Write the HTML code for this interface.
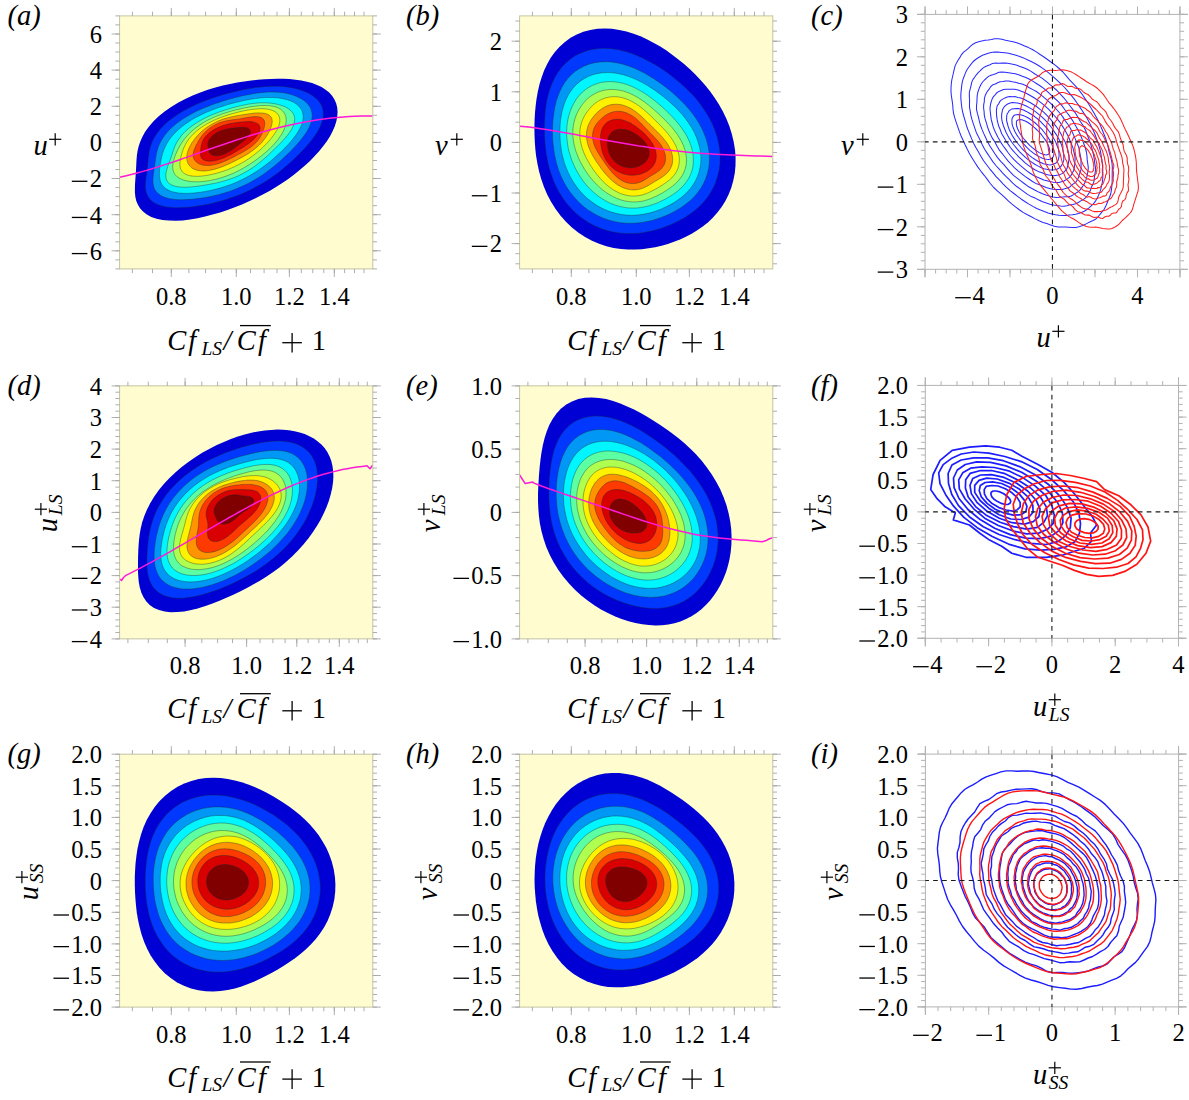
<!DOCTYPE html>
<html><head><meta charset="utf-8"><title>figure</title>
<style>html,body{margin:0;padding:0;background:#fff}svg{display:block}</style>
</head><body>
<svg width="1189" height="1100" viewBox="0 0 1189 1100" font-family='"Liberation Serif", serif' fill="#000">
<rect width="1189" height="1100" fill="#fff"/>
<g id="p_a">
<rect x="119.6" y="15.9" width="253.2" height="253" fill="#fffdd0"/>
<clipPath id="cl_a"><rect x="119.6" y="15.9" width="253.2" height="253"/></clipPath>
<g clip-path="url(#cl_a)" stroke-linejoin="round">
<path d="M136.3,164L136.5,159.9L136.9,155.6L137.5,151.2L138.6,146.5L140.2,141.7L142.4,136.7L145.3,131.6L149,126.4L153.5,121.3L158.7,116.3L164.6,111.4L171.1,106.9L178,102.7L185.2,98.9L192.7,95.4L200.3,92.4L207.8,89.7L215.4,87.5L222.8,85.5L230.1,83.9L237.2,82.5L244.2,81.4L251.1,80.5L257.8,79.8L264.4,79.2L270.8,78.9L277.2,78.8L283.5,78.8L289.6,79.1L295.5,79.7L301.3,80.5L306.9,81.7L312.1,83.1L317,84.9L321.6,87.1L325.6,89.7L329.2,92.6L332.1,95.8L334.5,99.4L336.2,103.4L337.2,107.6L337.6,112L337.2,116.7L336.3,121.5L334.7,126.4L332.5,131.4L329.9,136.4L326.7,141.4L323.1,146.3L319.1,151.3L314.7,156.1L310,160.9L305,165.6L299.7,170.1L294.2,174.6L288.3,178.9L282.3,183.1L276,187.1L269.5,190.9L262.8,194.5L256,198L249.1,201.3L242,204.4L234.8,207.3L227.5,209.9L220.1,212.4L212.6,214.6L205.1,216.6L197.6,218.2L190.1,219.5L182.8,220.4L175.6,220.7L168.8,220.6L162.4,219.9L156.5,218.7L151.3,216.9L146.8,214.5L143,211.6L140,208.3L137.8,204.6L136.2,200.7L135.3,196.6L134.9,192.4L134.9,188.2L135,184L135.3,179.9L135.6,175.9L135.9,171.9L136.1,168Z" fill="#0000d4"/>
<path d="M148,161.9L148.3,158.4L148.7,154.8L149.3,151L150.2,147L151.7,142.8L153.7,138.5L156.5,134L159.9,129.5L164.1,125.1L168.9,120.8L174.3,116.7L180.2,112.8L186.4,109.3L192.8,106L199.3,103.1L205.8,100.5L212.4,98.1L218.8,96L225.2,94.1L231.5,92.5L237.7,91L243.8,89.6L249.8,88.5L255.7,87.6L261.5,86.9L267.2,86.4L272.8,86.2L278.1,86.3L283.3,86.6L288.3,87.2L293,88L297.5,89.1L301.8,90.4L305.8,92L309.5,93.8L312.9,95.9L315.9,98.2L318.5,100.8L320.6,103.8L322.2,107L323.1,110.5L323.4,114.2L323,118.1L321.9,122.2L320.3,126.5L318.1,130.7L315.4,135L312.3,139.3L308.9,143.5L305.2,147.7L301.3,151.8L297.3,155.9L293.1,159.9L288.7,163.9L284.2,167.8L279.4,171.7L274.3,175.5L269,179.2L263.5,182.7L257.6,186.1L251.6,189.3L245.4,192.3L239.1,194.9L232.7,197.3L226.3,199.5L219.9,201.3L213.5,203L207.2,204.4L200.9,205.5L194.7,206.5L188.6,207.2L182.6,207.6L176.8,207.8L171.2,207.5L166,206.9L161.2,205.8L156.9,204.2L153.3,202.2L150.4,199.7L148.2,196.8L146.7,193.7L145.8,190.2L145.4,186.7L145.5,183L145.8,179.4L146.3,175.8L146.9,172.3L147.3,168.8L147.7,165.4Z" fill="#0038ff" stroke="#1a2a38" stroke-opacity="0.55" stroke-width="0.7"/>
<path d="M155.3,160.8L155.8,157.6L156.3,154.3L157.1,150.9L158.2,147.3L159.7,143.5L161.8,139.7L164.4,135.7L167.6,131.7L171.5,127.8L175.9,123.9L180.8,120.3L186.1,116.9L191.6,113.7L197.3,110.8L203.1,108.2L208.9,105.9L214.7,103.8L220.4,101.9L226,100.1L231.5,98.5L237,97.1L242.4,95.8L247.7,94.7L253,93.7L258.2,92.9L263.3,92.4L268.2,92.1L273,92L277.7,92.2L282.1,92.6L286.3,93.3L290.2,94.2L294,95.4L297.4,96.8L300.6,98.4L303.6,100.2L306.1,102.3L308.3,104.7L310.1,107.2L311.3,110.1L312,113.2L312.2,116.5L311.7,120L310.7,123.6L309.1,127.4L307.1,131.2L304.6,135L301.8,138.8L298.6,142.6L295.3,146.3L291.8,150L288.2,153.6L284.5,157.1L280.6,160.7L276.5,164.2L272.3,167.7L267.9,171.1L263.2,174.5L258.2,177.7L253.1,180.8L247.7,183.7L242.2,186.3L236.5,188.7L230.9,190.9L225.2,192.7L219.5,194.4L213.9,195.7L208.4,196.9L203,197.9L197.6,198.6L192.3,199.2L187.2,199.6L182.1,199.8L177.3,199.7L172.7,199.2L168.4,198.5L164.5,197.3L161.1,195.7L158.3,193.8L156.1,191.5L154.5,188.9L153.5,186L153,182.9L152.9,179.8L153.1,176.6L153.5,173.4L153.9,170.2L154.4,167.1L154.9,164Z" fill="#0098f4" stroke="#1a2a38" stroke-opacity="0.55" stroke-width="0.7"/>
<path d="M161.1,159.6L161.8,156.6L162.6,153.5L163.7,150.3L165.1,147L166.8,143.6L169,140.1L171.7,136.5L174.9,133L178.5,129.5L182.6,126.1L187,122.9L191.7,119.8L196.7,117L201.8,114.4L206.9,112.1L212,110L217.1,108.1L222.2,106.4L227.1,104.8L232,103.4L236.8,102.2L241.5,101.1L246.2,100.1L250.8,99.2L255.4,98.5L259.8,98L264.2,97.6L268.5,97.5L272.6,97.5L276.6,97.7L280.4,98.2L284,98.9L287.4,99.8L290.6,100.9L293.5,102.3L296.1,103.8L298.4,105.7L300.2,107.8L301.7,110.1L302.7,112.7L303.1,115.4L303.1,118.4L302.6,121.5L301.6,124.8L300.1,128.1L298.2,131.5L296,134.9L293.4,138.3L290.7,141.7L287.7,145L284.6,148.2L281.3,151.4L277.9,154.6L274.4,157.8L270.8,160.9L266.9,164L262.9,167L258.8,169.9L254.4,172.8L249.8,175.5L245.1,178.1L240.2,180.5L235.3,182.7L230.3,184.7L225.2,186.4L220.2,188L215.3,189.3L210.4,190.5L205.5,191.4L200.7,192.2L196,192.8L191.4,193.2L187,193.4L182.7,193.3L178.6,193L174.8,192.3L171.3,191.4L168.3,190.1L165.6,188.5L163.5,186.5L161.9,184.4L160.7,182L159.9,179.4L159.5,176.7L159.4,173.9L159.5,171.1L159.7,168.2L160.1,165.4L160.6,162.5Z" fill="#00f6ff" stroke="#1a2a38" stroke-opacity="0.55" stroke-width="0.7"/>
<path d="M171.1,157.3L172,154.7L172.8,152.1L173.7,149.5L174.7,146.7L176,143.9L177.6,140.9L179.7,137.9L182.1,134.8L185,131.7L188.4,128.7L192.1,125.8L196.2,123L200.5,120.4L204.9,118.1L209.4,115.9L214,114L218.5,112.3L223,110.7L227.4,109.3L231.8,108L236.1,106.8L240.3,105.8L244.5,104.9L248.5,104.1L252.6,103.5L256.5,103.1L260.3,102.8L264,102.8L267.5,102.9L270.9,103.2L274.1,103.6L277.2,104.3L280.1,105L282.9,106L285.5,107.1L287.8,108.4L289.9,109.9L291.7,111.6L293.2,113.5L294.1,115.7L294.7,118L294.6,120.6L294.1,123.4L293.1,126.3L291.6,129.2L289.7,132.3L287.5,135.3L285,138.2L282.3,141.2L279.6,144L276.8,146.8L273.9,149.6L271,152.4L268.1,155.2L265,157.9L261.8,160.7L258.4,163.5L254.8,166.2L251,168.8L246.9,171.3L242.7,173.6L238.3,175.8L233.9,177.7L229.4,179.3L225,180.7L220.6,181.9L216.3,183L212,183.8L207.8,184.6L203.7,185.3L199.5,185.9L195.4,186.5L191.3,186.9L187.3,187.2L183.3,187.2L179.6,187L176.1,186.5L173,185.6L170.4,184.4L168.4,182.7L166.9,180.8L166.1,178.5L165.8,176L165.9,173.3L166.5,170.6L167.3,167.9L168.2,165.1L169.2,162.5L170.2,159.9Z" fill="#5cffa2" stroke="#1a2a38" stroke-opacity="0.55" stroke-width="0.7"/>
<path d="M175.1,155.8L176.1,153.4L177.2,151L178.4,148.5L179.8,145.9L181.4,143.3L183.2,140.7L185.2,138L187.6,135.3L190.2,132.6L193.1,130L196.4,127.4L199.9,124.9L203.6,122.5L207.4,120.4L211.4,118.4L215.4,116.6L219.5,115L223.5,113.5L227.4,112.3L231.3,111.1L235.1,110.1L238.9,109.2L242.6,108.3L246.3,107.6L250,106.9L253.6,106.4L257.2,105.9L260.7,105.6L264.2,105.5L267.5,105.6L270.6,105.8L273.5,106.4L276.2,107.1L278.6,108.1L280.7,109.3L282.4,110.8L283.8,112.4L284.9,114.2L285.7,116.2L286.1,118.3L286.2,120.5L286,122.9L285.5,125.3L284.8,127.8L283.7,130.3L282.4,132.9L280.8,135.5L279,138.2L277,140.8L274.8,143.4L272.4,146L269.8,148.6L267.1,151.1L264.2,153.6L261.2,156L258.1,158.4L254.9,160.8L251.5,163.1L248,165.3L244.4,167.5L240.7,169.6L236.9,171.5L233,173.4L229,175L225,176.5L221,177.8L217.1,179L213.1,179.9L209.3,180.7L205.6,181.2L201.9,181.6L198.4,181.8L195.1,181.8L191.9,181.6L188.8,181.3L186,180.7L183.3,180L180.9,179.1L178.8,177.9L177,176.6L175.5,175.1L174.3,173.4L173.5,171.5L172.9,169.5L172.7,167.4L172.8,165.2L173.1,162.9L173.6,160.6L174.3,158.2Z" fill="#aeff50" stroke="#1a2a38" stroke-opacity="0.55" stroke-width="0.7"/>
<path d="M181.9,153.2L182.6,151.2L183.3,149.1L184.2,146.9L185.3,144.7L186.6,142.4L188.1,140.1L189.9,137.7L192.1,135.3L194.5,132.9L197.2,130.5L200.2,128.2L203.3,126.1L206.7,124L210.2,122.2L213.7,120.4L217.2,118.9L220.8,117.5L224.3,116.2L227.8,115L231.2,114L234.5,113.1L237.8,112.2L241.1,111.4L244.4,110.7L247.6,110.1L250.8,109.6L254,109.2L257.1,108.9L260.1,108.7L263,108.7L265.8,108.9L268.5,109.3L270.9,109.9L273.1,110.7L275,111.7L276.6,112.9L277.9,114.3L278.9,115.9L279.5,117.6L279.8,119.5L279.8,121.5L279.4,123.7L278.8,125.9L277.9,128.1L276.7,130.4L275.4,132.7L273.8,135L272.1,137.3L270.3,139.5L268.3,141.8L266.2,144L264,146.2L261.7,148.5L259.3,150.6L256.7,152.8L254,154.9L251.2,157L248.3,159L245.2,161L242,162.9L238.7,164.6L235.4,166.3L232,167.8L228.5,169.3L225.1,170.6L221.6,171.7L218.2,172.8L214.7,173.7L211.3,174.5L208,175.2L204.7,175.7L201.5,176.1L198.3,176.3L195.4,176.3L192.5,176.1L189.9,175.7L187.6,175.1L185.5,174.2L183.8,173.1L182.4,171.8L181.3,170.3L180.5,168.7L180.1,166.9L179.9,165.1L179.9,163.2L180.1,161.2L180.4,159.2L180.8,157.3L181.3,155.3Z" fill="#fff200" stroke="#1a2a38" stroke-opacity="0.55" stroke-width="0.7"/>
<path d="M188,150.8L188.7,149L189.5,147.2L190.5,145.3L191.6,143.3L192.9,141.4L194.4,139.4L196,137.3L197.8,135.3L199.7,133.3L201.9,131.2L204.3,129.2L206.9,127.3L209.7,125.5L212.6,123.8L215.6,122.2L218.7,120.8L221.8,119.6L224.9,118.6L227.9,117.7L230.8,117L233.7,116.4L236.5,115.8L239.2,115.4L241.9,114.9L244.5,114.5L247.2,114.1L249.9,113.7L252.6,113.3L255.3,113L258,112.9L260.6,112.9L263.1,113.1L265.3,113.5L267.3,114.1L269,115L270.3,116.1L271.3,117.4L271.9,118.9L272.2,120.6L272.2,122.3L271.9,124.1L271.5,126L270.8,127.9L270,129.8L269.1,131.7L268.1,133.6L267,135.5L265.7,137.4L264.3,139.3L262.8,141.2L261.1,143.2L259.2,145.1L257.2,146.9L255,148.7L252.7,150.5L250.3,152.2L247.8,153.9L245.2,155.4L242.6,157L239.9,158.4L237.2,159.8L234.5,161.2L231.7,162.6L228.9,163.9L226.1,165.1L223.1,166.4L220.1,167.5L217.1,168.5L214.1,169.4L211.1,170.1L208.2,170.6L205.4,170.9L202.7,171L200.3,170.8L198,170.5L196,169.9L194.1,169.2L192.5,168.4L191.1,167.3L190,166.2L189,165L188.2,163.7L187.6,162.3L187.1,160.8L186.8,159.3L186.7,157.7L186.8,156.1L187,154.4L187.4,152.6Z" fill="#ff9400" stroke="#1a2a38" stroke-opacity="0.55" stroke-width="0.7"/>
<path d="M194.8,148.3L195.5,146.7L196.2,145.1L197.1,143.5L198,141.9L198.9,140.2L200,138.5L201.1,136.8L202.5,135L204,133.2L205.7,131.4L207.7,129.7L209.8,128L212.2,126.4L214.8,124.9L217.4,123.7L220.1,122.6L222.8,121.7L225.5,121L228,120.5L230.5,120.1L232.8,119.8L235,119.5L237.2,119.2L239.4,118.9L241.6,118.5L243.8,118.1L246.1,117.7L248.5,117.3L250.9,116.9L253.2,116.7L255.5,116.6L257.7,116.7L259.6,117L261.3,117.6L262.6,118.5L263.7,119.5L264.3,120.7L264.7,122.1L264.8,123.6L264.7,125.1L264.4,126.6L264,128.2L263.5,129.8L262.9,131.3L262.3,132.9L261.6,134.5L260.8,136L259.9,137.6L258.8,139.2L257.6,140.8L256.1,142.5L254.5,144L252.8,145.6L250.9,147.1L248.8,148.5L246.7,149.8L244.6,151.1L242.5,152.3L240.3,153.5L238.2,154.6L236,155.8L233.9,156.9L231.6,158L229.4,159.1L227.1,160.2L224.7,161.3L222.2,162.3L219.7,163.2L217.2,164L214.7,164.6L212.2,165.1L209.8,165.4L207.6,165.5L205.4,165.4L203.5,165.2L201.7,164.8L200,164.2L198.5,163.5L197.2,162.7L196.1,161.8L195.1,160.8L194.3,159.7L193.7,158.5L193.3,157.2L193.1,155.9L193.1,154.4L193.3,153L193.6,151.4L194.1,149.9Z" fill="#ff3a00" stroke="#1a2a38" stroke-opacity="0.55" stroke-width="0.7"/>
<path d="M201.1,146.4L201.3,145.2L201.6,144L201.9,142.8L202.4,141.5L203,140.1L203.8,138.7L204.8,137.3L206,135.9L207.4,134.4L209.1,133L210.8,131.6L212.8,130.3L214.9,129.1L217,128L219.2,127L221.5,126.1L223.7,125.3L225.9,124.7L228,124.1L230.1,123.6L232.1,123.2L234,122.9L235.9,122.6L237.8,122.4L239.6,122.1L241.5,121.9L243.3,121.8L245.1,121.7L246.8,121.6L248.6,121.6L250.3,121.6L251.9,121.8L253.5,122L254.9,122.4L256.2,122.9L257.4,123.5L258.4,124.2L259.1,125.1L259.7,126.1L260,127.1L260.1,128.3L260,129.5L259.7,130.8L259.2,132.1L258.5,133.5L257.6,134.9L256.5,136.2L255.4,137.6L254.1,138.9L252.7,140.2L251.3,141.5L249.8,142.7L248.2,143.9L246.6,145L245,146.1L243.4,147.2L241.8,148.2L240.1,149.3L238.4,150.3L236.7,151.3L235,152.3L233.2,153.3L231.3,154.4L229.4,155.3L227.4,156.3L225.3,157.3L223.1,158.2L220.9,159L218.7,159.7L216.5,160.3L214.3,160.8L212.1,161.1L210.1,161.2L208.2,161.2L206.5,160.9L205,160.5L203.7,160L202.6,159.3L201.8,158.4L201.1,157.5L200.7,156.4L200.4,155.3L200.3,154.2L200.3,153.1L200.4,152L200.5,150.8L200.6,149.7L200.8,148.6L200.9,147.5Z" fill="#d80000" stroke="#1a2a38" stroke-opacity="0.55" stroke-width="0.7"/>
<path d="M207.8,145L207.7,144.2L207.8,143.3L208,142.4L208.3,141.4L208.7,140.4L209.3,139.3L210.1,138.3L211,137.2L212.1,136.1L213.3,135.1L214.7,134.1L216.1,133.1L217.7,132.3L219.3,131.5L220.9,130.8L222.5,130.2L224.1,129.7L225.6,129.3L227.1,128.9L228.5,128.7L229.9,128.4L231.3,128.3L232.5,128.1L233.8,128L235,127.8L236.2,127.7L237.5,127.6L238.7,127.5L240,127.4L241.2,127.3L242.5,127.3L243.7,127.3L244.9,127.4L246.1,127.6L247.1,127.8L248.1,128.2L248.9,128.7L249.5,129.2L250,129.9L250.3,130.7L250.4,131.5L250.3,132.5L250,133.5L249.5,134.5L248.9,135.5L248.1,136.6L247.2,137.6L246.2,138.6L245.2,139.6L244.1,140.5L243,141.4L242,142.3L240.9,143.1L239.8,143.9L238.8,144.7L237.7,145.6L236.7,146.4L235.6,147.2L234.5,148.1L233.3,148.9L232,149.8L230.7,150.7L229.3,151.5L227.9,152.3L226.3,153.1L224.8,153.8L223.2,154.4L221.5,154.9L220,155.3L218.4,155.6L217,155.7L215.6,155.7L214.3,155.6L213.2,155.4L212.3,155L211.4,154.6L210.7,154L210.2,153.4L209.7,152.8L209.4,152.1L209.1,151.4L208.9,150.7L208.7,150L208.5,149.3L208.4,148.6L208.2,147.9L208.1,147.2L207.9,146.5L207.8,145.8Z" fill="#800000" stroke="#1a2a38" stroke-opacity="0.55" stroke-width="0.7"/>
<path d="M119.4,177.2L125.3,175.9L131.2,174.5L137.1,173L143,171.4L148.9,169.7L154.8,167.9L160.7,166L166.5,164.1L172.4,162.2L178.3,160.2L184.2,158.1L190.1,156.1L196,154L201.9,151.9L207.8,149.8L213.7,147.8L219.6,145.7L225.5,143.7L231.4,141.7L237.3,139.8L243.2,137.9L249,136L254.9,134.2L260.8,132.5L266.7,130.8L272.6,129.2L278.5,127.7L284.4,126.3L290.3,124.9L296.2,123.7L302.1,122.5L308,121.4L313.9,120.4L319.8,119.5L325.7,118.7L331.5,118L337.4,117.4L343.3,116.9L349.2,116.6L355.1,116.3L361,116.1L366.9,116L372.8,116" fill="none" stroke="#ff1ad9" stroke-width="1.5" stroke-linejoin="round"/>
</g>
<rect x="119.6" y="15.9" width="253.2" height="253" fill="none" stroke="#c4c4a4" stroke-width="1"/>
<path d="M132.4,11.7V15.9M132.4,268.9V273.1M152.5,11.7V15.9M152.5,268.9V273.1M171.3,11.7V15.9M171.3,268.9V273.1M188.9,11.7V15.9M188.9,268.9V273.1M205.6,11.7V15.9M205.6,268.9V273.1M221.4,11.7V15.9M221.4,268.9V273.1M236.3,11.7V15.9M236.3,268.9V273.1M250.5,11.7V15.9M250.5,268.9V273.1M264.1,11.7V15.9M264.1,268.9V273.1M277,11.7V15.9M277,268.9V273.1M289.4,11.7V15.9M289.4,268.9V273.1M301.3,11.7V15.9M301.3,268.9V273.1M312.8,11.7V15.9M312.8,268.9V273.1M323.8,11.7V15.9M323.8,268.9V273.1M334.3,11.7V15.9M334.3,268.9V273.1M344.6,11.7V15.9M344.6,268.9V273.1M354.5,11.7V15.9M354.5,268.9V273.1M364,11.7V15.9M364,268.9V273.1M171.3,7.9V15.9M171.3,268.9V276.9M236.3,7.9V15.9M236.3,268.9V276.9M289.4,7.9V15.9M289.4,268.9V276.9M334.3,7.9V15.9M334.3,268.9V276.9M115.4,268.9H119.6M372.8,268.9H377M115.4,259.9H119.6M372.8,259.9H377M115.4,250.8H119.6M372.8,250.8H377M115.4,241.8H119.6M372.8,241.8H377M115.4,232.8H119.6M372.8,232.8H377M115.4,223.7H119.6M372.8,223.7H377M115.4,214.7H119.6M372.8,214.7H377M115.4,205.7H119.6M372.8,205.7H377M115.4,196.6H119.6M372.8,196.6H377M115.4,187.6H119.6M372.8,187.6H377M115.4,178.5H119.6M372.8,178.5H377M115.4,169.5H119.6M372.8,169.5H377M115.4,160.5H119.6M372.8,160.5H377M115.4,151.4H119.6M372.8,151.4H377M115.4,142.4H119.6M372.8,142.4H377M115.4,133.4H119.6M372.8,133.4H377M115.4,124.3H119.6M372.8,124.3H377M115.4,115.3H119.6M372.8,115.3H377M115.4,106.3H119.6M372.8,106.3H377M115.4,97.2H119.6M372.8,97.2H377M115.4,88.2H119.6M372.8,88.2H377M115.4,79.2H119.6M372.8,79.2H377M115.4,70.1H119.6M372.8,70.1H377M115.4,61.1H119.6M372.8,61.1H377M115.4,52H119.6M372.8,52H377M115.4,43H119.6M372.8,43H377M115.4,34H119.6M372.8,34H377M115.4,24.9H119.6M372.8,24.9H377M115.4,15.9H119.6M372.8,15.9H377M111.6,250.8H119.6M372.8,250.8H380.8M111.6,214.7H119.6M372.8,214.7H380.8M111.6,178.5H119.6M372.8,178.5H380.8M111.6,142.4H119.6M372.8,142.4H380.8M111.6,106.3H119.6M372.8,106.3H380.8M111.6,70.1H119.6M372.8,70.1H380.8M111.6,34H119.6M372.8,34H380.8" stroke="#a6a6a6" stroke-width="0.9" fill="none"/>
</g>
<g id="p_b">
<rect x="519.6" y="15.9" width="253.2" height="253" fill="#fffdd0"/>
<clipPath id="cl_b"><rect x="519.6" y="15.9" width="253.2" height="253"/></clipPath>
<g clip-path="url(#cl_b)" stroke-linejoin="round">
<path d="M534.5,134.2L534.4,127L534.6,119.8L535,112.6L535.7,105.5L536.6,98.4L537.9,91.3L539.5,84.3L541.6,77.4L544.1,70.6L547.2,64.1L550.7,57.8L554.9,52L559.6,46.7L564.9,41.9L570.6,37.8L576.8,34.4L583.4,31.8L590.3,29.9L597.4,28.8L604.7,28.4L612,28.8L619.3,29.9L626.5,31.5L633.6,33.7L640.5,36.3L647.3,39.4L653.9,42.9L660.3,46.6L666.5,50.6L672.5,54.9L678.4,59.4L684.1,64.1L689.7,69L695.1,74.2L700.3,79.7L705.4,85.5L710.2,91.5L714.8,97.9L719,104.6L722.9,111.5L726.4,118.8L729.4,126.3L731.8,134L733.7,141.8L735,149.7L735.6,157.6L735.5,165.5L734.8,173.1L733.3,180.6L731.3,187.8L728.6,194.6L725.4,201.1L721.6,207.1L717.4,212.6L712.8,217.7L707.9,222.4L702.7,226.6L697.3,230.3L691.7,233.7L685.9,236.7L680,239.4L674,241.8L667.8,243.9L661.6,245.7L655.2,247.2L648.6,248.3L641.9,249.2L635,249.6L628,249.6L620.9,249L613.6,247.9L606.4,246.2L599.1,243.8L592,240.8L585,237L578.2,232.6L571.9,227.5L565.9,221.8L560.4,215.5L555.4,208.8L551,201.8L547.2,194.4L544,186.9L541.3,179.3L539.1,171.6L537.5,164L536.2,156.4L535.3,148.9L534.8,141.5Z" fill="#0000d4"/>
<path d="M544.7,136.2L544.5,130.2L544.5,124.2L544.8,118.2L545.2,112.2L545.9,106.3L546.9,100.3L548.3,94.4L550,88.6L552.2,82.9L554.9,77.4L558,72.2L561.7,67.3L565.8,62.9L570.4,59L575.5,55.6L581,52.9L586.8,50.8L592.8,49.3L599.1,48.5L605.4,48.3L611.8,48.7L618.2,49.7L624.5,51.2L630.6,53.1L636.7,55.4L642.6,58L648.3,60.9L653.9,64L659.3,67.3L664.6,70.8L669.7,74.5L674.7,78.4L679.7,82.5L684.5,86.8L689.1,91.3L693.7,96.1L698,101.1L702,106.5L705.8,112.1L709.3,117.9L712.4,124.1L715,130.4L717.1,136.8L718.7,143.4L719.7,150.1L720.1,156.7L720,163.2L719.2,169.6L717.8,175.8L715.9,181.7L713.5,187.3L710.6,192.6L707.3,197.5L703.6,202.1L699.6,206.3L695.3,210.1L690.8,213.5L686.1,216.7L681.3,219.5L676.4,222.1L671.3,224.4L666.1,226.5L660.8,228.4L655.4,230L649.8,231.3L644.1,232.4L638.2,233.2L632.2,233.6L626.1,233.5L619.8,233.1L613.4,232.1L607,230.5L600.7,228.4L594.5,225.7L588.4,222.4L582.5,218.6L577,214.2L571.9,209.3L567.2,204L562.9,198.3L559.2,192.4L555.9,186.2L553.2,179.9L550.9,173.6L549,167.2L547.6,160.9L546.4,154.6L545.6,148.4L545,142.3Z" fill="#0038ff" stroke="#1a2a38" stroke-opacity="0.55" stroke-width="0.7"/>
<path d="M552.6,137.7L552.5,132.5L552.6,127.3L552.8,122.1L553.3,117L554,111.9L554.9,106.8L556.1,101.7L557.7,96.8L559.6,91.9L561.9,87.2L564.6,82.8L567.7,78.6L571.3,74.7L575.3,71.3L579.7,68.4L584.5,65.9L589.6,64L594.9,62.7L600.4,61.9L606,61.7L611.7,62.1L617.4,62.9L623.1,64.3L628.6,66L634.1,68.1L639.3,70.5L644.5,73.1L649.4,76L654.3,79L659,82.2L663.5,85.5L668,89L672.4,92.6L676.7,96.4L680.9,100.4L684.9,104.6L688.8,109L692.5,113.6L696,118.5L699.2,123.6L702.1,128.9L704.5,134.4L706.5,140.1L708,145.8L709,151.6L709.4,157.3L709.3,163L708.6,168.6L707.3,173.9L705.6,179L703.4,183.8L700.8,188.3L697.8,192.5L694.5,196.4L691,199.9L687.2,203.1L683.3,206.1L679.2,208.8L675,211.2L670.7,213.5L666.2,215.5L661.7,217.3L657,218.9L652.2,220.4L647.3,221.5L642.2,222.4L636.9,223L631.6,223.3L626.1,223.2L620.5,222.7L614.8,221.7L609.1,220.2L603.5,218.3L597.9,215.8L592.5,212.8L587.3,209.4L582.4,205.5L577.8,201.2L573.6,196.6L569.8,191.7L566.3,186.5L563.4,181.2L560.8,175.7L558.6,170.2L556.9,164.7L555.5,159.2L554.4,153.7L553.6,148.3L553,143Z" fill="#0098f4" stroke="#1a2a38" stroke-opacity="0.55" stroke-width="0.7"/>
<path d="M560.1,139L559.9,134.3L559.9,129.7L560.1,125.1L560.5,120.6L561.2,116.1L562,111.6L563.2,107.2L564.6,102.9L566.4,98.7L568.5,94.6L571,90.8L573.8,87.2L577,83.9L580.6,80.9L584.5,78.4L588.7,76.3L593.2,74.6L597.9,73.4L602.8,72.7L607.8,72.6L612.9,72.8L618,73.6L623.1,74.7L628.1,76.3L632.9,78.1L637.7,80.2L642.3,82.6L646.8,85.1L651.2,87.9L655.4,90.7L659.5,93.7L663.5,96.8L667.5,100.1L671.3,103.5L675.1,107L678.7,110.7L682.2,114.6L685.6,118.8L688.7,123.1L691.6,127.6L694.2,132.3L696.4,137.2L698.2,142.2L699.6,147.3L700.5,152.4L700.9,157.4L700.8,162.4L700.1,167.3L699.1,172L697.5,176.4L695.6,180.6L693.2,184.6L690.6,188.2L687.7,191.6L684.5,194.7L681.2,197.5L677.7,200.1L674.1,202.5L670.4,204.6L666.6,206.6L662.6,208.4L658.6,210.1L654.4,211.5L650.2,212.8L645.7,213.8L641.2,214.6L636.5,215.1L631.6,215.3L626.7,215.1L621.7,214.5L616.6,213.5L611.5,212.1L606.5,210.3L601.5,208L596.7,205.3L592.1,202.1L587.7,198.7L583.6,194.9L579.8,190.8L576.4,186.4L573.3,181.9L570.6,177.2L568.2,172.5L566.1,167.6L564.4,162.8L563,158L561.9,153.2L561.1,148.4L560.5,143.7Z" fill="#00f6ff" stroke="#1a2a38" stroke-opacity="0.55" stroke-width="0.7"/>
<path d="M567,139.4L566.7,135.3L566.7,131.2L566.9,127.1L567.3,123.1L568,119.2L568.9,115.4L570.1,111.6L571.5,108L573.2,104.5L575.1,101.1L577.3,97.8L579.8,94.8L582.6,92L585.6,89.5L589,87.2L592.6,85.3L596.4,83.8L600.5,82.6L604.7,81.9L609.1,81.6L613.6,81.7L618.1,82.3L622.6,83.2L627.1,84.6L631.5,86.3L635.8,88.3L639.9,90.5L644,92.9L647.8,95.5L651.6,98.3L655.2,101.1L658.7,104L662.2,107L665.6,110.1L668.9,113.3L672.1,116.6L675.3,120.1L678.3,123.7L681.3,127.5L684,131.5L686.5,135.6L688.7,139.9L690.5,144.3L691.9,148.9L692.9,153.4L693.3,157.9L693.3,162.4L692.9,166.7L691.9,170.8L690.5,174.7L688.7,178.3L686.5,181.7L684.1,184.8L681.5,187.6L678.6,190.2L675.6,192.6L672.6,194.7L669.4,196.7L666.2,198.6L662.8,200.3L659.5,201.9L656,203.4L652.4,204.7L648.6,205.9L644.7,206.8L640.7,207.6L636.5,208L632.2,208.1L627.8,207.9L623.3,207.2L618.8,206.2L614.3,204.8L609.8,203L605.5,200.7L601.3,198.2L597.2,195.3L593.4,192.1L589.8,188.7L586.4,185L583.3,181.2L580.5,177.2L578,173.1L575.7,169L573.7,164.8L571.9,160.6L570.5,156.3L569.2,152.1L568.2,147.8L567.5,143.6Z" fill="#5cffa2" stroke="#1a2a38" stroke-opacity="0.55" stroke-width="0.7"/>
<path d="M573.3,139.9L572.9,136.2L572.8,132.5L573,128.9L573.4,125.4L574.1,121.9L575,118.6L576.1,115.4L577.5,112.3L579.1,109.3L580.9,106.5L582.9,103.8L585.1,101.2L587.5,98.8L590.1,96.6L593,94.7L596.1,93L599.4,91.6L602.9,90.5L606.6,89.8L610.4,89.5L614.3,89.5L618.3,90L622.4,90.8L626.4,92.1L630.3,93.6L634.1,95.5L637.9,97.6L641.4,99.9L644.9,102.3L648.2,104.9L651.4,107.5L654.5,110.2L657.5,112.9L660.5,115.7L663.4,118.5L666.3,121.4L669.2,124.5L672.1,127.7L674.8,131L677.4,134.5L679.7,138.2L681.8,142L683.6,146L685,150L685.9,154.1L686.4,158.1L686.4,162L686,165.8L685,169.4L683.7,172.8L682,175.9L680,178.7L677.8,181.3L675.4,183.7L672.8,185.9L670.2,187.8L667.6,189.7L664.8,191.4L662.1,193.1L659.3,194.6L656.4,196.1L653.4,197.5L650.3,198.8L647.1,199.9L643.7,200.9L640.1,201.5L636.4,201.9L632.6,201.9L628.7,201.6L624.7,200.9L620.6,199.8L616.6,198.3L612.7,196.5L608.9,194.3L605.2,191.9L601.7,189.2L598.4,186.2L595.3,183.1L592.3,179.9L589.6,176.5L587.1,173L584.7,169.5L582.6,165.9L580.6,162.3L578.8,158.6L577.3,154.9L575.9,151.2L574.8,147.4L573.9,143.7Z" fill="#aeff50" stroke="#1a2a38" stroke-opacity="0.55" stroke-width="0.7"/>
<path d="M580.4,140.8L579.9,137.5L579.8,134.3L579.9,131.1L580.2,128L580.9,125L581.7,122.1L582.8,119.3L584.1,116.7L585.5,114.2L587.1,111.8L588.9,109.5L590.8,107.3L592.9,105.3L595.1,103.4L597.5,101.6L600.1,100.1L602.9,98.8L605.9,97.8L609,97.1L612.3,96.7L615.7,96.7L619.2,97L622.7,97.8L626.2,98.9L629.6,100.3L633,102L636.2,104L639.3,106.1L642.3,108.4L645.1,110.8L647.8,113.2L650.4,115.6L653,118.1L655.5,120.6L658,123.1L660.5,125.6L663.1,128.2L665.6,131L668,133.8L670.4,136.9L672.6,140.1L674.6,143.4L676.3,146.9L677.7,150.4L678.7,154L679.3,157.6L679.3,161.1L679,164.5L678.2,167.7L677,170.6L675.5,173.3L673.6,175.8L671.6,178L669.4,180L667.2,181.7L664.8,183.4L662.5,184.9L660.1,186.4L657.8,187.8L655.4,189.2L652.9,190.5L650.4,191.8L647.8,193L645,194.1L642.1,195L639.1,195.6L635.9,196L632.5,196.1L629.1,195.8L625.6,195.1L622,194.1L618.6,192.7L615.1,190.9L611.9,188.9L608.7,186.5L605.7,184L602.9,181.3L600.3,178.5L597.8,175.6L595.5,172.7L593.3,169.7L591.3,166.6L589.4,163.5L587.6,160.4L585.9,157.2L584.4,154L583.1,150.8L582,147.5L581.1,144.2Z" fill="#fff200" stroke="#1a2a38" stroke-opacity="0.55" stroke-width="0.7"/>
<path d="M587.2,141.8L586.7,138.9L586.5,136.1L586.5,133.4L586.8,130.7L587.4,128.1L588.1,125.7L589.1,123.4L590.3,121.2L591.6,119.1L593,117.2L594.5,115.3L596.1,113.5L597.9,111.8L599.8,110.2L601.8,108.7L603.9,107.4L606.2,106.2L608.7,105.3L611.3,104.6L614.1,104.3L617,104.2L620,104.5L623,105.2L626.1,106.2L629,107.5L631.9,109.1L634.7,110.9L637.4,112.9L639.9,115L642.2,117.1L644.5,119.3L646.7,121.4L648.8,123.5L651,125.6L653.1,127.8L655.3,129.9L657.6,132.1L659.8,134.4L662,136.8L664.2,139.4L666.3,142.1L668.2,145L669.8,148L671.2,151.1L672.1,154.2L672.6,157.3L672.7,160.4L672.4,163.3L671.6,166L670.5,168.4L669.1,170.7L667.4,172.7L665.6,174.4L663.6,176L661.6,177.4L659.6,178.7L657.6,179.9L655.6,181.1L653.6,182.3L651.7,183.5L649.7,184.7L647.7,185.9L645.5,187L643.2,188.1L640.8,188.9L638.2,189.5L635.4,189.9L632.6,189.9L629.6,189.6L626.6,188.9L623.5,187.9L620.6,186.5L617.7,184.9L614.9,182.9L612.3,180.8L609.8,178.5L607.5,176.1L605.3,173.7L603.3,171.2L601.3,168.7L599.5,166.1L597.7,163.6L596,161L594.4,158.4L592.8,155.8L591.4,153.1L590.1,150.3L588.9,147.5L587.9,144.7Z" fill="#ff9400" stroke="#1a2a38" stroke-opacity="0.55" stroke-width="0.7"/>
<path d="M593.5,142.7L592.9,140.3L592.6,137.9L592.5,135.5L592.7,133.2L593.1,131L593.8,128.9L594.6,127L595.7,125.2L596.8,123.5L598.1,121.9L599.5,120.4L601,118.9L602.5,117.6L604.2,116.3L605.9,115.1L607.7,114.1L609.7,113.1L611.7,112.3L613.9,111.7L616.3,111.4L618.7,111.3L621.2,111.5L623.7,112L626.3,112.8L628.8,113.9L631.3,115.3L633.6,116.8L635.9,118.5L637.9,120.3L639.9,122.2L641.8,124.1L643.6,126L645.3,127.8L647,129.6L648.7,131.4L650.5,133.2L652.3,135L654.2,136.9L656.1,138.9L657.9,141L659.7,143.2L661.4,145.6L662.8,148.1L664,150.7L664.9,153.3L665.4,155.9L665.6,158.5L665.4,160.9L664.8,163.2L663.9,165.3L662.7,167.1L661.3,168.8L659.7,170.3L658,171.5L656.3,172.7L654.6,173.8L652.9,174.8L651.2,175.8L649.6,176.8L648,177.8L646.3,178.9L644.6,179.9L642.8,180.9L640.9,181.9L638.9,182.6L636.7,183.2L634.4,183.6L631.9,183.6L629.4,183.3L626.8,182.7L624.2,181.8L621.7,180.5L619.3,179L617,177.2L614.8,175.3L612.8,173.3L611,171.2L609.3,169.1L607.7,166.9L606.1,164.8L604.7,162.7L603.2,160.6L601.8,158.6L600.4,156.5L599.1,154.3L597.7,152.1L596.5,149.9L595.3,147.6L594.3,145.2Z" fill="#ff3a00" stroke="#1a2a38" stroke-opacity="0.55" stroke-width="0.7"/>
<path d="M600.8,144.8L600.6,143L600.4,141.3L600.3,139.5L600.4,137.7L600.5,135.9L600.7,134.1L601,132.3L601.4,130.6L602,128.9L602.8,127.3L603.7,125.8L604.8,124.4L606.1,123.1L607.5,122L609.1,121L610.9,120.3L612.7,119.7L614.7,119.4L616.7,119.3L618.7,119.3L620.8,119.6L622.9,120L625,120.7L627,121.4L629,122.3L630.9,123.3L632.7,124.4L634.5,125.5L636.2,126.7L637.8,127.9L639.4,129.2L641,130.5L642.5,131.8L643.9,133.1L645.4,134.5L646.7,136L648.1,137.5L649.4,139.1L650.6,140.7L651.8,142.4L652.8,144.1L653.8,145.9L654.6,147.8L655.3,149.7L655.8,151.6L656.1,153.5L656.3,155.4L656.3,157.3L656,159.1L655.6,160.9L655.1,162.5L654.3,164.1L653.4,165.5L652.4,166.9L651.2,168.1L650,169.3L648.7,170.3L647.2,171.2L645.8,172L644.2,172.7L642.6,173.4L641,173.9L639.3,174.4L637.5,174.7L635.7,175L633.9,175.2L632,175.2L630,175.2L628,175L626,174.6L624,174.1L622,173.5L620,172.6L618,171.7L616.1,170.5L614.2,169.3L612.5,167.9L610.9,166.4L609.3,164.7L608,163L606.7,161.3L605.6,159.5L604.6,157.6L603.8,155.8L603,153.9L602.4,152.1L601.9,150.3L601.4,148.4L601.1,146.6Z" fill="#d80000" stroke="#1a2a38" stroke-opacity="0.55" stroke-width="0.7"/>
<path d="M607.6,146.8L607.5,145.5L607.4,144.3L607.4,143.1L607.5,141.8L607.6,140.6L607.8,139.4L608.1,138.2L608.5,137L609.1,135.8L609.7,134.7L610.5,133.7L611.3,132.7L612.3,131.9L613.5,131.1L614.7,130.5L616,130L617.4,129.6L618.8,129.3L620.3,129.2L621.8,129.2L623.4,129.3L624.9,129.5L626.4,129.9L627.9,130.3L629.4,130.8L630.8,131.4L632.2,132.1L633.5,132.8L634.8,133.5L636,134.3L637.3,135.1L638.4,136L639.6,136.9L640.7,137.8L641.8,138.8L642.8,139.8L643.8,140.8L644.8,141.9L645.6,143.1L646.4,144.3L647.2,145.5L647.8,146.8L648.3,148.1L648.7,149.4L649,150.7L649.2,152L649.2,153.3L649.1,154.6L648.9,155.9L648.5,157.1L648,158.2L647.5,159.3L646.8,160.3L646,161.3L645.1,162.2L644.2,163L643.2,163.8L642.1,164.5L641,165.1L639.9,165.7L638.7,166.2L637.4,166.6L636.1,167L634.8,167.3L633.4,167.5L631.9,167.7L630.5,167.7L629,167.7L627.5,167.6L625.9,167.3L624.4,167L622.9,166.5L621.4,165.9L619.9,165.2L618.5,164.5L617.2,163.6L615.9,162.6L614.7,161.5L613.6,160.4L612.7,159.3L611.8,158.1L611,156.8L610.3,155.6L609.7,154.3L609.2,153L608.7,151.8L608.4,150.5L608.1,149.3L607.8,148Z" fill="#800000" stroke="#1a2a38" stroke-opacity="0.55" stroke-width="0.7"/>
<path d="M519.6,126.2L523,126.6L523,126.4L528.8,127.1L534.6,127.8L540.4,128.7L546.2,129.6L552,130.5L557.9,131.5L563.7,132.5L569.5,133.5L575.3,134.6L581.1,135.7L586.9,136.8L592.7,137.9L598.5,138.9L604.3,140L610.1,141.1L615.9,142.1L621.8,143.1L627.6,144.1L633.4,145L639.2,146L645,146.8L650.8,147.7L656.6,148.5L662.4,149.3L668.2,150L674,150.7L679.9,151.3L685.7,151.9L691.5,152.4L697.3,152.9L703.1,153.4L708.9,153.8L714.7,154.2L720.5,154.5L726.3,154.8L732.1,155.1L737.9,155.3L743.8,155.5L749.6,155.7L755.4,155.9L761.2,156.1L767,156.2L772.8,156.4" fill="none" stroke="#ff1ad9" stroke-width="1.5" stroke-linejoin="round"/>
</g>
<rect x="519.6" y="15.9" width="253.2" height="253" fill="none" stroke="#c4c4a4" stroke-width="1"/>
<path d="M532.4,11.7V15.9M532.4,268.9V273.1M552.5,11.7V15.9M552.5,268.9V273.1M571.3,11.7V15.9M571.3,268.9V273.1M588.9,11.7V15.9M588.9,268.9V273.1M605.6,11.7V15.9M605.6,268.9V273.1M621.4,11.7V15.9M621.4,268.9V273.1M636.3,11.7V15.9M636.3,268.9V273.1M650.5,11.7V15.9M650.5,268.9V273.1M664.1,11.7V15.9M664.1,268.9V273.1M677,11.7V15.9M677,268.9V273.1M689.4,11.7V15.9M689.4,268.9V273.1M701.3,11.7V15.9M701.3,268.9V273.1M712.8,11.7V15.9M712.8,268.9V273.1M723.8,11.7V15.9M723.8,268.9V273.1M734.3,11.7V15.9M734.3,268.9V273.1M744.6,11.7V15.9M744.6,268.9V273.1M754.5,11.7V15.9M754.5,268.9V273.1M764,11.7V15.9M764,268.9V273.1M571.3,7.9V15.9M571.3,268.9V276.9M636.3,7.9V15.9M636.3,268.9V276.9M689.4,7.9V15.9M689.4,268.9V276.9M734.3,7.9V15.9M734.3,268.9V276.9M515.4,263.8H519.6M772.8,263.8H777M515.4,253.7H519.6M772.8,253.7H777M515.4,243.6H519.6M772.8,243.6H777M515.4,233.5H519.6M772.8,233.5H777M515.4,223.4H519.6M772.8,223.4H777M515.4,213.2H519.6M772.8,213.2H777M515.4,203.1H519.6M772.8,203.1H777M515.4,193H519.6M772.8,193H777M515.4,182.9H519.6M772.8,182.9H777M515.4,172.8H519.6M772.8,172.8H777M515.4,162.6H519.6M772.8,162.6H777M515.4,152.5H519.6M772.8,152.5H777M515.4,142.4H519.6M772.8,142.4H777M515.4,132.3H519.6M772.8,132.3H777M515.4,122.2H519.6M772.8,122.2H777M515.4,112H519.6M772.8,112H777M515.4,101.9H519.6M772.8,101.9H777M515.4,91.8H519.6M772.8,91.8H777M515.4,81.7H519.6M772.8,81.7H777M515.4,71.6H519.6M772.8,71.6H777M515.4,61.4H519.6M772.8,61.4H777M515.4,51.3H519.6M772.8,51.3H777M515.4,41.2H519.6M772.8,41.2H777M515.4,31.1H519.6M772.8,31.1H777M515.4,21H519.6M772.8,21H777M511.6,243.6H519.6M772.8,243.6H780.8M511.6,193H519.6M772.8,193H780.8M511.6,142.4H519.6M772.8,142.4H780.8M511.6,91.8H519.6M772.8,91.8H780.8M511.6,41.2H519.6M772.8,41.2H780.8" stroke="#a6a6a6" stroke-width="0.9" fill="none"/>
</g>
<g id="p_c">
<path d="M1093.1,220.5L1090.3,221.7L1087.5,223.1L1084.8,224.6L1082,225.8L1078.9,226.8L1075.7,227.5L1072.3,227.6L1068.7,227.3L1065.2,227L1061.7,227L1058.2,226.9L1054.4,226.2L1050.6,224.9L1046.8,223.6L1043,222.4L1039.1,220.8L1035.2,218.9L1031.3,216.8L1027.4,214.8L1023.5,212.6L1019.6,210L1015.8,207.1L1012,204.1L1008.3,200.9L1004.7,197.4L1001.1,194.1L997.3,190.9L993.7,187.5L990.3,183.5L987.3,179.4L984.2,175.3L981,171.3L977.9,167.1L975.1,162.8L972.4,158.4L969.7,154L967.4,149.6L965.2,145L963.2,140.5L961.1,136L959.3,131.4L957.8,126.9L956.2,122.3L954.7,117.7L953.5,113.2L953,108.9L952.7,104.7L952.1,100.4L951.4,96L951,91.7L951,87.7L951.3,83.8L951.8,80L952.6,76.5L953.4,73L954.2,69.4L955.1,65.9L956.5,62.9L958.2,60.1L959.9,57.4L961.5,54.6L963.6,52.2L966,50.3L968.3,48.3L970.6,46.2L972.9,44.2L975.6,42.7L978.7,41.7L981.8,41L985,40.3L988.2,39.9L991.5,39.4L994.7,38.8L998.2,38.7L1001.9,39.3L1005.6,40.2L1009.3,41L1013,41.7L1016.8,42.7L1020.7,44.3L1024.6,45.9L1028.5,47.6L1032.4,49.5L1036.3,51.9L1040.1,54.5L1044,57L1047.8,59.7L1051.6,62.5L1055.5,65.4L1059.2,68.5L1062.9,72L1066.2,75.9L1069.6,79.8L1073,83.4L1076.5,87.1L1079.8,91.1L1082.8,95.3L1085.7,99.6L1088.5,103.8L1091.2,108.2L1093.7,112.6L1096.2,117.1L1098.6,121.6L1100.7,126.1L1102.6,130.7L1104.4,135.2L1106.1,139.8L1107.4,144.3L1108.4,148.7L1109.4,153.2L1110.8,157.7L1111.9,162.3L1112.3,166.5L1112.3,170.6L1112.2,174.6L1112.2,178.7L1112.1,182.6L1111.8,186.5L1111.4,190.3L1110.7,194L1109.5,197.2L1108.2,200.3L1106.9,203.5L1105.6,206.6L1104,209.5L1102,211.9L1100,214.3L1098.1,216.8L1095.9,219Z" fill="none" stroke="#2a2aff" stroke-width="1.05" stroke-linejoin="round"/>
<path d="M1086.7,209.7L1084.2,211.2L1081.4,212.4L1078.6,213.5L1075.6,214.3L1072.4,214.8L1069.2,215.1L1066,215.5L1062.6,215.6L1059.1,215.3L1055.5,214.8L1051.9,214.1L1048.1,213L1044.3,211.6L1040.5,210.1L1036.7,208.5L1032.9,206.4L1029,204.1L1025.2,201.7L1021.4,199.2L1017.6,196.4L1013.9,193.5L1010.2,190.6L1006.5,187.3L1003,183.8L999.6,180.2L996.1,176.6L992.9,172.7L989.7,168.8L986.6,164.8L983.6,160.7L981,156.4L978.5,152.1L976,147.7L973.7,143.4L971.7,138.9L969.9,134.5L968.1,130.1L966.5,125.7L965.3,121.3L964,117L962.8,112.6L961.9,108.3L961.4,104.2L961,100.1L960.8,96.1L961,92.3L961.4,88.6L961.8,84.9L962.4,81.4L963.4,78.2L964.6,75.1L965.8,72.1L967.3,69.3L969.1,66.8L970.9,64.4L972.8,62L975,60L977.4,58.3L979.9,56.7L982.5,55.3L985.4,54.2L988.3,53.3L991.3,52.5L994.5,52.1L998,52.1L1001.5,52.4L1005,52.7L1008.6,53.3L1012.3,54.3L1016,55.3L1019.7,56.4L1023.5,57.9L1027.3,59.7L1031.2,61.5L1035,63.5L1038.9,65.8L1042.7,68.4L1046.5,71.1L1050.2,74.1L1053.9,77.3L1057.5,80.6L1061.1,84L1064.6,87.5L1067.9,91.3L1071.1,95.2L1074.3,99.1L1077.2,103.2L1080,107.4L1082.8,111.5L1085.6,115.8L1088,120.1L1090.3,124.5L1092.5,128.9L1094.5,133.3L1096.2,137.8L1097.8,142.2L1099.2,146.6L1100.4,150.9L1101.1,155.2L1101.8,159.4L1102.3,163.5L1102.7,167.6L1102.8,171.6L1102.9,175.5L1102.7,179.3L1102.2,182.9L1101.4,186.3L1100.7,189.7L1099.6,192.9L1098.3,195.8L1096.9,198.7L1095.3,201.4L1093.4,203.8L1091.2,205.8L1089,207.8Z" fill="none" stroke="#2a2aff" stroke-width="1.05" stroke-linejoin="round"/>
<path d="M1080.8,200.9L1078.4,202.5L1075.8,203.8L1072.8,204.4L1069.7,204.8L1066.9,205.8L1063.9,206.3L1060.4,206L1057,205.6L1053.5,205.1L1049.9,204.2L1046.3,203L1042.6,201.8L1038.8,200L1035.1,198.1L1031.3,196.6L1027.5,194.4L1023.8,191.6L1020.1,188.9L1016.4,186.3L1012.8,183.1L1009.4,179.6L1005.9,176.3L1002.5,172.8L999.2,169.2L995.9,165.5L992.8,161.6L990.1,157.5L987.3,153.4L984.6,149.3L982.4,145L980.5,140.7L978.3,136.5L976.2,132.2L974.7,127.9L973.3,123.7L971.9,119.4L970.9,115.3L970.2,111.2L969.5,107.2L969.5,103.4L969.6,99.8L969.3,95.9L969.4,92.1L970.2,88.9L971,85.8L971.7,82.4L972.9,79.6L974.6,77.2L976.3,74.8L978.2,72.6L980.3,70.7L982.3,68.6L984.6,66.9L987.3,65.8L990,64.7L992.6,63.4L995.7,63L999.1,63.2L1002.3,63.1L1005.6,63.1L1009.1,63.6L1012.7,64.3L1016.2,65.1L1019.9,66.4L1023.6,67.8L1027.3,69.2L1031.1,71.4L1034.9,74L1038.6,76.1L1042.4,78.4L1046.1,81.4L1049.7,84.4L1053.4,87.3L1057,90.5L1060.3,94.1L1063.6,97.7L1066.8,101.5L1069.7,105.5L1072.7,109.4L1075.7,113.4L1078.1,117.6L1080.5,121.8L1083.3,125.9L1085.5,130.2L1087.1,134.5L1088.8,138.8L1090.4,143L1091.6,147.2L1092.7,151.4L1093.7,155.6L1094.3,159.6L1094.8,163.6L1095.5,167.6L1095.4,171.3L1094.7,174.7L1094.3,178.1L1093.9,181.6L1092.8,184.6L1091.4,187.3L1090.4,190.3L1089,193.1L1087.3,195.5L1085.5,197.8L1083.3,199.6Z" fill="none" stroke="#2a2aff" stroke-width="1.05" stroke-linejoin="round"/>
<path d="M1075.9,193.1L1073.6,194.6L1071.3,196L1068.5,196.7L1065.4,196.8L1062.4,197L1059.4,197.3L1056.3,197.4L1052.9,196.9L1049.4,196L1045.9,195L1042.4,193.8L1038.7,192.1L1035.1,190.2L1031.5,188.3L1027.8,186.2L1024.2,183.5L1020.7,180.9L1017.1,178.2L1013.5,175.3L1010.2,171.9L1007,168.3L1003.9,164.7L1000.7,161.3L997.6,157.6L994.9,153.7L992.3,149.7L989.7,145.7L987.5,141.6L985.6,137.5L983.7,133.4L982,129.4L980.5,125.3L979.4,121.3L978.5,117.4L977.4,113.4L976.5,109.4L976.5,105.8L976.9,102.5L977,99.1L977.2,95.6L977.8,92.5L978.7,89.6L979.8,86.9L981.1,84.3L982.6,82L984.5,80L986.5,78.2L988.5,76.4L991,75.2L993.7,74.4L996.3,73.4L998.9,72.3L1001.8,71.9L1005.1,72.2L1008.5,72.7L1011.8,73.2L1015.2,73.8L1018.7,74.8L1022.3,76.2L1025.8,77.6L1029.5,79.2L1033.1,81.4L1036.8,83.7L1040.4,86L1044,88.6L1047.5,91.7L1050.9,94.9L1054.3,98L1057.8,101.2L1061.1,104.6L1064,108.5L1066.7,112.3L1069.6,116.1L1072.3,120.1L1074.6,124.1L1076.9,128.1L1079.2,132.2L1081,136.3L1082.6,140.4L1084.1,144.5L1085.5,148.5L1086.5,152.5L1087,156.3L1087.2,159.9L1087.8,163.8L1088.3,167.6L1088,171L1087.4,174.1L1086.8,177.2L1085.9,180.1L1084.8,182.8L1083.4,185.3L1081.8,187.6L1080.2,189.9L1078.2,191.7Z" fill="none" stroke="#2a2aff" stroke-width="1.05" stroke-linejoin="round"/>
<path d="M1071.6,185.2L1069.8,187.1L1067.3,187.9L1064.7,188.7L1062.1,189.4L1059,189.4L1056,189.4L1052.8,189.2L1049.5,188.4L1046.1,187.6L1042.6,186.1L1039.1,184.6L1035.7,183.4L1032.1,181.2L1028.5,178.7L1025,176.4L1021.5,173.7L1018,170.9L1014.6,167.8L1011.4,164.5L1008.2,161.1L1005.3,157.5L1002.4,153.8L999.4,150.2L997.1,146.3L995,142.3L992.5,138.4L990.5,134.5L988.8,130.5L987.4,126.6L986.4,122.8L985.1,118.9L984.3,115.1L984.1,111.6L983.6,108L983.7,104.7L984.3,101.7L984.4,98.4L985.2,95.6L986.4,93.1L987.8,90.8L989.4,88.8L990.8,86.5L992.8,84.8L995.3,84L997.6,82.7L1000.1,81.8L1003,81.6L1005.8,81L1008.9,81.1L1012.1,81.7L1015.3,82.2L1018.7,83.2L1022.1,84L1025.7,85.5L1029.3,87.8L1032.8,89.6L1036.4,91.5L1039.9,94.2L1043.4,96.9L1046.8,99.8L1050.1,102.9L1053.5,106L1056.6,109.5L1059.7,113L1062.6,116.6L1065.1,120.6L1067.8,124.3L1070.4,128.2L1072.3,132.2L1074.1,136.1L1075.8,140.1L1077.4,144L1078.9,147.9L1079.6,151.7L1080.3,155.4L1081.1,159.1L1081,162.5L1081.1,165.9L1081.1,169.3L1080.2,172L1079.3,174.7L1078.5,177.5L1077.2,179.9L1075.8,182.2L1073.7,183.6Z" fill="none" stroke="#2a2aff" stroke-width="1.05" stroke-linejoin="round"/>
<path d="M1068,178.4L1066,179.8L1063.9,181L1061.5,181.7L1059,182.4L1056.3,182.6L1053.3,182.3L1050.1,181.6L1046.9,180.8L1043.8,180.1L1040.4,178.6L1037,177.1L1033.6,175.5L1030.2,173.3L1026.8,170.9L1023.5,168.2L1020.2,165.4L1016.9,162.4L1013.8,159.3L1010.7,156L1008,152.5L1005.4,148.9L1002.7,145.3L1000.4,141.6L998.2,137.8L996.3,134.1L994.5,130.3L993.1,126.6L992.2,123L991.2,119.4L990.8,116L990.4,112.7L990,109.3L990.2,106.3L990.7,103.5L991.5,100.9L992.4,98.4L993.7,96.3L995.4,94.6L996.9,92.7L998.9,91.4L1001.2,90.5L1003.6,89.6L1006.3,89.3L1009.1,89.2L1011.9,89.2L1014.8,89.3L1018,90L1021.3,91.3L1024.6,92.5L1028,94.2L1031.5,96.2L1034.9,98.3L1038.3,100.6L1041.6,103.1L1044.9,105.9L1048.2,108.9L1051.3,112.1L1054.2,115.5L1057.2,118.8L1060,122.3L1062.4,126.1L1064.7,129.8L1066.8,133.5L1068.7,137.3L1070.2,141L1071.7,144.7L1073.1,148.4L1073.9,152L1074.8,155.6L1075.1,158.9L1074.9,161.9L1074.7,164.9L1074.3,167.8L1073.6,170.5L1072.5,172.8L1071.3,174.9L1069.9,177Z" fill="none" stroke="#2a2aff" stroke-width="1.05" stroke-linejoin="round"/>
<path d="M1062.4,173.4L1060.4,174.4L1058.2,175.1L1055.7,175.4L1053.2,175.7L1050.3,175.2L1047.5,174.8L1044.3,173.7L1041.3,172.6L1038.1,171.4L1034.9,169.7L1031.6,167.7L1028.4,165.3L1025.1,162.9L1022.1,159.9L1019,157.1L1016.1,154L1013.2,150.8L1010.4,147.5L1008.1,144.1L1005.7,140.6L1003.7,137L1001.6,133.5L1000.4,130L998.9,126.5L997.9,123.1L997.2,119.9L996.7,116.7L996.5,113.7L996.4,110.7L996.7,108.1L997.3,105.5L998.7,103.8L999.7,101.7L1001.2,100.1L1003.1,98.9L1005,97.9L1007.2,97.1L1009.5,96.5L1012.3,96.7L1014.9,96.6L1017.9,97.4L1020.8,97.9L1024,99.2L1027.2,101L1030.5,102.7L1033.7,104.7L1036.9,106.8L1040.1,109.4L1043.4,111.9L1046.4,114.9L1049.4,117.9L1052.1,121.2L1054.7,124.6L1057.3,128L1059.6,131.5L1061.6,135.1L1063.2,138.6L1065.2,142.1L1066.4,145.6L1067.5,149L1068.4,152.4L1068.8,155.5L1069,158.5L1068.7,161.2L1068.3,163.8L1067.5,166.1L1067,168.6L1065.5,170.3L1064.1,172Z" fill="none" stroke="#2a2aff" stroke-width="1.05" stroke-linejoin="round"/>
<path d="M1059.9,167.4L1058.3,168.6L1056.4,169.4L1054.2,169.8L1051.8,169.9L1049.3,169.8L1046.6,169.3L1043.8,168.7L1040.9,167.5L1037.8,165.9L1034.7,164.2L1031.6,162.1L1028.5,159.9L1025.4,157.4L1022.5,154.7L1019.6,151.8L1016.9,148.7L1014.3,145.5L1011.8,142.3L1009.6,138.9L1007.7,135.6L1006,132.2L1004.7,129L1003.4,125.7L1002.4,122.5L1001.8,119.5L1001.6,116.7L1001.7,114.1L1002.1,111.8L1002.6,109.5L1003.6,107.7L1004.8,106.1L1006.4,104.8L1008.2,103.8L1010.2,103.1L1012.3,102.6L1014.8,102.7L1017.5,103L1020.3,103.8L1023.2,104.8L1026.2,106L1029.2,107.6L1032.3,109.4L1035.4,111.6L1038.5,114.1L1041.5,116.6L1044.5,119.4L1047.3,122.4L1050,125.5L1052.4,128.8L1054.6,132.1L1056.8,135.4L1058.7,138.8L1060.4,142.1L1061.7,145.4L1062.6,148.6L1063.2,151.6L1063.7,154.5L1063.8,157.3L1063.8,159.9L1063.2,162.1L1062.3,164.1L1061.3,165.9Z" fill="none" stroke="#2a2aff" stroke-width="1.05" stroke-linejoin="round"/>
<path d="M1056,163L1054.4,163.8L1052.6,164.4L1050.8,165L1048.5,164.7L1046,164.2L1043.5,163.7L1040.7,162.4L1038,161.2L1035.1,159.5L1032.2,157.6L1029.3,155.3L1026.5,152.8L1023.7,150.4L1021.1,147.5L1018.6,144.5L1016.2,141.5L1014.1,138.4L1012.1,135.3L1010.5,132.2L1009.1,129.2L1008.1,126.3L1007.4,123.5L1006.6,120.7L1006.6,118.3L1006.7,116.1L1007.1,114L1008.1,112.5L1009,110.9L1010.4,109.9L1011.9,108.9L1014,108.7L1016.1,108.6L1018.3,108.6L1020.9,109.3L1023.5,110.1L1026.3,111.4L1029.1,113L1032,114.8L1034.9,116.8L1037.8,119L1040.6,121.7L1043.2,124.4L1045.9,127.2L1048.3,130.2L1050.6,133.3L1052.6,136.4L1054.3,139.5L1055.9,142.5L1057,145.5L1058.3,148.5L1058.7,151.2L1059,153.7L1059.1,156.1L1058.7,158.2L1058.2,160.1L1057.2,161.7Z" fill="none" stroke="#2a2aff" stroke-width="1.05" stroke-linejoin="round"/>
<path d="M1051.6,158.4L1050.2,159L1048.7,159.5L1046.8,159.3L1044.7,159L1042.5,158.3L1040.1,157.1L1037.6,155.9L1035.1,154.3L1032.5,152.3L1029.9,150.3L1027.3,147.9L1024.9,145.4L1022.5,142.8L1020.4,140.1L1018.4,137.3L1016.6,134.6L1015,131.8L1013.9,129.2L1012.9,126.7L1012.1,124.2L1012,122.2L1011.9,120.2L1012.1,118.4L1012.8,117.1L1013.6,115.9L1014.8,115L1016.4,114.7L1018.1,114.5L1020.1,114.7L1022.2,115.3L1024.5,116.1L1027,117.3L1029.5,118.8L1032.1,120.6L1034.7,122.5L1037.2,124.8L1039.7,127.2L1042.2,129.7L1044.4,132.5L1046.5,135.2L1048.4,137.9L1050,140.7L1051.4,143.4L1052.5,146L1053.3,148.4L1053.9,150.7L1054,152.8L1053.9,154.6L1053.4,156.2L1052.7,157.5Z" fill="none" stroke="#2a2aff" stroke-width="1.05" stroke-linejoin="round"/>
<path d="M1047.8,154.6L1046.5,154.9L1045,154.8L1043.2,154.3L1041.3,153.6L1039.2,152.6L1037,151.1L1034.7,149.5L1032.3,147.7L1030,145.6L1027.8,143.3L1025.6,140.9L1023.5,138.5L1021.7,136L1020.1,133.6L1018.8,131.2L1017.7,128.9L1016.9,126.8L1016.4,124.9L1016.4,123.4L1016.4,121.9L1016.8,120.7L1017.8,120.1L1018.9,119.7L1020.2,119.5L1021.8,119.7L1023.7,120.4L1025.8,121.3L1027.9,122.5L1030.2,124L1032.5,125.8L1034.8,127.8L1037.1,130L1039.4,132.3L1041.5,134.7L1043.3,137.2L1045.1,139.6L1046.7,142.1L1047.8,144.3L1048.7,146.5L1049.4,148.5L1049.8,150.4L1049.7,151.8L1049.3,153.1L1048.7,154Z" fill="none" stroke="#2a2aff" stroke-width="1.05" stroke-linejoin="round"/>
<path d="M1115.8,226.5L1114,227.6L1112,228.5L1109.9,229L1107.6,229L1105.2,228.7L1102.8,228.4L1100.5,227.9L1098.1,227.4L1095.8,227.1L1093.5,227.2L1091.2,227.3L1088.9,227.1L1086.4,226.4L1084,225.4L1081.5,224.2L1079,222.6L1076.5,220.9L1074.1,219.3L1071.6,218L1069.1,216.6L1066.7,214.9L1064.3,212.9L1061.9,210.8L1059.6,208.4L1057.4,205.7L1055.3,203L1053.1,200.5L1050.9,198L1048.8,195.5L1046.7,192.8L1044.5,190.2L1042.3,187.6L1040.1,184.9L1038.2,181.9L1036.4,178.8L1034.7,175.6L1033.3,172.2L1032.2,168.8L1031.2,165.5L1030,162.2L1028.6,158.9L1027.3,155.7L1025.9,152.4L1024.6,149.1L1023.4,145.7L1022.7,142.4L1022.3,139.1L1021.9,135.9L1021.4,132.6L1020.9,129.4L1020.5,126.1L1020,122.9L1019.7,119.6L1019.5,116.4L1019.8,113.5L1020.3,110.7L1020.9,108L1021.5,105.3L1022.2,102.8L1023.1,100.4L1023.8,97.9L1024.4,95.2L1025.1,92.6L1025.8,90.1L1026.6,87.6L1027.4,85L1028.5,82.8L1030,81.1L1031.8,79.8L1033.7,78.7L1035.5,77.7L1037.4,76.7L1039.2,75.5L1040.9,74.1L1042.5,72.7L1044.3,71.6L1046.4,70.9L1048.5,70.5L1050.7,70.3L1053,70.3L1055.3,70.4L1057.5,70.3L1059.7,70L1062,69.7L1064.3,69.9L1066.7,70.5L1069.2,71.2L1071.6,72.1L1074.1,73.4L1076.6,75L1079.1,76.6L1081.5,78.2L1083.9,79.8L1086.3,81.5L1088.8,83L1091.3,84.4L1093.8,85.8L1096.3,87.5L1098.7,89.6L1101,91.8L1103.3,94.4L1105.3,97.3L1107.3,100.3L1109.3,103.1L1111.5,105.7L1113.6,108.3L1115.7,111.1L1117.6,114L1119.5,117L1121.2,120.2L1122.6,123.4L1124,126.7L1125.5,129.9L1127.1,133L1128.6,136.2L1130.1,139.5L1131.6,142.8L1133,146.1L1134,149.5L1134.8,152.8L1135.5,156.2L1136,159.5L1136.3,162.7L1136.4,165.8L1136.4,168.9L1136.7,172.1L1137.1,175.3L1137.5,178.5L1137.9,181.8L1138.3,185.1L1138.4,188.3L1138,191.1L1137.2,193.7L1136.4,196.2L1135.6,198.7L1134.8,201.2L1134,203.6L1133.3,206.2L1132.6,208.8L1131.6,211.1L1130.2,213L1128.7,214.6L1127.1,216.2L1125.6,217.7L1123.9,219.1L1122.3,220.5L1120.8,222.2L1119.3,223.8L1117.6,225.3Z" fill="none" stroke="#ff1e1e" stroke-width="1.05" stroke-linejoin="round"/>
<path d="M1110.4,215.2L1108.7,216.3L1106.5,216.2L1104.6,217L1102.9,218.4L1100.7,218.2L1098.2,217L1096.1,217.2L1094,217.6L1091.6,216.5L1089.3,215.1L1087.1,215.1L1084.8,214.9L1082.5,213.5L1080.1,212.3L1077.7,211.7L1075.4,209.9L1073.2,207.1L1071,205.2L1068.6,204L1066.4,201.7L1064.3,199.3L1061.8,197.9L1059.4,196.2L1057.6,193.1L1055.9,190L1053.7,187.6L1051.7,185L1050.3,181.8L1048.5,179L1046.2,176.5L1044.6,173.5L1043.5,170.2L1041.8,167.2L1040.1,164.2L1039.4,160.8L1038.7,157.6L1037.2,154.4L1036,151.2L1035.7,148.1L1034.9,144.9L1033.3,141.5L1032.4,138.2L1032.7,135.3L1032.6,132.3L1032.2,129.1L1032.6,126.4L1033.2,123.8L1032.7,120.5L1032.2,117.3L1032.9,114.7L1033.5,112.3L1033.6,109.2L1034.3,106.8L1036,105.4L1037,103.2L1037.3,100.3L1038.3,98.2L1040,97L1041.1,94.9L1041.9,92.4L1043.7,91.3L1045.6,90.6L1047,89L1048.7,87.9L1051,88L1052.9,87.4L1054.4,85.6L1056.2,84.8L1058.5,85.1L1060.4,84.4L1062.4,83.5L1064.8,84.6L1067.3,86.3L1069.5,86.5L1071.7,86.3L1074,87.4L1076.3,88.4L1078.6,88.5L1081,89.5L1083.3,91.8L1085.6,93.5L1088,94.5L1090.2,96.6L1092.3,99.2L1094.7,100.6L1097.1,102L1099.2,104.6L1101.1,107.4L1103.5,109.3L1105.7,111.6L1107.3,114.9L1108.8,118L1110.9,120.5L1112.7,123.3L1114.2,126.4L1116.1,129.2L1118.4,131.9L1119.6,135.1L1120.4,138.5L1121.8,141.6L1123.1,144.8L1123.5,148L1124.2,151.2L1126,154.4L1127.2,157.7L1127.2,160.8L1127.6,163.9L1128.6,167.2L1128.7,170.3L1128.2,173L1128.5,176.1L1129,179.3L1128.5,182L1128,184.6L1128.4,187.9L1128.4,190.9L1127.1,192.9L1126.2,195.1L1125.8,197.9L1124.7,199.9L1122.8,201L1121.9,203.1L1121.5,206.2L1120.4,208.1L1118.7,209.3L1117.5,211.3L1116.1,212.9L1113.8,213.1L1111.8,213.5Z" fill="none" stroke="#ff1e1e" stroke-width="1.05" stroke-linejoin="round"/>
<path d="M1106.1,210L1104.2,210.5L1102.3,211L1100.4,211.5L1098.4,211.6L1096.3,211.6L1094.2,211.6L1092,210.9L1089.7,209.7L1087.5,209.1L1085.4,208.9L1083.1,208.2L1080.9,206.9L1078.6,205.3L1076.4,203.2L1074.3,201.1L1072.1,199.5L1069.8,198.2L1067.6,196.6L1065.3,194.7L1063.2,192.5L1061.4,189.6L1059.7,186.8L1057.7,184.3L1055.8,181.8L1054.2,178.9L1052.6,176L1050.8,173.2L1049.3,170.3L1047.8,167.4L1046.2,164.4L1045.1,161.3L1044.2,158.1L1043.3,155L1042.3,151.9L1041.4,148.8L1040.3,145.6L1039.3,142.4L1039.2,139.4L1039.6,136.6L1039.6,133.8L1039.4,130.8L1039.2,127.9L1038.9,124.8L1038.7,121.8L1039.1,119.2L1039.8,116.8L1040.5,114.4L1041.3,112.1L1042.2,110L1043,107.7L1044.1,105.8L1045.5,104.4L1046.7,102.6L1047.6,100.4L1048.9,98.7L1050.6,97.7L1052.3,96.8L1054.1,96.1L1055.9,95.4L1057.5,94.3L1059.1,93L1061,92.4L1063.1,92.5L1065.3,92.9L1067.7,94L1069.9,94.8L1071.9,94.7L1074,94.6L1076.2,95.3L1078.5,96.3L1080.7,97.2L1083,98.6L1085.2,100.1L1087.4,101.6L1089.6,103.4L1091.8,105.5L1093.9,107.5L1096.1,109.5L1098.2,111.6L1100.3,113.8L1102.4,116L1104.1,118.9L1105.6,121.9L1107.4,124.6L1109.5,127L1111.4,129.7L1113.2,132.5L1114.7,135.5L1115.8,138.7L1116.6,141.9L1117.6,145L1118.7,148.1L1119.8,151.2L1121,154.3L1122,157.4L1122.4,160.5L1122.8,163.6L1123.6,166.7L1124,169.8L1123.8,172.6L1123.7,175.4L1123.6,178.2L1123.4,181L1123.4,183.8L1123.3,186.7L1122.7,189.2L1121.7,191.2L1120.7,193.3L1119.6,195.2L1118.7,197.2L1118.2,199.9L1117.6,202.5L1116.2,204.1L1114.5,205.1L1112.8,206.2L1111.1,207.1L1109.4,207.8L1107.8,209Z" fill="none" stroke="#ff1e1e" stroke-width="1.05" stroke-linejoin="round"/>
<path d="M1104,202L1102.5,203L1100.7,203.5L1098.7,203.3L1097.1,204.1L1095.3,204.8L1093.3,204.5L1091.3,204.2L1089.2,203.4L1087,201.7L1084.9,200.8L1082.8,200.1L1080.8,198.5L1078.7,197.4L1076.6,196.2L1074.6,194.1L1072.5,192.5L1070.3,191.1L1068.4,188.7L1066.5,186.5L1064.6,184.3L1063,181.5L1061.3,179L1059.5,176.5L1058.3,173.5L1056.9,170.7L1055.2,168.1L1054,165.2L1052.5,162.4L1050.8,159.6L1050,156.6L1049.5,153.5L1048.6,150.6L1048.2,147.6L1047.8,144.8L1047.1,141.8L1047.1,139L1047.1,136.3L1046.6,133.3L1046.7,130.7L1046.9,128.1L1046.7,125.2L1047.3,122.8L1048.2,120.8L1048.4,118.2L1049.3,116.2L1050.6,114.7L1051.6,113L1053,111.6L1054.4,110.4L1055.2,108.2L1056.3,106.5L1057.9,105.6L1059.3,104.3L1061,103.7L1063.1,103.9L1064.7,103.1L1066.5,102.7L1068.6,103.4L1070.6,103.5L1072.5,103.6L1074.6,104.5L1076.6,104.7L1078.6,105.1L1080.8,106.5L1082.9,107.3L1085,108.2L1087.1,110L1089.2,111.5L1091.2,113.2L1093,116L1094.9,118.2L1097,120L1098.8,122.2L1100.8,124.3L1102.8,126.5L1104.3,129.3L1105.9,132L1107.7,134.5L1108.9,137.5L1110.3,140.3L1111.7,143.2L1112.4,146.2L1113.3,149.2L1114.6,152.1L1115.3,155.1L1115.9,158L1116.9,161L1117.3,163.9L1117.8,166.8L1118.6,169.9L1118.5,172.7L1118,175.1L1117.9,177.8L1117.2,180L1116.6,182.2L1116.8,185.1L1116.3,187.5L1115.3,189.4L1114.8,191.8L1113.9,193.7L1112.7,195.3L1111.8,197.4L1110.5,198.8L1108.7,199.5L1107.4,200.8L1105.8,201.7Z" fill="none" stroke="#ff1e1e" stroke-width="1.05" stroke-linejoin="round"/>
<path d="M1101.4,197.1L1099.8,197.7L1098.1,198.1L1096.5,198.8L1094.8,198.9L1092.9,198.6L1090.8,197.3L1088.9,196.6L1087.1,197.2L1085.1,196.1L1083.1,194.5L1081.1,193.8L1079.1,192.1L1077.2,190L1075.3,188.6L1073.3,186.9L1071.4,185L1069.7,182.8L1067.9,180.6L1065.9,178.6L1064.7,175.6L1063.5,172.8L1061.6,170.6L1060.1,168L1059,165.2L1057.6,162.5L1056.8,159.6L1056.1,156.7L1055.2,153.9L1054.2,151.1L1053.1,148.1L1053.1,145.4L1053.1,142.8L1052.3,139.8L1052.6,137.3L1053.1,135.1L1052.7,132.2L1052.8,129.7L1053.3,127.4L1053.7,125.1L1054.5,123.1L1055.4,121.4L1056.7,120.1L1057.6,118.3L1057.9,115.6L1059.4,114.6L1061.2,114.3L1062.3,112.9L1063.9,112.3L1065.6,111.9L1067,110.7L1068.7,110.2L1070.5,110.3L1072.4,110.8L1074.3,111.2L1076.2,111.1L1078.2,112.5L1080.2,113.6L1082.1,113.3L1084.1,114.4L1086,116.4L1088,117.7L1089.9,119.6L1091.8,121.6L1093.7,123.2L1095.7,124.9L1097.6,126.9L1099,129.8L1100.4,132.5L1102.4,134.5L1103.8,137.1L1105,139.9L1106.8,142.4L1108,145.2L1108.8,148.1L1109.8,150.9L1110.6,153.7L1111.4,156.6L1112,159.4L1112.7,162.2L1113.9,165.3L1113.6,167.8L1113,170.2L1113.6,173L1113.5,175.6L1113.2,178L1113.3,180.7L1112.7,182.9L1111.8,184.7L1110.8,186.4L1110.1,188.3L1109.6,190.7L1108.3,191.9L1107,193.1L1106.3,195.3L1104.7,196.1L1102.8,196.1Z" fill="none" stroke="#ff1e1e" stroke-width="1.05" stroke-linejoin="round"/>
<path d="M1099.1,192.7L1097.5,193L1095.9,193.3L1094.2,193.4L1092.6,193.5L1090.7,192.7L1088.8,191.5L1087.1,191.1L1085.3,191.1L1083.4,190.4L1081.6,188.7L1079.7,187.3L1077.9,185.6L1076.2,183.6L1074.4,181.7L1072.8,179.5L1071.2,177.5L1069.4,175.6L1067.7,173.4L1066.5,170.7L1065.3,168.1L1063.7,165.7L1062.5,163.1L1061.7,160.3L1061,157.6L1060.5,154.9L1059.7,152.2L1058.6,149.5L1058,146.7L1057.9,144.2L1057.7,141.6L1057.4,139L1057.8,136.7L1058.5,134.8L1058.7,132.5L1059.1,130.3L1059.5,128.2L1060.1,126.2L1061.2,124.9L1062.2,123.3L1062.9,121.4L1063.9,119.9L1065.6,119.6L1067.3,119.5L1068.6,118.7L1070.1,118.2L1071.6,117.6L1073.2,117.2L1074.9,117.4L1076.7,117.6L1078.5,117.9L1080.3,119L1082.2,120.5L1084.1,121.5L1085.9,122.2L1087.7,123.8L1089.5,125.6L1091.3,127.2L1093.1,129L1095,130.5L1096.7,132.6L1098.1,135.3L1099.3,137.9L1100.8,140.3L1102.3,142.7L1103.4,145.3L1104.6,147.9L1106,150.5L1106.9,153.2L1107.8,155.9L1108.3,158.6L1108.5,161.2L1109,163.9L1109.6,166.7L1109.6,169.1L1109.2,171.3L1109.3,173.8L1109.6,176.5L1109.4,178.9L1109,181.1L1108.1,182.8L1107,184.1L1106.2,185.9L1105.3,187.5L1104.1,188.6L1102.9,189.7L1102,191.4L1100.8,192.6Z" fill="none" stroke="#ff1e1e" stroke-width="1.05" stroke-linejoin="round"/>
<path d="M1096.9,188.6L1095.3,188.5L1093.7,188.3L1092.2,188.5L1090.6,188.3L1088.9,188L1087.3,188L1085.6,186.8L1083.8,184.7L1082.1,184.2L1080.4,182.4L1078.8,180.7L1077.1,179.4L1075.5,177.4L1073.9,175.5L1072.3,173.6L1071,171.2L1069.9,168.6L1068.3,166.5L1067.5,163.8L1066.8,161.3L1065.4,158.9L1064.6,156.3L1063.7,153.7L1063,151.1L1062.9,148.7L1063,146.4L1062.3,143.7L1062.7,141.6L1063,139.6L1062.6,136.9L1063.3,135.2L1063.6,133.1L1064.1,131.2L1065,129.7L1066,128.5L1066.8,127L1068.4,126.7L1069.6,125.9L1070.3,124L1071.9,124L1073.2,123.4L1074.8,123.2L1076.5,123.7L1078.1,124L1079.7,124.4L1081.5,125.6L1083.2,126.4L1084.9,126.6L1086.5,128.6L1088.3,129.6L1090.1,130.8L1091.6,133L1093.2,134.9L1094.6,137.1L1096,139.4L1097.5,141.4L1099.2,143.4L1100,146.1L1101.4,148.4L1102.6,150.9L1103.1,153.5L1104.1,156.1L1104.6,158.6L1105,161.1L1105.6,163.6L1106.2,166.2L1105.9,168.4L1106.6,171.1L1106.7,173.6L1105.6,175.1L1105.4,177.2L1104.7,178.9L1104.1,180.6L1103.6,182.5L1102.8,184.1L1101.6,185L1100.9,186.7L1099.7,187.7L1097.9,187.4Z" fill="none" stroke="#ff1e1e" stroke-width="1.05" stroke-linejoin="round"/>
<path d="M1095.3,183.8L1094.1,184.3L1092.7,184.3L1091.4,184.9L1089.7,183.5L1088.1,182.3L1086.7,182.2L1085.1,181.6L1083.6,180.5L1082,179.2L1080.5,177.5L1078.9,176.2L1077.6,174L1076.3,172L1074.8,170.3L1073.8,167.9L1072.6,165.7L1071.2,163.6L1070.2,161.3L1069.4,158.9L1069.2,156.5L1068.7,154.2L1067.6,151.7L1067.6,149.5L1067.2,147.2L1066.9,144.9L1067.1,142.8L1067.3,140.9L1067.7,139.1L1068.3,137.5L1068.6,135.7L1069.9,135L1070.3,133.2L1070.8,131.3L1072,130.8L1073.4,130.6L1074.7,130.4L1076,130.1L1077.2,129.5L1078.8,130.3L1080.1,130.1L1081.6,130.3L1083.2,131.6L1084.7,132.3L1086.3,133.4L1087.8,135.1L1089.3,136.7L1090.7,138.5L1092.4,139.6L1093.9,141.2L1094.9,143.8L1096.2,145.9L1097.4,148.1L1098.3,150.4L1099.3,152.7L1100.1,155.1L1101.1,157.4L1101.8,159.8L1101.9,162.1L1102.8,164.6L1102.8,166.8L1102.3,168.6L1102.3,170.7L1102.4,172.9L1102.5,175.2L1102,176.9L1101,177.9L1100.7,179.9L1099.6,180.8L1098.5,181.5L1097.6,182.6L1096.5,183.3Z" fill="none" stroke="#ff1e1e" stroke-width="1.05" stroke-linejoin="round"/>
<path d="M1094.5,179.8L1093.5,180.1L1092.3,180.3L1091.1,180.2L1089.8,179.8L1088.4,178.8L1087.2,179L1085.8,177.9L1084.4,176.8L1083.2,175L1081.7,174.3L1080.5,172.5L1079.2,170.8L1078.1,168.9L1076.9,167.1L1075.9,165.1L1074.8,163.1L1073.9,161L1073.4,158.8L1072.8,156.7L1072.1,154.5L1071.3,152.3L1071.6,150.5L1071.2,148.4L1071.3,146.5L1071,144.4L1071.7,143.1L1071.8,141.3L1072.5,140.1L1073,138.8L1073.6,137.6L1074.2,136.4L1075.4,136.2L1076.5,135.9L1077.4,135.1L1078.5,134.8L1079.8,135.2L1081.2,135.8L1082.4,135.7L1083.8,136.8L1085.1,137.3L1086.5,138.8L1087.8,139.7L1089.1,141.6L1090.5,142.6L1091.8,144.3L1092.9,146.3L1093.8,148.4L1095.1,150.1L1096.1,152.2L1096.8,154.3L1097.5,156.5L1098.3,158.6L1098.9,160.8L1099.2,162.8L1099.8,165L1099.4,166.8L1099.7,168.8L1099.6,170.6L1099.8,172.7L1098.9,173.7L1098.5,175.1L1098,176.6L1097.5,177.9L1096.4,178.4L1095.5,179.2Z" fill="none" stroke="#ff1e1e" stroke-width="1.05" stroke-linejoin="round"/>
<path d="M1093.1,176.2L1092.2,176.5L1091.2,176.5L1090.2,176.5L1089,175.8L1087.9,175.7L1086.7,174.2L1085.5,173.6L1084.4,172.2L1083.2,171.4L1082.1,169.8L1081,168.1L1080,166.4L1079.1,164.6L1078.1,162.8L1077.4,160.9L1076.5,159L1076.1,157L1075.4,155L1075.4,153.3L1075.1,151.4L1075,149.7L1074.6,147.7L1075,146.4L1075.3,145L1075.6,143.7L1076.3,142.9L1076.7,141.5L1077.6,141.3L1078.1,140.1L1079.2,140.2L1080,139.7L1081.3,140.5L1082.3,140.6L1083.4,140.8L1084.5,141.4L1085.7,142.3L1086.9,143.5L1088.1,144.7L1089.2,146.2L1090.3,147.5L1091.3,149.4L1092.5,150.8L1093.3,152.8L1094.3,154.6L1094.7,156.6L1095.5,158.5L1096.1,160.5L1096.5,162.4L1096.9,164.4L1096.8,166L1097.2,167.9L1096.8,169.2L1096.8,170.9L1096.2,171.9L1096.2,173.6L1095.5,174.5L1094.8,175.3L1093.9,175.5Z" fill="none" stroke="#ff1e1e" stroke-width="1.05" stroke-linejoin="round"/>
<path d="M1091.1,172L1090.4,172L1089.7,172.1L1088.8,171.3L1088,171L1087.1,170.1L1086.2,169.1L1085.3,168.1L1084.5,166.9L1083.6,165.7L1082.9,164.2L1082.2,162.6L1081.4,161.2L1080.9,159.6L1080.4,158L1079.7,156.3L1079.7,154.9L1079.3,153.4L1079.2,152L1079.3,150.8L1079.3,149.5L1079.3,148.2L1080,148L1080.1,146.7L1080.7,146.4L1081.3,146.2L1081.8,145.7L1082.5,145.7L1083.4,146.3L1084.2,146.5L1085.1,147.2L1085.9,147.8L1086.8,148.8L1087.7,149.9L1088.6,151L1089.3,152.5L1090.2,153.8L1090.9,155.3L1091.6,156.9L1092.2,158.4L1092.7,160L1092.9,161.5L1093.6,163.2L1093.7,164.6L1093.7,165.9L1093.9,167.4L1093.7,168.5L1093.3,169.2L1093.4,170.7L1092.8,171L1092.4,171.7L1091.8,172Z" fill="none" stroke="#ff1e1e" stroke-width="1.05" stroke-linejoin="round"/>
<path d="M917,14.4H1187.9M917,269.3H1187.9M925,6.4V277.3M1179.9,6.4V277.3M925,10.2V14.4M925,269.3V273.5M935.6,10.2V14.4M935.6,269.3V273.5M946.2,10.2V14.4M946.2,269.3V273.5M956.8,10.2V14.4M956.8,269.3V273.5M967.5,10.2V14.4M967.5,269.3V273.5M978.1,10.2V14.4M978.1,269.3V273.5M988.7,10.2V14.4M988.7,269.3V273.5M999.3,10.2V14.4M999.3,269.3V273.5M1010,10.2V14.4M1010,269.3V273.5M1020.6,10.2V14.4M1020.6,269.3V273.5M1031.2,10.2V14.4M1031.2,269.3V273.5M1041.8,10.2V14.4M1041.8,269.3V273.5M1052.5,10.2V14.4M1052.5,269.3V273.5M1063.1,10.2V14.4M1063.1,269.3V273.5M1073.7,10.2V14.4M1073.7,269.3V273.5M1084.3,10.2V14.4M1084.3,269.3V273.5M1095,10.2V14.4M1095,269.3V273.5M1105.6,10.2V14.4M1105.6,269.3V273.5M1116.2,10.2V14.4M1116.2,269.3V273.5M1126.8,10.2V14.4M1126.8,269.3V273.5M1137.5,10.2V14.4M1137.5,269.3V273.5M1148.1,10.2V14.4M1148.1,269.3V273.5M1158.7,10.2V14.4M1158.7,269.3V273.5M1169.3,10.2V14.4M1169.3,269.3V273.5M1180,10.2V14.4M1180,269.3V273.5M925,6.4V14.4M925,269.3V277.3M967.5,6.4V14.4M967.5,269.3V277.3M1010,6.4V14.4M1010,269.3V277.3M1052.5,6.4V14.4M1052.5,269.3V277.3M1095,6.4V14.4M1095,269.3V277.3M1137.5,6.4V14.4M1137.5,269.3V277.3M1180,6.4V14.4M1180,269.3V277.3M920.8,269.4H925M1179.9,269.4H1184.1M920.8,260.8H925M1179.9,260.8H1184.1M920.8,252.3H925M1179.9,252.3H1184.1M920.8,243.8H925M1179.9,243.8H1184.1M920.8,235.4H925M1179.9,235.4H1184.1M920.8,226.8H925M1179.9,226.8H1184.1M920.8,218.3H925M1179.9,218.3H1184.1M920.8,209.8H925M1179.9,209.8H1184.1M920.8,201.3H925M1179.9,201.3H1184.1M920.8,192.8H925M1179.9,192.8H1184.1M920.8,184.3H925M1179.9,184.3H1184.1M920.8,175.8H925M1179.9,175.8H1184.1M920.8,167.3H925M1179.9,167.3H1184.1M920.8,158.8H925M1179.9,158.8H1184.1M920.8,150.3H925M1179.9,150.3H1184.1M920.8,141.8H925M1179.9,141.8H1184.1M920.8,133.3H925M1179.9,133.3H1184.1M920.8,124.8H925M1179.9,124.8H1184.1M920.8,116.3H925M1179.9,116.3H1184.1M920.8,107.8H925M1179.9,107.8H1184.1M920.8,99.3H925M1179.9,99.3H1184.1M920.8,90.8H925M1179.9,90.8H1184.1M920.8,82.3H925M1179.9,82.3H1184.1M920.8,73.8H925M1179.9,73.8H1184.1M920.8,65.3H925M1179.9,65.3H1184.1M920.8,56.8H925M1179.9,56.8H1184.1M920.8,48.3H925M1179.9,48.3H1184.1M920.8,39.8H925M1179.9,39.8H1184.1M920.8,31.3H925M1179.9,31.3H1184.1M920.8,22.8H925M1179.9,22.8H1184.1M920.8,14.3H925M1179.9,14.3H1184.1M917,269.4H925M1179.9,269.4H1187.9M917,226.8H925M1179.9,226.8H1187.9M917,184.3H925M1179.9,184.3H1187.9M917,141.8H925M1179.9,141.8H1187.9M917,99.3H925M1179.9,99.3H1187.9M917,56.8H925M1179.9,56.8H1187.9M917,14.3H925M1179.9,14.3H1187.9" stroke="#b2b2b2" stroke-width="1" fill="none"/>
<line x1="925" y1="141.85" x2="1179.9" y2="141.85" stroke="#1a1a1a" stroke-width="1.1" stroke-dasharray="4.7 4.2" stroke-dashoffset="1.1"/>
<line x1="1052.45" y1="14.4" x2="1052.45" y2="269.3" stroke="#1a1a1a" stroke-width="1.1" stroke-dasharray="4.7 4.2" stroke-dashoffset="-0.4"/>
</g>
<g id="p_d">
<rect x="119.6" y="385.85" width="253.2" height="253" fill="#fffdd0"/>
<clipPath id="cl_d"><rect x="119.6" y="385.85" width="253.2" height="253"/></clipPath>
<g clip-path="url(#cl_d)" stroke-linejoin="round">
<path d="M139,539.9L139.7,534.2L140.7,528.4L142.2,522.3L144.3,516.1L146.9,509.7L150.2,503.2L154.1,496.7L158.7,490.3L163.8,484L169.5,477.9L175.6,472.2L182,466.7L188.7,461.7L195.6,457L202.6,452.6L209.7,448.7L216.8,445.1L223.9,441.9L230.9,439.1L237.9,436.6L244.7,434.5L251.5,432.8L258.2,431.4L264.7,430.5L271,429.9L277.2,429.6L283.2,429.8L288.9,430.3L294.5,431.2L299.7,432.5L304.7,434.1L309.4,436.2L313.8,438.6L317.8,441.4L321.4,444.5L324.6,448.1L327.3,452L329.6,456.4L331.3,461L332.5,466L333.2,471.3L333.4,476.8L333,482.5L332.1,488.5L330.7,494.5L328.9,500.7L326.6,507L323.8,513.3L320.6,519.7L316.9,526L312.8,532.3L308.3,538.5L303.4,544.6L298,550.6L292.3,556.3L286.3,561.7L280.1,566.9L273.6,571.7L267,576.2L260.3,580.4L253.6,584.3L246.9,588L240.1,591.4L233.3,594.7L226.4,597.8L219.5,600.7L212.5,603.5L205.5,606L198.4,608.2L191.3,610L184.2,611.4L177.4,612.1L170.8,612.2L164.7,611.5L159,610.1L154,607.9L149.7,604.9L146.2,601.3L143.4,597.1L141.3,592.4L139.8,587.5L138.8,582.3L138.3,577L138,571.7L138,566.5L138,561.2L138.1,556L138.3,550.7L138.6,545.3Z" fill="#0000d4"/>
<path d="M148.7,537.6L149.5,532.7L150.6,527.6L152,522.4L153.8,517L156.1,511.5L158.9,505.9L162.3,500.3L166.2,494.7L170.7,489.2L175.7,484L181,478.9L186.7,474.2L192.6,469.9L198.7,465.9L204.9,462.3L211.1,459.1L217.3,456.2L223.4,453.6L229.5,451.2L235.4,449.2L241.4,447.3L247.2,445.7L253,444.2L258.7,443L264.4,442.1L270,441.4L275.4,441.1L280.7,441.1L285.8,441.5L290.7,442.3L295.2,443.6L299.4,445.3L303.2,447.4L306.6,450L309.6,453L312,456.3L314,460L315.6,464L316.7,468.3L317.3,472.7L317.6,477.4L317.4,482.2L316.9,487.1L316,492.2L314.8,497.3L313.2,502.6L311.2,507.9L308.9,513.3L306.3,518.7L303.2,524.2L299.7,529.6L295.9,535L291.7,540.3L287.1,545.5L282.2,550.5L277,555.2L271.6,559.8L266,564.1L260.3,568.1L254.4,571.9L248.5,575.3L242.5,578.6L236.6,581.6L230.6,584.4L224.6,587L218.6,589.4L212.5,591.6L206.4,593.5L200.4,595.2L194.3,596.6L188.4,597.6L182.6,598.2L177,598.2L171.7,597.7L166.9,596.6L162.5,594.9L158.6,592.6L155.3,589.8L152.6,586.5L150.5,582.8L149,578.7L147.9,574.5L147.3,570L146.9,565.5L146.9,560.9L147,556.3L147.3,551.7L147.6,547.1L148.1,542.4Z" fill="#0038ff" stroke="#1a2a38" stroke-opacity="0.55" stroke-width="0.7"/>
<path d="M156.3,536.6L157.3,532.2L158.5,527.7L159.9,523.1L161.7,518.3L163.8,513.5L166.3,508.5L169.3,503.6L172.8,498.6L176.7,493.7L181,489L185.8,484.5L190.8,480.2L196.1,476.3L201.6,472.8L207.1,469.6L212.7,466.7L218.3,464.2L223.7,462L229.1,460L234.4,458.2L239.6,456.6L244.8,455.2L249.9,453.9L255,452.7L260.1,451.7L265.1,451L270.1,450.5L274.9,450.3L279.6,450.5L284,451.1L288.1,452.1L291.9,453.6L295.3,455.5L298.3,457.8L300.8,460.4L302.9,463.5L304.6,466.8L305.9,470.4L306.8,474.1L307.3,478.1L307.5,482.2L307.4,486.4L306.9,490.8L306.1,495.3L305,499.9L303.6,504.5L301.7,509.2L299.6,514L297.1,518.8L294.2,523.6L290.9,528.4L287.4,533.2L283.5,537.8L279.4,542.3L275,546.7L270.5,550.9L265.7,555L260.8,558.8L255.8,562.5L250.7,566L245.4,569.4L240.2,572.5L234.8,575.4L229.4,578L224,580.5L218.5,582.6L213.1,584.5L207.7,586.1L202.3,587.4L197.1,588.3L191.9,588.9L187,589.1L182.3,588.9L177.8,588.3L173.6,587.2L169.8,585.7L166.4,583.8L163.4,581.5L160.8,578.9L158.7,575.9L157,572.6L155.7,569.1L154.9,565.4L154.4,561.5L154.1,557.6L154.2,553.5L154.4,549.4L154.9,545.2L155.5,540.9Z" fill="#0098f4" stroke="#1a2a38" stroke-opacity="0.55" stroke-width="0.7"/>
<path d="M163,535.9L164,531.9L165.1,527.9L166.5,523.8L168.2,519.6L170.1,515.3L172.4,510.9L175.1,506.5L178.2,502.1L181.8,497.7L185.7,493.4L189.9,489.4L194.5,485.5L199.2,482L204.2,478.8L209.2,475.8L214.2,473.3L219.2,471L224.2,468.9L229,467.1L233.8,465.5L238.5,464.1L243.2,462.8L247.8,461.6L252.3,460.5L256.9,459.6L261.4,458.9L265.8,458.5L270.1,458.3L274.3,458.4L278.2,458.9L281.9,459.8L285.3,461L288.3,462.6L291,464.6L293.3,466.9L295.2,469.5L296.7,472.4L297.9,475.5L298.8,478.8L299.3,482.2L299.5,485.9L299.4,489.6L299,493.5L298.3,497.5L297.3,501.6L295.9,505.7L294.1,510L292,514.3L289.6,518.6L286.9,522.9L283.9,527.1L280.5,531.3L277,535.4L273.2,539.5L269.3,543.4L265.1,547.1L260.9,550.8L256.5,554.3L252,557.6L247.4,560.9L242.7,563.9L237.9,566.8L233.1,569.5L228.2,572L223.3,574.2L218.4,576.2L213.4,578L208.6,579.4L203.8,580.5L199,581.3L194.5,581.8L190.1,581.9L185.9,581.7L182,581.2L178.3,580.2L174.9,579L171.8,577.3L169.1,575.4L166.8,573.1L164.9,570.5L163.3,567.7L162.2,564.7L161.4,561.4L160.9,558L160.7,554.5L160.8,550.9L161.1,547.2L161.6,543.5L162.2,539.7Z" fill="#00f6ff" stroke="#1a2a38" stroke-opacity="0.55" stroke-width="0.7"/>
<path d="M169.5,534.5L170.4,531L171.5,527.4L172.8,523.7L174.3,519.9L176.1,516.1L178.2,512.2L180.6,508.2L183.4,504.2L186.6,500.3L190.1,496.5L193.9,492.8L198,489.3L202.4,486.1L206.8,483.2L211.3,480.5L215.9,478.2L220.4,476.1L224.8,474.3L229.2,472.6L233.5,471.1L237.8,469.8L242,468.6L246.1,467.5L250.3,466.5L254.3,465.6L258.4,465L262.4,464.6L266.2,464.4L269.9,464.5L273.4,465L276.6,465.8L279.6,467L282.2,468.4L284.6,470.2L286.6,472.3L288.3,474.6L289.6,477.1L290.7,479.8L291.6,482.7L292.1,485.7L292.4,488.9L292.4,492.2L292.1,495.6L291.5,499.1L290.6,502.8L289.4,506.5L287.8,510.4L285.9,514.2L283.7,518.1L281.1,522L278.3,525.9L275.2,529.6L271.9,533.3L268.4,536.9L264.8,540.4L261,543.8L257.2,547L253.2,550.2L249.2,553.2L245,556.1L240.8,558.9L236.5,561.6L232.2,564.1L227.8,566.3L223.3,568.4L218.9,570.3L214.4,571.9L210,573.2L205.7,574.2L201.4,575L197.4,575.4L193.4,575.5L189.7,575.3L186.1,574.9L182.8,574.1L179.8,573L177,571.6L174.5,569.9L172.4,567.9L170.7,565.6L169.3,563.1L168.2,560.4L167.5,557.5L167.1,554.5L167,551.3L167.1,548.1L167.5,544.7L168,541.4L168.6,538Z" fill="#5cffa2" stroke="#1a2a38" stroke-opacity="0.55" stroke-width="0.7"/>
<path d="M175.5,533.3L176.4,530.2L177.4,526.9L178.5,523.6L179.9,520.2L181.6,516.8L183.5,513.2L185.7,509.7L188.3,506.1L191.2,502.6L194.4,499.1L197.9,495.9L201.6,492.8L205.5,489.9L209.5,487.3L213.5,484.9L217.6,482.8L221.6,481L225.5,479.3L229.4,477.8L233.3,476.4L237,475.1L240.8,474L244.5,473L248.2,472L251.9,471.2L255.5,470.6L259,470.2L262.5,470L265.8,470.1L268.9,470.5L271.8,471.1L274.4,472.1L276.8,473.4L278.9,475L280.7,476.7L282.3,478.8L283.5,481L284.5,483.4L285.3,485.9L285.8,488.7L286,491.5L286,494.5L285.7,497.6L285.1,500.8L284.1,504.1L282.9,507.5L281.4,511L279.6,514.4L277.4,517.9L275,521.4L272.4,524.8L269.6,528.2L266.7,531.5L263.5,534.7L260.3,537.8L257,540.8L253.6,543.8L250.1,546.7L246.5,549.5L242.8,552.2L239.1,554.7L235.2,557.2L231.3,559.5L227.4,561.6L223.4,563.5L219.4,565.2L215.4,566.6L211.4,567.8L207.6,568.6L203.8,569.2L200.2,569.6L196.8,569.6L193.5,569.4L190.4,569L187.5,568.2L184.9,567.2L182.5,566L180.3,564.5L178.5,562.8L176.9,560.8L175.6,558.6L174.7,556.2L174,553.7L173.6,551L173.5,548.2L173.6,545.4L173.8,542.4L174.3,539.4L174.8,536.4Z" fill="#aeff50" stroke="#1a2a38" stroke-opacity="0.55" stroke-width="0.7"/>
<path d="M183.6,528.6L184.3,526.1L185,523.5L185.6,520.8L186.4,518.1L187.3,515.2L188.4,512.2L189.8,509.1L191.6,506L193.8,502.8L196.3,499.7L199.1,496.6L202.3,493.7L205.7,491.1L209.3,488.7L213,486.5L216.7,484.6L220.5,483L224.1,481.6L227.7,480.4L231.2,479.4L234.6,478.5L238,477.7L241.2,477L244.5,476.4L247.6,476L250.7,475.7L253.7,475.6L256.7,475.6L259.4,475.9L262.1,476.3L264.6,476.9L267,477.7L269.2,478.7L271.3,479.9L273.3,481.2L275,482.7L276.7,484.3L278.1,486.1L279.3,488.1L280.3,490.3L280.9,492.7L281.2,495.3L281.1,498.1L280.5,501L279.5,504.1L278.1,507.3L276.2,510.5L274.1,513.6L271.6,516.7L269,519.7L266.3,522.6L263.5,525.4L260.6,528.1L257.9,530.7L255.1,533.3L252.4,535.8L249.6,538.4L246.8,541.1L243.9,543.8L240.9,546.5L237.7,549.1L234.3,551.7L230.8,554.2L227.1,556.5L223.3,558.5L219.5,560.3L215.6,561.7L211.9,562.8L208.2,563.6L204.6,564.1L201.2,564.3L198,564.1L195,563.8L192.2,563.1L189.6,562.2L187.2,561.1L185.1,559.8L183.3,558.2L181.9,556.4L180.7,554.3L180,552L179.5,549.6L179.4,547.1L179.6,544.4L180.1,541.7L180.7,539L181.4,536.4L182.1,533.7L182.9,531.2Z" fill="#fff200" stroke="#1a2a38" stroke-opacity="0.55" stroke-width="0.7"/>
<path d="M190.9,526L191.3,523.7L191.8,521.3L192.3,518.8L192.9,516.3L193.6,513.6L194.6,510.8L195.9,508L197.6,505.1L199.5,502.2L201.8,499.4L204.4,496.8L207.2,494.3L210.3,492.1L213.4,490.1L216.5,488.4L219.7,486.9L222.8,485.6L225.9,484.6L228.8,483.7L231.7,482.9L234.5,482.2L237.2,481.6L239.9,481.1L242.5,480.7L245.1,480.4L247.6,480.1L250.1,480.1L252.5,480.1L254.9,480.3L257.1,480.6L259.3,481.1L261.4,481.8L263.3,482.6L265.2,483.5L267,484.6L268.6,485.8L270.1,487.2L271.5,488.8L272.6,490.6L273.5,492.6L274,494.8L274.3,497.1L274.2,499.7L273.6,502.4L272.7,505.2L271.4,508.1L269.8,510.9L267.9,513.8L265.7,516.5L263.4,519.2L261,521.7L258.6,524.1L256.2,526.4L253.8,528.7L251.4,530.8L249.1,533L246.8,535.2L244.5,537.3L242.1,539.6L239.6,541.8L237,544L234.3,546.2L231.4,548.3L228.4,550.3L225.4,552.2L222.2,553.9L219,555.4L215.8,556.7L212.6,557.7L209.4,558.5L206.3,559L203.3,559.2L200.5,559.2L197.8,558.8L195.3,558.2L193.2,557.2L191.2,555.9L189.7,554.4L188.4,552.5L187.6,550.5L187.1,548.2L186.9,545.7L187,543.2L187.3,540.6L187.8,538.1L188.5,535.5L189.1,533.1L189.7,530.7L190.3,528.3Z" fill="#ff9400" stroke="#1a2a38" stroke-opacity="0.55" stroke-width="0.7"/>
<path d="M198.6,523.3L198.7,521.4L198.7,519.3L198.9,517.2L199.2,514.9L199.6,512.5L200.4,509.9L201.5,507.3L202.8,504.6L204.5,502L206.5,499.5L208.8,497.1L211.3,494.9L213.9,492.9L216.6,491.2L219.4,489.8L222.1,488.6L224.7,487.6L227.2,486.9L229.7,486.3L232,485.8L234.3,485.4L236.5,485.1L238.6,484.9L240.6,484.7L242.6,484.5L244.6,484.4L246.6,484.4L248.5,484.4L250.4,484.4L252.3,484.6L254.2,484.9L256,485.2L257.8,485.7L259.6,486.3L261.2,487.1L262.8,488L264.3,489.1L265.5,490.4L266.6,492L267.4,493.7L267.9,495.7L268,497.9L267.8,500.3L267.2,502.8L266.3,505.3L265.1,507.9L263.6,510.5L261.9,513.1L260,515.5L257.9,517.9L255.9,520.1L253.8,522.2L251.7,524.3L249.7,526.2L247.7,528.1L245.7,529.9L243.7,531.8L241.8,533.6L239.8,535.5L237.7,537.4L235.6,539.3L233.4,541.1L231,542.9L228.6,544.6L226.1,546.2L223.6,547.7L221,549.1L218.3,550.2L215.7,551.2L213.1,551.9L210.6,552.3L208.1,552.5L205.8,552.5L203.7,552.1L201.8,551.4L200.1,550.4L198.7,549.2L197.7,547.6L196.9,545.9L196.4,543.9L196.2,541.8L196.3,539.7L196.5,537.4L196.8,535.3L197.2,533.1L197.6,531.1L198,529.1L198.3,527.1L198.5,525.2Z" fill="#ff3a00" stroke="#1a2a38" stroke-opacity="0.55" stroke-width="0.7"/>
<path d="M206.7,518.3L206.4,516.8L206.2,515.2L206.2,513.5L206.3,511.7L206.7,509.8L207.4,507.8L208.3,505.7L209.5,503.7L210.9,501.7L212.5,499.8L214.3,498.1L216.3,496.5L218.3,495L220.4,493.8L222.5,492.7L224.6,491.8L226.6,491.1L228.6,490.6L230.5,490.2L232.3,489.9L234,489.7L235.6,489.6L237.2,489.6L238.7,489.6L240.2,489.6L241.6,489.6L243.1,489.6L244.6,489.6L246,489.7L247.6,489.7L249.1,489.8L250.7,489.9L252.2,490.1L253.8,490.4L255.3,490.9L256.7,491.5L257.9,492.3L259,493.4L259.9,494.6L260.5,496L260.8,497.6L260.8,499.4L260.6,501.3L260,503.3L259.1,505.3L258.1,507.3L256.8,509.3L255.3,511.2L253.7,513L252.1,514.7L250.4,516.3L248.8,517.8L247.2,519.2L245.6,520.5L244.1,521.8L242.6,523.1L241.2,524.3L239.7,525.5L238.4,526.8L236.9,528.2L235.5,529.6L233.9,531.1L232.3,532.6L230.5,534.1L228.7,535.6L226.7,537.1L224.6,538.4L222.5,539.5L220.3,540.5L218.2,541.2L216.2,541.6L214.3,541.6L212.6,541.3L211.1,540.7L209.8,539.8L208.8,538.7L208.1,537.3L207.7,535.7L207.5,534L207.4,532.4L207.5,530.7L207.7,529L207.8,527.5L207.9,526.1L207.9,524.7L207.8,523.4L207.6,522.2L207.4,520.9L207,519.6Z" fill="#d80000" stroke="#1a2a38" stroke-opacity="0.55" stroke-width="0.7"/>
<path d="M214,511.6L214,510.7L214.1,509.7L214.3,508.7L214.6,507.7L215,506.7L215.6,505.6L216.3,504.5L217.1,503.4L218,502.3L219.1,501.3L220.2,500.3L221.4,499.3L222.7,498.5L224.1,497.7L225.5,496.9L227,496.3L228.4,495.8L229.8,495.4L231.2,495.1L232.6,494.9L233.9,494.8L235.1,494.7L236.3,494.8L237.4,494.9L238.4,495.1L239.4,495.2L240.3,495.4L241.3,495.6L242.2,495.7L243.2,495.9L244.2,496L245.2,496.1L246.3,496.2L247.4,496.3L248.5,496.5L249.6,496.8L250.7,497.1L251.7,497.6L252.5,498.2L253.1,498.9L253.6,499.7L253.8,500.6L253.7,501.7L253.4,502.8L252.9,503.9L252.1,505.1L251.2,506.2L250.1,507.3L248.9,508.3L247.6,509.2L246.4,510.1L245.2,510.9L244,511.6L242.9,512.3L241.9,513L241,513.7L240.1,514.4L239.2,515.1L238.4,515.9L237.5,516.8L236.5,517.7L235.5,518.6L234.4,519.6L233.1,520.5L231.8,521.4L230.4,522.2L228.9,522.9L227.4,523.4L225.9,523.8L224.5,524L223.2,524L221.9,523.9L220.8,523.6L219.9,523.1L219,522.6L218.3,521.9L217.8,521.2L217.3,520.5L216.9,519.8L216.6,519L216.2,518.3L216,517.6L215.7,516.9L215.4,516.2L215.1,515.5L214.8,514.8L214.5,514L214.3,513.3L214.1,512.5Z" fill="#800000" stroke="#1a2a38" stroke-opacity="0.55" stroke-width="0.7"/>
<path d="M119.6,579L121.5,580.5L123.5,577.5L126,575.3L130.9,572.9L135.8,570.4L140.8,567.8L145.7,565.2L150.6,562.6L155.5,559.9L160.4,557.1L165.3,554.4L170.3,551.6L175.2,548.7L180.1,545.9L185,543.1L189.9,540.2L194.9,537.4L199.8,534.5L204.7,531.7L209.6,528.8L214.5,526L219.4,523.1L224.4,520.3L229.3,517.5L234.2,514.8L239.1,512L244,509.3L249,506.6L253.9,504L258.8,501.4L263.7,498.9L268.6,496.4L273.6,494L278.5,491.7L283.4,489.4L288.3,487.2L293.2,485.1L298.1,483.1L303.1,481.2L308,479.4L312.9,477.7L317.8,476L322.7,474.5L327.7,473.2L332.6,471.9L337.5,470.7L342.4,469.6L347.3,468.7L352.2,467.8L357.2,467L362.1,466.4L367,465.8L370,468.8L372.8,465" fill="none" stroke="#ff1ad9" stroke-width="1.5" stroke-linejoin="round"/>
</g>
<rect x="119.6" y="385.85" width="253.2" height="253" fill="none" stroke="#c4c4a4" stroke-width="1"/>
<path d="M127.9,381.7V385.9M127.9,638.9V643.1M148.3,381.7V385.9M148.3,638.9V643.1M167.3,381.7V385.9M167.3,638.9V643.1M185.1,381.7V385.9M185.1,638.9V643.1M201.8,381.7V385.9M201.8,638.9V643.1M217.6,381.7V385.9M217.6,638.9V643.1M232.5,381.7V385.9M232.5,638.9V643.1M246.6,381.7V385.9M246.6,638.9V643.1M260,381.7V385.9M260,638.9V643.1M272.9,381.7V385.9M272.9,638.9V643.1M285.1,381.7V385.9M285.1,638.9V643.1M296.8,381.7V385.9M296.8,638.9V643.1M308.1,381.7V385.9M308.1,638.9V643.1M318.9,381.7V385.9M318.9,638.9V643.1M329.3,381.7V385.9M329.3,638.9V643.1M339.3,381.7V385.9M339.3,638.9V643.1M349,381.7V385.9M349,638.9V643.1M358.3,381.7V385.9M358.3,638.9V643.1M367.3,381.7V385.9M367.3,638.9V643.1M185.1,377.9V385.9M185.1,638.9V646.9M246.6,377.9V385.9M246.6,638.9V646.9M296.8,377.9V385.9M296.8,638.9V646.9M339.3,377.9V385.9M339.3,638.9V646.9M115.4,638.9H119.6M372.8,638.9H377M115.4,632.5H119.6M372.8,632.5H377M115.4,626.2H119.6M372.8,626.2H377M115.4,619.9H119.6M372.8,619.9H377M115.4,613.6H119.6M372.8,613.6H377M115.4,607.2H119.6M372.8,607.2H377M115.4,600.9H119.6M372.8,600.9H377M115.4,594.6H119.6M372.8,594.6H377M115.4,588.2H119.6M372.8,588.2H377M115.4,581.9H119.6M372.8,581.9H377M115.4,575.6H119.6M372.8,575.6H377M115.4,569.3H119.6M372.8,569.3H377M115.4,563H119.6M372.8,563H377M115.4,556.6H119.6M372.8,556.6H377M115.4,550.3H119.6M372.8,550.3H377M115.4,544H119.6M372.8,544H377M115.4,537.6H119.6M372.8,537.6H377M115.4,531.3H119.6M372.8,531.3H377M115.4,525H119.6M372.8,525H377M115.4,518.7H119.6M372.8,518.7H377M115.4,512.4H119.6M372.8,512.4H377M115.4,506H119.6M372.8,506H377M115.4,499.7H119.6M372.8,499.7H377M115.4,493.4H119.6M372.8,493.4H377M115.4,487.1H119.6M372.8,487.1H377M115.4,480.7H119.6M372.8,480.7H377M115.4,474.4H119.6M372.8,474.4H377M115.4,468.1H119.6M372.8,468.1H377M115.4,461.8H119.6M372.8,461.8H377M115.4,455.4H119.6M372.8,455.4H377M115.4,449.1H119.6M372.8,449.1H377M115.4,442.8H119.6M372.8,442.8H377M115.4,436.5H119.6M372.8,436.5H377M115.4,430.1H119.6M372.8,430.1H377M115.4,423.8H119.6M372.8,423.8H377M115.4,417.5H119.6M372.8,417.5H377M115.4,411.2H119.6M372.8,411.2H377M115.4,404.8H119.6M372.8,404.8H377M115.4,398.5H119.6M372.8,398.5H377M115.4,392.2H119.6M372.8,392.2H377M115.4,385.9H119.6M372.8,385.9H377M111.6,638.9H119.6M372.8,638.9H380.8M111.6,607.2H119.6M372.8,607.2H380.8M111.6,575.6H119.6M372.8,575.6H380.8M111.6,544H119.6M372.8,544H380.8M111.6,512.4H119.6M372.8,512.4H380.8M111.6,480.7H119.6M372.8,480.7H380.8M111.6,449.1H119.6M372.8,449.1H380.8M111.6,417.5H119.6M372.8,417.5H380.8M111.6,385.9H119.6M372.8,385.9H380.8" stroke="#a6a6a6" stroke-width="0.9" fill="none"/>
</g>
<g id="p_e">
<rect x="519.6" y="385.85" width="253.2" height="253" fill="#fffdd0"/>
<clipPath id="cl_e"><rect x="519.6" y="385.85" width="253.2" height="253"/></clipPath>
<g clip-path="url(#cl_e)" stroke-linejoin="round">
<path d="M538,500.7L538,493.5L538.3,486.5L538.7,479.5L539.2,472.6L539.8,465.7L540.6,458.8L541.6,451.8L542.9,444.9L544.6,438.1L546.7,431.4L549.3,425L552.6,418.9L556.5,413.4L561.1,408.6L566.3,404.6L572,401.4L578.3,399.1L584.9,397.8L591.8,397.4L598.9,397.9L606.1,399.1L613.2,401L620.3,403.5L627.2,406.4L634,409.6L640.7,413.1L647.2,416.8L653.6,420.7L659.9,424.8L666.1,429L672.3,433.5L678.5,438.2L684.5,443.3L690.4,448.7L696.2,454.6L701.7,460.8L706.9,467.4L711.8,474.4L716.2,481.7L720.2,489.3L723.6,497.2L726.4,505.1L728.6,513.2L730.2,521.2L731.2,529.2L731.6,537L731.4,544.6L730.7,552L729.5,559.2L727.9,566L725.9,572.6L723.4,578.8L720.6,584.7L717.4,590.3L713.9,595.6L710.1,600.5L705.9,605.1L701.4,609.2L696.6,612.9L691.5,616.2L686.1,619L680.4,621.4L674.5,623.2L668.4,624.5L662,625.2L655.5,625.4L648.9,625.1L642.2,624.3L635.4,623L628.5,621.2L621.6,619L614.7,616.3L607.8,613.1L601,609.4L594.3,605.2L587.6,600.6L581.2,595.4L574.9,589.8L569,583.6L563.5,577L558.4,570L553.8,562.6L549.8,555L546.4,547.2L543.7,539.2L541.5,531.3L539.9,523.4L538.9,515.7L538.3,508.1Z" fill="#0000d4"/>
<path d="M549.1,501.7L548.9,495.6L548.9,489.6L549.1,483.6L549.4,477.8L550,471.9L550.7,466.1L551.6,460.4L552.8,454.7L554.4,449.1L556.4,443.7L558.8,438.6L561.7,433.8L565.1,429.4L569.1,425.6L573.5,422.3L578.3,419.7L583.6,417.7L589.2,416.5L595.1,416L601.1,416.2L607.2,417L613.4,418.4L619.6,420.3L625.6,422.7L631.6,425.5L637.5,428.6L643.2,431.9L648.8,435.5L654.3,439.3L659.7,443.2L665,447.3L670.2,451.6L675.4,456.1L680.4,460.9L685.3,465.9L690.1,471.1L694.7,476.7L699,482.6L703.1,488.7L706.7,495.1L709.9,501.7L712.6,508.4L714.8,515.2L716.5,522L717.5,528.8L718.1,535.4L718.1,541.9L717.5,548.1L716.6,554.2L715.1,559.9L713.3,565.4L711.2,570.6L708.7,575.5L706,580.1L702.9,584.5L699.6,588.5L696,592.3L692.1,595.7L688,598.7L683.6,601.4L678.9,603.7L674,605.5L668.9,606.9L663.6,607.9L658.1,608.4L652.5,608.4L646.7,608.1L640.9,607.3L635,606.1L629,604.6L623,602.6L617,600.3L611,597.6L605,594.5L599.1,590.9L593.2,586.9L587.5,582.4L582.1,577.6L576.9,572.2L572,566.5L567.6,560.5L563.6,554.1L560.1,547.6L557.2,540.9L554.7,534.2L552.8,527.5L551.3,520.9L550.2,514.3L549.5,507.9Z" fill="#0038ff" stroke="#1a2a38" stroke-opacity="0.55" stroke-width="0.7"/>
<path d="M556.6,503.1L556.3,497.7L556.2,492.3L556.4,487.1L556.7,481.9L557.3,476.9L558.1,471.9L559.2,467L560.5,462.2L562.1,457.5L564.1,453.1L566.4,448.8L569,444.8L572.1,441.2L575.6,438L579.5,435.2L583.7,433L588.3,431.2L593.1,430.1L598.2,429.5L603.5,429.6L608.9,430.1L614.3,431.2L619.8,432.8L625.2,434.8L630.6,437.2L635.8,439.9L641,442.8L646,446L650.9,449.4L655.7,452.9L660.5,456.6L665.1,460.5L669.6,464.5L674.1,468.8L678.5,473.2L682.7,477.9L686.7,482.8L690.6,487.9L694.1,493.3L697.4,498.9L700.3,504.6L702.8,510.5L704.8,516.4L706.3,522.3L707.4,528.2L708,534L708.1,539.7L707.7,545.2L706.9,550.5L705.7,555.5L704.1,560.3L702.2,564.8L700,569L697.5,573L694.8,576.7L691.8,580.2L688.6,583.3L685.1,586.2L681.5,588.8L677.6,591.1L673.4,593L669.1,594.6L664.6,595.9L659.9,596.8L655.1,597.2L650.1,597.4L645,597.1L639.7,596.4L634.5,595.4L629.1,594L623.8,592.2L618.4,590L613.1,587.4L607.7,584.5L602.5,581.2L597.4,577.6L592.4,573.5L587.6,569.2L583.1,564.5L578.8,559.5L574.9,554.2L571.3,548.8L568.1,543.1L565.3,537.4L563,531.6L561,525.8L559.4,520L558.1,514.3L557.2,508.6Z" fill="#0098f4" stroke="#1a2a38" stroke-opacity="0.55" stroke-width="0.7"/>
<path d="M563.9,504.6L563.6,499.8L563.4,495L563.6,490.4L563.9,485.8L564.5,481.3L565.4,476.9L566.4,472.7L567.7,468.6L569.3,464.6L571.2,460.8L573.4,457.2L575.9,453.9L578.8,451L582,448.3L585.5,446.1L589.3,444.2L593.3,442.8L597.6,441.8L602.1,441.3L606.7,441.3L611.4,441.6L616.2,442.4L621,443.6L625.8,445.1L630.6,447L635.4,449.1L640.1,451.6L644.7,454.2L649.2,457.2L653.6,460.3L657.8,463.7L662,467.2L666.1,471L670,474.9L673.8,479L677.4,483.3L680.8,487.8L684.1,492.4L687.1,497.1L689.9,502L692.4,507L694.6,512.1L696.5,517.3L698,522.5L699.2,527.7L699.9,532.8L700.2,537.8L700.1,542.7L699.6,547.5L698.6,552L697.3,556.2L695.7,560.3L693.7,564L691.5,567.5L688.9,570.8L686.2,573.7L683.2,576.4L680.1,578.9L676.7,581L673.2,583L669.5,584.6L665.6,586L661.6,587.1L657.4,587.9L653.1,588.3L648.6,588.4L644,588.1L639.4,587.5L634.6,586.5L629.8,585.2L625,583.5L620.3,581.4L615.5,579.1L610.8,576.4L606.2,573.3L601.7,570L597.3,566.4L593.1,562.6L589,558.5L585.2,554.1L581.7,549.6L578.4,544.8L575.4,539.9L572.7,535L570.4,529.9L568.5,524.8L566.8,519.7L565.6,514.6L564.6,509.6Z" fill="#00f6ff" stroke="#1a2a38" stroke-opacity="0.55" stroke-width="0.7"/>
<path d="M571,506.1L570.6,501.8L570.4,497.6L570.5,493.4L570.9,489.4L571.4,485.4L572.2,481.6L573.2,477.9L574.5,474.3L576,470.9L577.7,467.7L579.8,464.6L582.1,461.8L584.7,459.3L587.6,457.1L590.7,455.2L594.1,453.6L597.6,452.4L601.4,451.6L605.3,451.1L609.4,451L613.5,451.3L617.7,451.9L622,452.8L626.2,454L630.5,455.6L634.7,457.4L638.9,459.5L643,461.9L647,464.5L650.9,467.3L654.7,470.3L658.4,473.5L662,476.8L665.4,480.3L668.7,484L671.9,487.8L674.9,491.7L677.7,495.7L680.4,499.9L682.9,504.2L685.1,508.6L687.1,513.1L688.8,517.6L690.2,522.1L691.2,526.7L691.9,531.2L692.2,535.6L692.2,539.9L691.7,544.1L690.9,548L689.7,551.8L688.3,555.3L686.5,558.6L684.5,561.7L682.3,564.5L679.9,567.1L677.2,569.5L674.5,571.6L671.5,573.6L668.4,575.3L665.1,576.8L661.7,578L658.1,579L654.4,579.7L650.6,580L646.6,580.1L642.5,579.8L638.3,579.2L634.1,578.3L629.9,577L625.6,575.5L621.4,573.6L617.2,571.4L613.1,569L609,566.3L605,563.4L601.2,560.2L597.5,556.8L593.9,553.2L590.5,549.4L587.4,545.5L584.4,541.3L581.7,537.1L579.3,532.7L577.2,528.3L575.3,523.8L573.8,519.4L572.6,514.9L571.6,510.5Z" fill="#5cffa2" stroke="#1a2a38" stroke-opacity="0.55" stroke-width="0.7"/>
<path d="M577.2,507.5L576.8,503.7L576.7,500L576.7,496.3L577,492.8L577.5,489.3L578.3,486L579.2,482.8L580.3,479.6L581.7,476.7L583.3,473.9L585.1,471.2L587.2,468.8L589.5,466.6L592,464.7L594.8,463L597.8,461.7L601,460.7L604.3,459.9L607.8,459.6L611.4,459.5L615,459.7L618.8,460.3L622.6,461.1L626.4,462.3L630.1,463.7L633.9,465.3L637.6,467.2L641.2,469.2L644.8,471.5L648.2,474L651.6,476.6L654.9,479.4L658.1,482.3L661.2,485.4L664.1,488.6L666.9,491.9L669.6,495.4L672.2,498.9L674.5,502.6L676.7,506.4L678.7,510.2L680.5,514.1L682,518.1L683.3,522.1L684.2,526.1L684.8,530L685.1,533.9L685.1,537.7L684.7,541.3L684,544.8L682.9,548L681.6,551.1L680.1,554L678.3,556.6L676.3,559.1L674.2,561.4L671.8,563.4L669.4,565.3L666.8,567L664,568.5L661.1,569.8L658.1,570.9L655,571.8L651.7,572.4L648.3,572.7L644.7,572.8L641.1,572.6L637.4,572L633.6,571.2L629.8,570L626.1,568.6L622.3,566.9L618.6,564.9L614.9,562.7L611.3,560.3L607.8,557.7L604.4,554.8L601.2,551.8L598,548.7L595.1,545.4L592.2,541.9L589.6,538.3L587.2,534.6L585,530.8L583.1,527L581.4,523.1L579.9,519.2L578.8,515.2L577.9,511.3Z" fill="#aeff50" stroke="#1a2a38" stroke-opacity="0.55" stroke-width="0.7"/>
<path d="M583.5,508.6L583.1,505.3L583,502L583.1,498.9L583.3,495.8L583.8,492.8L584.5,489.9L585.3,487.2L586.3,484.5L587.4,481.9L588.8,479.5L590.3,477.2L592.1,475L594.1,473.1L596.3,471.4L598.6,470L601.2,468.8L604,467.9L606.9,467.3L610,467L613.2,467.1L616.4,467.4L619.7,467.9L623,468.8L626.3,469.8L629.6,471.1L632.9,472.5L636.1,474.2L639.3,476L642.4,478L645.5,480.1L648.5,482.4L651.4,484.8L654.2,487.4L656.9,490L659.5,492.8L662,495.8L664.4,498.8L666.6,501.9L668.7,505.1L670.7,508.4L672.4,511.8L673.9,515.2L675.2,518.7L676.3,522.1L677.2,525.6L677.7,529L678,532.4L678,535.6L677.7,538.8L677.1,541.8L676.3,544.7L675.2,547.3L673.9,549.8L672.3,552.2L670.7,554.3L668.8,556.3L666.8,558.1L664.7,559.7L662.4,561.2L660,562.5L657.5,563.6L654.9,564.5L652.1,565.3L649.2,565.8L646.3,566.1L643.2,566.1L640,565.9L636.7,565.3L633.4,564.5L630.1,563.5L626.8,562.1L623.5,560.6L620.2,558.8L617,556.8L613.9,554.6L610.9,552.2L608,549.8L605.1,547.1L602.4,544.4L599.7,541.5L597.2,538.5L594.9,535.4L592.7,532.3L590.7,529L588.9,525.6L587.3,522.2L586,518.8L584.9,515.4L584.1,511.9Z" fill="#fff200" stroke="#1a2a38" stroke-opacity="0.55" stroke-width="0.7"/>
<path d="M589.2,509.5L588.8,506.6L588.7,503.8L588.8,501.1L589,498.5L589.5,495.9L590.1,493.4L590.8,491.1L591.7,488.8L592.8,486.6L594,484.5L595.3,482.5L596.9,480.7L598.6,479L600.5,477.6L602.6,476.4L604.9,475.4L607.3,474.7L609.9,474.3L612.6,474.2L615.4,474.4L618.2,474.7L621,475.4L623.9,476.2L626.7,477.1L629.5,478.2L632.3,479.4L635,480.7L637.8,482.1L640.5,483.7L643.2,485.3L645.8,487.1L648.5,489L651,491.1L653.5,493.4L655.8,495.8L658,498.3L660,501L661.8,503.8L663.4,506.6L664.8,509.5L666.1,512.4L667.1,515.3L668,518.2L668.7,521.1L669.2,523.9L669.6,526.7L669.8,529.5L669.9,532.2L669.8,534.9L669.5,537.5L669.1,540.1L668.4,542.5L667.5,544.8L666.5,547L665.2,549L663.7,550.8L662,552.4L660.2,553.9L658.2,555.2L656.1,556.3L653.8,557.2L651.5,557.9L649,558.4L646.5,558.8L643.8,558.9L641.1,558.8L638.3,558.6L635.5,558.1L632.7,557.3L629.8,556.4L626.9,555.2L624.1,553.8L621.3,552.2L618.6,550.5L616,548.5L613.4,546.5L610.9,544.4L608.5,542.1L606.2,539.8L604,537.4L601.9,534.9L599.8,532.3L597.9,529.6L596.1,526.9L594.4,524.1L592.9,521.2L591.7,518.3L590.6,515.4L589.8,512.4Z" fill="#ff9400" stroke="#1a2a38" stroke-opacity="0.55" stroke-width="0.7"/>
<path d="M595.4,510.2L594.9,507.8L594.7,505.4L594.7,503.2L595,501L595.4,498.9L596,496.9L596.8,495L597.7,493.2L598.6,491.5L599.7,489.9L600.8,488.3L602.1,486.8L603.5,485.4L605,484.1L606.6,483L608.5,482.1L610.5,481.4L612.6,481L614.9,480.8L617.3,480.9L619.7,481.4L622.2,482L624.6,482.8L627,483.9L629.4,485L631.7,486.2L634,487.4L636.3,488.7L638.5,490L640.8,491.3L643,492.8L645.3,494.3L647.5,495.9L649.7,497.6L651.8,499.5L653.8,501.6L655.6,503.8L657.2,506.1L658.5,508.5L659.7,511L660.6,513.4L661.3,515.8L661.8,518.2L662.1,520.5L662.4,522.8L662.6,525L662.7,527.2L662.7,529.4L662.8,531.6L662.7,533.7L662.5,535.9L662.2,538L661.8,540L661.1,542L660.2,543.8L659.1,545.4L657.7,546.8L656.2,548.1L654.4,549.1L652.6,549.9L650.6,550.5L648.5,550.9L646.3,551.1L644.1,551.3L641.9,551.3L639.6,551.2L637.3,550.9L635,550.5L632.6,550L630.2,549.3L627.7,548.4L625.3,547.4L622.9,546.1L620.6,544.6L618.3,543L616.2,541.2L614.1,539.3L612.2,537.4L610.3,535.3L608.5,533.2L606.8,531.1L605.2,529L603.6,526.8L602.1,524.5L600.6,522.3L599.3,519.9L598,517.5L597,515.1L596.1,512.7Z" fill="#ff3a00" stroke="#1a2a38" stroke-opacity="0.55" stroke-width="0.7"/>
<path d="M602.6,512L602.2,510.2L601.9,508.4L601.7,506.6L601.7,504.9L601.7,503.1L601.9,501.4L602.3,499.7L602.8,498.1L603.4,496.6L604.3,495.2L605.3,493.9L606.4,492.8L607.7,491.8L609.2,491L610.8,490.3L612.5,489.9L614.3,489.6L616.2,489.5L618.1,489.6L620.1,489.8L622.1,490.1L624,490.6L625.9,491.2L627.9,491.9L629.8,492.6L631.6,493.4L633.4,494.3L635.2,495.3L637,496.2L638.8,497.3L640.5,498.4L642.3,499.6L644,500.9L645.6,502.2L647.2,503.7L648.7,505.2L650.1,506.8L651.4,508.5L652.6,510.2L653.6,512L654.5,513.8L655.3,515.7L655.9,517.5L656.3,519.3L656.6,521.1L656.8,522.8L656.8,524.6L656.7,526.2L656.5,527.9L656.2,529.4L655.8,531L655.3,532.4L654.7,533.9L654,535.2L653.2,536.5L652.3,537.7L651.3,538.9L650.1,539.9L648.8,540.8L647.5,541.6L646,542.3L644.4,542.8L642.7,543.2L640.9,543.4L639,543.5L637.1,543.3L635.2,543.1L633.2,542.6L631.3,542.1L629.3,541.4L627.4,540.6L625.5,539.7L623.6,538.6L621.8,537.5L620,536.3L618.3,535L616.6,533.7L615.1,532.3L613.5,530.8L612.1,529.3L610.7,527.7L609.5,526L608.3,524.4L607.2,522.7L606.2,520.9L605.3,519.2L604.5,517.4L603.8,515.6L603.1,513.8Z" fill="#d80000" stroke="#1a2a38" stroke-opacity="0.55" stroke-width="0.7"/>
<path d="M609.7,513.3L609.6,512.2L609.6,511.1L609.6,510.1L609.7,509.1L609.9,508.1L610.1,507.1L610.3,506.2L610.7,505.3L611,504.4L611.5,503.6L612.1,502.8L612.7,502L613.4,501.4L614.2,500.8L615.1,500.2L616,499.8L617.1,499.5L618.2,499.2L619.4,499.1L620.6,499.1L621.9,499.2L623.2,499.5L624.6,499.8L625.9,500.2L627.3,500.7L628.6,501.3L629.9,502L631.1,502.7L632.4,503.5L633.6,504.4L634.7,505.2L635.8,506.2L636.9,507.1L637.9,508.1L638.9,509.1L639.9,510.1L640.8,511.1L641.7,512.2L642.6,513.3L643.4,514.4L644.1,515.6L644.7,516.8L645.3,518L645.8,519.2L646.2,520.4L646.5,521.6L646.7,522.7L646.8,523.9L646.7,525L646.6,526L646.3,527L645.9,527.9L645.3,528.8L644.7,529.6L644,530.2L643.2,530.8L642.4,531.4L641.5,531.8L640.5,532.2L639.5,532.5L638.4,532.7L637.4,532.9L636.3,533L635.1,533L634,533.1L632.8,533L631.6,532.9L630.4,532.8L629.1,532.5L627.9,532.3L626.6,531.9L625.3,531.5L624,530.9L622.6,530.3L621.3,529.6L620,528.9L618.8,528L617.6,527.1L616.4,526.1L615.4,525L614.4,523.9L613.5,522.7L612.7,521.5L612,520.3L611.3,519.1L610.8,517.9L610.4,516.7L610.1,515.6L609.9,514.4Z" fill="#800000" stroke="#1a2a38" stroke-opacity="0.55" stroke-width="0.7"/>
<path d="M519.6,475L522.5,479.5L525.2,483.6L529,482.8L532.8,482L532.8,482.6L538.1,484.7L543.5,486.7L548.8,488.7L554.1,490.5L559.5,492.4L564.8,494.2L570.1,496L575.4,497.8L580.8,499.6L586.1,501.4L591.4,503.2L596.8,505L602.1,506.8L607.4,508.6L612.8,510.5L618.1,512.3L623.4,514.1L628.7,515.9L634.1,517.7L639.4,519.5L644.7,521.2L650.1,522.9L655.4,524.5L660.7,526.1L666.1,527.6L671.4,529L676.7,530.3L682,531.6L687.4,532.8L692.7,533.9L698,534.9L703.4,535.8L708.7,536.6L714,537.3L719.4,537.9L724.7,538.5L730,539L735.3,539.5L740.7,539.9L746,540.3L751.3,540.7L756.7,541.2L762,541.7L765.5,540.8L769,539L772.8,537.6" fill="none" stroke="#ff1ad9" stroke-width="1.5" stroke-linejoin="round"/>
</g>
<rect x="519.6" y="385.85" width="253.2" height="253" fill="none" stroke="#c4c4a4" stroke-width="1"/>
<path d="M527.9,381.7V385.9M527.9,638.9V643.1M548.3,381.7V385.9M548.3,638.9V643.1M567.3,381.7V385.9M567.3,638.9V643.1M585.1,381.7V385.9M585.1,638.9V643.1M601.8,381.7V385.9M601.8,638.9V643.1M617.6,381.7V385.9M617.6,638.9V643.1M632.5,381.7V385.9M632.5,638.9V643.1M646.6,381.7V385.9M646.6,638.9V643.1M660,381.7V385.9M660,638.9V643.1M672.9,381.7V385.9M672.9,638.9V643.1M685.1,381.7V385.9M685.1,638.9V643.1M696.8,381.7V385.9M696.8,638.9V643.1M708.1,381.7V385.9M708.1,638.9V643.1M718.9,381.7V385.9M718.9,638.9V643.1M729.3,381.7V385.9M729.3,638.9V643.1M739.3,381.7V385.9M739.3,638.9V643.1M749,381.7V385.9M749,638.9V643.1M758.3,381.7V385.9M758.3,638.9V643.1M767.3,381.7V385.9M767.3,638.9V643.1M585.1,377.9V385.9M585.1,638.9V646.9M646.6,377.9V385.9M646.6,638.9V646.9M696.8,377.9V385.9M696.8,638.9V646.9M739.3,377.9V385.9M739.3,638.9V646.9M515.4,638.9H519.6M772.8,638.9H777M515.4,626.2H519.6M772.8,626.2H777M515.4,613.6H519.6M772.8,613.6H777M515.4,600.9H519.6M772.8,600.9H777M515.4,588.2H519.6M772.8,588.2H777M515.4,575.6H519.6M772.8,575.6H777M515.4,563H519.6M772.8,563H777M515.4,550.3H519.6M772.8,550.3H777M515.4,537.6H519.6M772.8,537.6H777M515.4,525H519.6M772.8,525H777M515.4,512.4H519.6M772.8,512.4H777M515.4,499.7H519.6M772.8,499.7H777M515.4,487.1H519.6M772.8,487.1H777M515.4,474.4H519.6M772.8,474.4H777M515.4,461.8H519.6M772.8,461.8H777M515.4,449.1H519.6M772.8,449.1H777M515.4,436.5H519.6M772.8,436.5H777M515.4,423.8H519.6M772.8,423.8H777M515.4,411.2H519.6M772.8,411.2H777M515.4,398.5H519.6M772.8,398.5H777M515.4,385.9H519.6M772.8,385.9H777M511.6,638.9H519.6M772.8,638.9H780.8M511.6,575.6H519.6M772.8,575.6H780.8M511.6,512.4H519.6M772.8,512.4H780.8M511.6,449.1H519.6M772.8,449.1H780.8M511.6,385.9H519.6M772.8,385.9H780.8" stroke="#a6a6a6" stroke-width="0.9" fill="none"/>
</g>
<g id="p_f">
<path d="M930.7,489.6L933.1,474.5L940.1,460.4L952.2,450.3L969.4,447.2L985.6,445.8L999.7,447.2L1011.8,450.3L1021.9,456.3L1038,464.4L1052.2,472.5L1064.3,482.6L1074.4,493.7L1084.5,506.8L1092.5,516.9L1096.6,525L1090.5,533L1091.5,541.1L1084.5,548.2L1074.4,551.2L1062.3,555.2L1046.1,557.3L1025.9,557.3L1011.8,553.2L1001.7,546.2L989.6,540.1L979.5,533L969.4,525L953.3,519.9L955.3,512.9L945.2,506.8L937.1,498.7Z" fill="none" stroke="#1c1cff" stroke-width="1.7" stroke-linejoin="round"/>
<path d="M1075.2,541.4L1066.2,546.8L1053.9,549.3L1040.3,550.2L1025,548.9L1008.5,544.1L992.3,536.6L977.2,527.7L963.9,517.4L953.6,506.2L945.8,494.9L940,483.6L938.7,472.9L943.2,464.6L951.3,458.6L961.2,454L973.9,452L988.9,453.2L1004.8,456.5L1021.2,461.6L1037.3,469.5L1051.4,479.5L1063.4,490.4L1073.2,501.7L1078.9,513.1L1080.5,523.6L1079.5,533.2Z" fill="none" stroke="#1c1cff" stroke-width="1.7" stroke-linejoin="round"/>
<path d="M1065.7,535.6L1057.8,541.6L1045.9,544.5L1030.9,543.3L1015.2,539.7L999.1,534.5L983.3,526.8L969.3,516.7L958.5,505.6L951.7,494.2L948.5,483.5L948.1,473.5L951.9,465.1L961.2,460L973.6,457.9L987.7,457.9L1003.3,460.7L1019.6,466.6L1035.1,474.8L1048.9,484.8L1059.7,495.8L1067.2,507.1L1071.1,518.1L1070.3,527.7Z" fill="none" stroke="#1c1cff" stroke-width="1.7" stroke-linejoin="round"/>
<path d="M1059,530.6L1051.1,536.1L1039.6,538.6L1025.7,538.1L1010.3,534.6L994.7,528.3L980.2,519.6L968,509.5L959,498.5L954.1,487.7L953.5,478L957.3,470L965.3,464.5L976.6,461.8L990.6,462.3L1006,465.9L1021.6,472.3L1036.1,480.9L1048.2,491.1L1057.3,502L1062.4,512.8L1062.9,522.6Z" fill="none" stroke="#1c1cff" stroke-width="1.7" stroke-linejoin="round"/>
<path d="M1047.5,529.3L1038.6,533.1L1026.6,533.9L1012.5,530.8L998.3,525.5L984.7,518.2L973.7,508.8L965.2,499L959.3,488.9L958.7,479.9L962.7,472.8L970.6,468.2L981.9,466.9L994.5,467.5L1008.6,470.8L1022.7,477.6L1035.3,486.1L1045.9,495.7L1051.9,505.8L1054.3,515.1L1053.3,523.4Z" fill="none" stroke="#1c1cff" stroke-width="1.7" stroke-linejoin="round"/>
<path d="M1043.8,522.3L1037.4,527.4L1026.8,529.2L1013.5,526.6L1000.1,522.3L986.7,515.6L975.6,506.6L968.2,496.9L965.4,487.9L965.7,479.7L970.1,473.4L979.7,470.7L991.5,470.5L1005,473.7L1018.3,480.2L1030.6,488L1040.5,497.2L1046.3,506.9L1047.5,515.7Z" fill="none" stroke="#1c1cff" stroke-width="1.7" stroke-linejoin="round"/>
<path d="M1033.3,521.6L1024.4,524.1L1012.2,522.7L999.3,518.2L987.1,511.3L977.2,502.7L971.3,493.6L970,485.3L972.7,478.6L980.5,475L991.4,474.7L1004,477.4L1016.7,483.3L1028,491.2L1036.1,500.2L1040.1,509.1L1038.9,516.5Z" fill="none" stroke="#1c1cff" stroke-width="1.7" stroke-linejoin="round"/>
<path d="M1028.8,517.1L1021.2,519.5L1010.8,519L999.1,514.8L988.7,508.2L980.1,500.5L974.7,492.4L974.7,485.4L979,480.4L986.7,478.1L997.2,479L1008.7,483.1L1019.6,489.3L1028.2,497.1L1032.8,505.2L1033.1,512.2Z" fill="none" stroke="#1c1cff" stroke-width="1.7" stroke-linejoin="round"/>
<path d="M1025.8,511.5L1021.1,514.7L1013.5,515.2L1004.5,513.2L995.2,509.3L987.1,503.4L981.3,496.9L979.2,490.6L980.3,485.5L985.1,482.5L992.6,481.8L1001.6,483.5L1010.8,487.8L1019,493.6L1024.3,500.1L1027,506.4Z" fill="none" stroke="#1c1cff" stroke-width="1.7" stroke-linejoin="round"/>
<path d="M1017.4,509.7L1012.8,511.2L1006,510L998.9,507.6L992.1,503.6L986.9,498.7L984.4,493.9L984.2,489.6L986.3,486.3L991.7,485.5L998.1,486L1005.3,488.8L1012,492.8L1017.2,497.6L1020.2,502.6L1020.2,506.8Z" fill="none" stroke="#1c1cff" stroke-width="1.7" stroke-linejoin="round"/>
<path d="M1010.1,503.2L1008.2,504.3L1005.2,504.5L1001.4,503.4L997.6,501.6L994,499.3L991.7,496.6L990.9,494.2L991.2,492.2L993.1,491L996.2,491L1000,491.9L1003.8,493.7L1007.1,496.2L1009.7,498.8L1010.8,501.3Z" fill="none" stroke="#1c1cff" stroke-width="1.7" stroke-linejoin="round"/>
<path d="M1004.1,508.8L1006.7,494.7L1013.8,482.6L1025.9,476.5L1042.1,474.5L1056.2,473.5L1070.3,475.5L1084.5,478.5L1096.6,481.6L1104.6,489.6L1118.8,495.7L1130.9,504.8L1141,514.9L1148,527L1150.7,541.1L1146,553.2L1136.9,564.3L1124.8,571.4L1112.7,575.4L1098.6,576.4L1086.5,574.4L1074.4,570.4L1062.3,565.3L1050.1,561.3L1038,557.3L1027.9,549.2L1019.9,539.1L1011.8,529L1005.7,518.9Z" fill="none" stroke="#ff1414" stroke-width="1.7" stroke-linejoin="round"/>
<path d="M1140.4,548.7L1136,556.9L1128.1,563.5L1116.5,567.2L1103.1,568.5L1088.7,568.1L1073.6,564.9L1058.9,559.5L1044.9,552.8L1032.1,544.5L1022.9,534.5L1017.7,524.2L1014.4,514.1L1013.2,504.2L1016.7,495.4L1024.4,488.8L1034.3,483.7L1046.3,480.5L1060.4,480.3L1075.3,482.3L1090.4,486L1105,492L1117.6,500.4L1128,509.7L1137,519.5L1142.5,529.9L1143,539.8Z" fill="none" stroke="#ff1414" stroke-width="1.7" stroke-linejoin="round"/>
<path d="M1135.2,545.4L1130,553.3L1121.5,559.4L1109.8,563.2L1095.5,563.6L1080.6,561.4L1065.6,557.4L1051.5,550.9L1039.7,542.4L1030.1,533L1023.2,522.9L1021.2,512.9L1023.4,503.8L1028.6,495.9L1037.5,490.1L1049.5,486.9L1063.3,486L1078.1,487.7L1093,492.1L1107.2,498.4L1120.2,506.4L1129.5,516.1L1134.2,526.4L1136.2,536.2Z" fill="none" stroke="#ff1414" stroke-width="1.7" stroke-linejoin="round"/>
<path d="M1127.2,548.2L1119.4,554.5L1108,558.1L1094.5,559L1080,557.6L1065.4,553.2L1052.2,546.4L1041,538L1033.1,528.6L1029,518.8L1028.9,509.4L1033.4,501.4L1041.7,495.5L1052.5,491.5L1065.9,490.2L1080.6,492.3L1095.2,496.7L1108.6,503.2L1119.6,511.7L1127.5,521.1L1131.8,530.9L1131.4,540.2Z" fill="none" stroke="#ff1414" stroke-width="1.7" stroke-linejoin="round"/>
<path d="M1122.9,545L1115.5,550.7L1105.1,554.2L1092.5,555L1078.9,553.2L1065.7,548.7L1054,542.2L1043.9,534.5L1037.2,525.7L1035.5,516.8L1037.7,508.8L1043.3,502.2L1052.2,497.5L1063.6,495L1076.8,495.5L1090.4,498.8L1103.3,504.1L1114.2,511.4L1121.6,520L1126,528.8L1126.7,537.5Z" fill="none" stroke="#ff1414" stroke-width="1.7" stroke-linejoin="round"/>
<path d="M1121.4,538.2L1116.6,545L1107.3,549.3L1095.9,551.3L1082.9,550L1070,546.5L1057.8,540.9L1048.9,533.1L1043.4,524.6L1042.1,516.2L1045.5,508.9L1052,502.9L1062.5,499.9L1074.9,499.5L1088.1,501.2L1100.7,506.3L1111.1,513.3L1118.5,521.5L1121.5,530Z" fill="none" stroke="#ff1414" stroke-width="1.7" stroke-linejoin="round"/>
<path d="M1116.3,536.4L1111,542.6L1102.1,546.6L1090.4,547.6L1077.6,545.6L1065.8,540.7L1056.4,533.9L1049.9,526L1048.4,517.9L1051.7,510.9L1059.1,505.8L1069.7,503.3L1082.1,503.9L1094.5,507.4L1105.7,513L1113.7,520.6L1117.1,528.8Z" fill="none" stroke="#ff1414" stroke-width="1.7" stroke-linejoin="round"/>
<path d="M1109.2,538.7L1101.9,543L1091.6,544.4L1080,543L1069.2,538.8L1060.6,532.7L1055.4,525.5L1054.6,518.3L1057.8,512L1065.6,508L1076.1,506.9L1087.5,508.4L1098.6,512L1107.5,518.1L1112.2,525.5L1112.8,532.6Z" fill="none" stroke="#ff1414" stroke-width="1.7" stroke-linejoin="round"/>
<path d="M1106.2,536.2L1099.9,539.6L1091.6,541L1082.1,540.4L1073.2,536.8L1065.4,532.2L1061.1,526.2L1060.2,520.3L1063.3,515.3L1069.1,511.6L1077.4,509.9L1087,511.2L1096.2,514.2L1103.1,519.3L1108.2,525L1109.3,531.1Z" fill="none" stroke="#ff1414" stroke-width="1.7" stroke-linejoin="round"/>
<path d="M1103.3,533.3L1098.7,536.4L1092.3,537.8L1084.8,537.5L1077.5,535.3L1071.1,531.9L1067.1,527.3L1066,522.5L1067.8,518.4L1071.9,515.2L1078.4,513.6L1085.9,514L1093.3,516.1L1099.3,519.8L1103.5,524.3L1104.8,529Z" fill="none" stroke="#ff1414" stroke-width="1.7" stroke-linejoin="round"/>
<path d="M1098.1,528.9L1096.3,531.2L1093.2,532.9L1088.9,533.3L1084.3,532.6L1080,531L1076.6,528.7L1074.9,525.8L1075,523.1L1076.7,520.8L1079.8,519.2L1084.1,518.6L1088.7,519.3L1092.9,521L1096.3,523.4L1098.2,526.2Z" fill="none" stroke="#ff1414" stroke-width="1.7" stroke-linejoin="round"/>
<path d="M917.3,385.4H1186.5M917.3,638.3H1186.5M925.3,377.4V646.3M1178.5,377.4V646.3M925.3,381.2V385.4M925.3,638.3V642.5M941.1,381.2V385.4M941.1,638.3V642.5M957,381.2V385.4M957,638.3V642.5M972.8,381.2V385.4M972.8,638.3V642.5M988.6,381.2V385.4M988.6,638.3V642.5M1004.4,381.2V385.4M1004.4,638.3V642.5M1020.3,381.2V385.4M1020.3,638.3V642.5M1036.1,381.2V385.4M1036.1,638.3V642.5M1051.9,381.2V385.4M1051.9,638.3V642.5M1067.7,381.2V385.4M1067.7,638.3V642.5M1083.6,381.2V385.4M1083.6,638.3V642.5M1099.4,381.2V385.4M1099.4,638.3V642.5M1115.2,381.2V385.4M1115.2,638.3V642.5M1131,381.2V385.4M1131,638.3V642.5M1146.9,381.2V385.4M1146.9,638.3V642.5M1162.7,381.2V385.4M1162.7,638.3V642.5M1178.5,381.2V385.4M1178.5,638.3V642.5M925.3,377.4V385.4M925.3,638.3V646.3M988.6,377.4V385.4M988.6,638.3V646.3M1051.9,377.4V385.4M1051.9,638.3V646.3M1115.2,377.4V385.4M1115.2,638.3V646.3M1178.5,377.4V385.4M1178.5,638.3V646.3M921.1,638.2H925.3M1178.5,638.2H1182.7M921.1,631.9H925.3M1178.5,631.9H1182.7M921.1,625.6H925.3M1178.5,625.6H1182.7M921.1,619.3H925.3M1178.5,619.3H1182.7M921.1,613H925.3M1178.5,613H1182.7M921.1,606.7H925.3M1178.5,606.7H1182.7M921.1,600.3H925.3M1178.5,600.3H1182.7M921.1,594H925.3M1178.5,594H1182.7M921.1,587.7H925.3M1178.5,587.7H1182.7M921.1,581.4H925.3M1178.5,581.4H1182.7M921.1,575.1H925.3M1178.5,575.1H1182.7M921.1,568.7H925.3M1178.5,568.7H1182.7M921.1,562.4H925.3M1178.5,562.4H1182.7M921.1,556.1H925.3M1178.5,556.1H1182.7M921.1,549.8H925.3M1178.5,549.8H1182.7M921.1,543.5H925.3M1178.5,543.5H1182.7M921.1,537.1H925.3M1178.5,537.1H1182.7M921.1,530.8H925.3M1178.5,530.8H1182.7M921.1,524.5H925.3M1178.5,524.5H1182.7M921.1,518.2H925.3M1178.5,518.2H1182.7M921.1,511.9H925.3M1178.5,511.9H1182.7M921.1,505.5H925.3M1178.5,505.5H1182.7M921.1,499.2H925.3M1178.5,499.2H1182.7M921.1,492.9H925.3M1178.5,492.9H1182.7M921.1,486.6H925.3M1178.5,486.6H1182.7M921.1,480.2H925.3M1178.5,480.2H1182.7M921.1,473.9H925.3M1178.5,473.9H1182.7M921.1,467.6H925.3M1178.5,467.6H1182.7M921.1,461.3H925.3M1178.5,461.3H1182.7M921.1,455H925.3M1178.5,455H1182.7M921.1,448.7H925.3M1178.5,448.7H1182.7M921.1,442.3H925.3M1178.5,442.3H1182.7M921.1,436H925.3M1178.5,436H1182.7M921.1,429.7H925.3M1178.5,429.7H1182.7M921.1,423.4H925.3M1178.5,423.4H1182.7M921.1,417.1H925.3M1178.5,417.1H1182.7M921.1,410.7H925.3M1178.5,410.7H1182.7M921.1,404.4H925.3M1178.5,404.4H1182.7M921.1,398.1H925.3M1178.5,398.1H1182.7M921.1,391.8H925.3M1178.5,391.8H1182.7M921.1,385.5H925.3M1178.5,385.5H1182.7M917.3,638.2H925.3M1178.5,638.2H1186.5M917.3,606.7H925.3M1178.5,606.7H1186.5M917.3,575.1H925.3M1178.5,575.1H1186.5M917.3,543.5H925.3M1178.5,543.5H1186.5M917.3,511.9H925.3M1178.5,511.9H1186.5M917.3,480.2H925.3M1178.5,480.2H1186.5M917.3,448.7H925.3M1178.5,448.7H1186.5M917.3,417.1H925.3M1178.5,417.1H1186.5M917.3,385.5H925.3M1178.5,385.5H1186.5" stroke="#b2b2b2" stroke-width="1" fill="none"/>
<line x1="925.3" y1="511.85" x2="1178.5" y2="511.85" stroke="#1a1a1a" stroke-width="1.1" stroke-dasharray="4.7 4.2" stroke-dashoffset="1.1"/>
<line x1="1051.9" y1="385.4" x2="1051.9" y2="638.3" stroke="#1a1a1a" stroke-width="1.1" stroke-dasharray="4.7 4.2" stroke-dashoffset="-0.4"/>
</g>
<g id="p_g">
<rect x="119.6" y="754.2" width="253.2" height="252.9" fill="#fffdd0"/>
<clipPath id="cl_g"><rect x="119.6" y="754.2" width="253.2" height="252.9"/></clipPath>
<g clip-path="url(#cl_g)" stroke-linejoin="round">
<path d="M134.8,884.4L134.8,877.3L135.1,870.2L135.6,863.1L136.4,855.9L137.5,848.7L139.1,841.4L141.1,834.2L143.6,827.1L146.7,820.1L150.4,813.4L154.7,807L159.6,801.1L165.1,795.7L171,790.9L177.5,786.8L184.3,783.5L191.4,780.9L198.6,779.1L206,778L213.4,777.7L220.7,778L227.8,779L234.8,780.4L241.6,782.3L248.2,784.5L254.6,787L260.7,789.8L266.7,792.8L272.6,796L278.3,799.4L283.9,802.9L289.4,806.7L294.7,810.7L300,815L305.1,819.7L309.9,824.6L314.6,829.9L318.9,835.6L322.8,841.7L326.4,848.1L329.4,854.9L331.9,861.9L333.7,869.2L334.9,876.7L335.4,884.3L335.2,891.9L334.3,899.4L332.7,906.8L330.4,914L327.5,920.9L324,927.4L320,933.6L315.6,939.3L310.8,944.6L305.7,949.5L300.4,954L295,958.2L289.5,962.1L283.8,965.7L278.2,969.2L272.4,972.4L266.6,975.6L260.6,978.6L254.4,981.4L248.1,984L241.5,986.4L234.8,988.5L227.7,990.1L220.5,991.1L213.2,991.6L205.7,991.3L198.3,990.3L191,988.5L183.9,985.8L177.1,982.4L170.7,978.1L164.8,973.2L159.5,967.7L154.7,961.6L150.5,955.2L147,948.4L144,941.4L141.5,934.2L139.6,927L138,919.8L136.8,912.7L136,905.5L135.4,898.5L135,891.4Z" fill="#0000d4"/>
<path d="M145.3,882.5L145.3,876.6L145.6,870.7L146.1,864.8L146.8,858.8L147.8,852.9L149.2,846.9L150.9,841L153.1,835.2L155.7,829.6L158.9,824.1L162.6,818.9L166.7,814.1L171.4,809.8L176.5,805.9L181.9,802.6L187.8,799.9L193.8,797.7L200,796.2L206.4,795.3L212.7,795L219.1,795.2L225.3,795.8L231.5,796.9L237.5,798.4L243.3,800.2L249,802.3L254.5,804.6L259.9,807.2L265.1,810L270.2,812.9L275.2,816.1L280,819.4L284.7,823L289.2,826.8L293.6,830.9L297.9,835.2L301.8,839.8L305.6,844.7L309,849.9L312,855.3L314.7,861L316.9,866.9L318.6,873L319.7,879.2L320.3,885.5L320.3,891.8L319.6,898L318.4,904.1L316.6,910.1L314.3,915.8L311.5,921.3L308.2,926.4L304.6,931.2L300.6,935.7L296.3,939.9L291.9,943.7L287.3,947.2L282.5,950.5L277.6,953.5L272.6,956.3L267.6,959L262.4,961.4L257.1,963.7L251.7,965.8L246.1,967.6L240.4,969.3L234.4,970.6L228.4,971.5L222.1,972.1L215.8,972.1L209.4,971.7L203,970.6L196.7,969L190.5,966.7L184.6,963.8L179,960.4L173.7,956.4L168.8,951.9L164.5,946.9L160.6,941.6L157.2,936.1L154.3,930.3L151.9,924.3L150,918.3L148.4,912.3L147.3,906.3L146.4,900.3L145.8,894.3L145.4,888.4Z" fill="#0038ff" stroke="#1a2a38" stroke-opacity="0.55" stroke-width="0.7"/>
<path d="M153.2,882.6L153.2,877.4L153.4,872.3L153.9,867.1L154.7,862L155.7,856.9L157.1,851.8L158.8,846.8L161,841.9L163.5,837.2L166.4,832.6L169.8,828.3L173.5,824.3L177.6,820.7L182.1,817.4L186.8,814.5L191.8,812L197.1,810.1L202.5,808.5L208,807.5L213.6,806.9L219.3,806.9L224.9,807.2L230.4,808L235.9,809.2L241.2,810.8L246.3,812.7L251.3,814.9L256,817.4L260.7,820L265.1,822.8L269.4,825.8L273.6,828.9L277.7,832.1L281.6,835.5L285.5,839.1L289.2,842.9L292.8,846.8L296.2,851L299.3,855.4L302.2,860.1L304.6,864.9L306.7,870L308.3,875.3L309.4,880.6L310,886.1L310,891.5L309.5,896.9L308.4,902.2L306.8,907.4L304.7,912.3L302.2,917L299.4,921.5L296.2,925.6L292.8,929.6L289.1,933.2L285.2,936.6L281.2,939.8L277.1,942.7L272.8,945.5L268.3,948L263.8,950.3L259.1,952.5L254.4,954.4L249.4,956.1L244.4,957.5L239.2,958.7L233.9,959.7L228.4,960.2L222.9,960.5L217.3,960.3L211.7,959.7L206,958.7L200.5,957.1L195,955.1L189.8,952.6L184.8,949.6L180,946.2L175.7,942.4L171.7,938.2L168.2,933.7L165.1,928.9L162.4,924L160.1,918.9L158.2,913.7L156.7,908.5L155.4,903.3L154.5,898.1L153.9,892.9L153.4,887.7Z" fill="#0098f4" stroke="#1a2a38" stroke-opacity="0.55" stroke-width="0.7"/>
<path d="M160.2,882.4L160.2,877.9L160.5,873.3L161,868.7L161.7,864.2L162.7,859.7L164.1,855.3L165.7,851L167.8,846.7L170.1,842.7L172.8,838.8L175.8,835.1L179.2,831.7L182.8,828.5L186.7,825.6L190.9,823L195.3,820.8L199.9,818.9L204.6,817.4L209.5,816.3L214.5,815.6L219.5,815.4L224.6,815.6L229.6,816.2L234.5,817.2L239.3,818.6L244,820.3L248.4,822.4L252.7,824.7L256.8,827.2L260.7,829.9L264.5,832.7L268.1,835.6L271.6,838.6L275.1,841.7L278.4,844.9L281.7,848.2L284.8,851.7L287.9,855.3L290.7,859.1L293.4,863.2L295.7,867.4L297.7,871.8L299.3,876.4L300.5,881.2L301.1,886L301.2,890.8L300.8,895.6L300,900.3L298.6,904.8L296.8,909.2L294.6,913.4L292.1,917.4L289.2,921.1L286.1,924.6L282.9,927.8L279.4,930.8L275.8,933.7L272,936.2L268.1,938.6L264.1,940.8L260,942.8L255.8,944.7L251.4,946.3L247,947.7L242.5,948.9L237.8,949.8L233,950.5L228.2,951L223.2,951.1L218.2,950.9L213.2,950.4L208.2,949.5L203.2,948.1L198.3,946.4L193.6,944.2L189.1,941.6L184.8,938.6L180.9,935.3L177.3,931.6L174,927.6L171.2,923.4L168.7,919.1L166.6,914.6L164.9,910L163.5,905.4L162.3,900.8L161.5,896.2L160.8,891.6L160.4,887Z" fill="#00f6ff" stroke="#1a2a38" stroke-opacity="0.55" stroke-width="0.7"/>
<path d="M166.7,882.2L166.8,878.1L167.1,874.1L167.6,870.1L168.3,866.2L169.4,862.2L170.7,858.4L172.3,854.6L174.1,851L176.3,847.5L178.7,844.1L181.4,840.9L184.4,837.9L187.6,835.1L191,832.6L194.7,830.2L198.6,828.2L202.6,826.5L206.8,825.1L211.2,824L215.7,823.3L220.2,823L224.8,823.1L229.3,823.6L233.8,824.5L238.1,825.8L242.4,827.3L246.4,829.2L250.3,831.3L254,833.6L257.5,836L260.9,838.6L264.1,841.3L267.2,844L270.2,846.8L273.1,849.7L276,852.7L278.8,855.7L281.5,858.9L284,862.3L286.4,865.8L288.6,869.5L290.5,873.4L292,877.4L293.2,881.6L293.9,885.8L294.1,890.1L293.9,894.3L293.2,898.5L292.1,902.6L290.5,906.5L288.6,910.2L286.3,913.7L283.7,917L280.9,920L277.9,922.9L274.7,925.5L271.4,927.9L268,930.1L264.4,932.2L260.8,934.1L257.1,935.9L253.3,937.4L249.4,938.9L245.5,940.1L241.4,941.2L237.2,942.1L232.9,942.7L228.5,943.1L224,943.2L219.5,942.9L215,942.4L210.5,941.5L206,940.2L201.6,938.6L197.4,936.6L193.4,934.3L189.6,931.6L186.1,928.6L182.8,925.4L179.9,921.9L177.3,918.3L175,914.5L173,910.6L171.3,906.6L170,902.5L168.8,898.5L168,894.4L167.3,890.3L166.9,886.3Z" fill="#5cffa2" stroke="#1a2a38" stroke-opacity="0.55" stroke-width="0.7"/>
<path d="M173.5,882.5L173.6,878.9L173.9,875.3L174.4,871.8L175.2,868.4L176.2,865L177.4,861.6L178.9,858.4L180.6,855.2L182.5,852.2L184.7,849.3L187.1,846.5L189.7,843.9L192.5,841.4L195.5,839.1L198.7,837.1L202.1,835.3L205.7,833.7L209.4,832.4L213.3,831.4L217.2,830.8L221.3,830.5L225.3,830.6L229.4,831L233.4,831.8L237.3,832.9L241,834.3L244.6,836L248.1,837.8L251.4,839.9L254.5,842.1L257.5,844.4L260.3,846.7L263.1,849.2L265.7,851.7L268.3,854.2L270.8,856.8L273.3,859.5L275.7,862.4L278,865.3L280.1,868.4L282,871.6L283.8,875L285.2,878.6L286.3,882.2L287,885.9L287.3,889.7L287.1,893.4L286.6,897.1L285.6,900.7L284.2,904.1L282.5,907.4L280.4,910.5L278.1,913.4L275.6,916L272.8,918.5L270,920.8L267,922.9L263.9,924.8L260.8,926.6L257.6,928.2L254.3,929.8L250.9,931.2L247.5,932.4L244,933.6L240.3,934.5L236.6,935.3L232.8,935.9L228.9,936.2L224.9,936.3L220.9,936L216.9,935.5L212.9,934.6L208.9,933.4L205.1,931.9L201.4,930.1L197.9,928L194.5,925.6L191.4,923L188.6,920.2L185.9,917.1L183.6,914L181.5,910.7L179.7,907.3L178.1,903.9L176.7,900.4L175.6,896.8L174.8,893.2L174.1,889.6L173.7,886.1Z" fill="#aeff50" stroke="#1a2a38" stroke-opacity="0.55" stroke-width="0.7"/>
<path d="M180.1,883.6L180.2,880.3L180.6,877.1L181.3,873.9L182.3,870.8L183.5,867.8L184.9,864.9L186.5,862L188.3,859.3L190.2,856.7L192.3,854.2L194.5,851.7L196.9,849.4L199.4,847.2L202,845.1L204.8,843.2L207.8,841.4L210.9,839.8L214.1,838.5L217.4,837.4L220.9,836.7L224.4,836.2L227.9,836L231.5,836.2L234.9,836.6L238.4,837.3L241.7,838.3L244.9,839.5L248,840.9L251,842.4L253.9,844.1L256.7,845.9L259.3,847.8L261.9,849.9L264.3,852L266.7,854.3L268.8,856.7L270.9,859.2L272.8,861.9L274.5,864.7L275.9,867.6L277.2,870.6L278.2,873.7L278.9,876.9L279.4,880.1L279.6,883.4L279.6,886.7L279.3,889.9L278.7,893.2L277.8,896.3L276.7,899.5L275.4,902.5L273.8,905.4L271.9,908.2L269.9,910.8L267.6,913.3L265.1,915.6L262.5,917.7L259.8,919.7L256.9,921.4L253.9,923L250.8,924.4L247.7,925.6L244.5,926.6L241.2,927.5L237.9,928.3L234.6,928.8L231.2,929.2L227.8,929.4L224.4,929.4L220.9,929.2L217.5,928.7L214.1,928L210.8,927L207.5,925.7L204.4,924.2L201.5,922.5L198.7,920.5L196.1,918.4L193.6,916L191.4,913.5L189.4,910.9L187.5,908.2L185.9,905.3L184.4,902.4L183.1,899.4L182,896.3L181.2,893.2L180.6,890L180.2,886.8Z" fill="#fff200" stroke="#1a2a38" stroke-opacity="0.55" stroke-width="0.7"/>
<path d="M186,883.2L186.1,880.4L186.5,877.6L187,874.9L187.8,872.2L188.7,869.5L189.8,866.9L191.1,864.4L192.6,862L194.2,859.6L195.9,857.4L197.9,855.2L199.9,853.1L202.2,851.2L204.5,849.4L207.1,847.8L209.7,846.3L212.5,845.1L215.4,844L218.3,843.3L221.3,842.7L224.4,842.4L227.5,842.3L230.5,842.5L233.5,842.9L236.5,843.5L239.4,844.3L242.2,845.3L244.9,846.4L247.5,847.7L250,849L252.5,850.5L254.8,852.2L257.1,853.9L259.3,855.7L261.3,857.7L263.2,859.8L265,862L266.6,864.3L268.1,866.7L269.4,869.2L270.5,871.8L271.3,874.5L272,877.3L272.4,880.1L272.6,882.9L272.5,885.8L272.2,888.6L271.7,891.4L270.9,894.2L269.9,896.8L268.7,899.4L267.2,901.9L265.6,904.3L263.8,906.6L261.8,908.7L259.7,910.7L257.4,912.5L255,914.2L252.5,915.8L250,917.2L247.3,918.4L244.6,919.5L241.9,920.5L239,921.4L236.2,922.1L233.2,922.6L230.3,923L227.3,923.1L224.2,923.1L221.2,922.9L218.2,922.5L215.2,921.8L212.3,920.9L209.5,919.8L206.8,918.5L204.2,916.9L201.8,915.2L199.5,913.4L197.4,911.3L195.5,909.2L193.7,906.9L192.1,904.5L190.7,902L189.4,899.5L188.4,896.9L187.5,894.2L186.8,891.5L186.3,888.7L186.1,885.9Z" fill="#ff9400" stroke="#1a2a38" stroke-opacity="0.55" stroke-width="0.7"/>
<path d="M191.9,882.6L192,880.2L192.2,877.9L192.7,875.6L193.2,873.3L194,871.1L194.9,868.9L196,866.7L197.2,864.6L198.5,862.6L200,860.7L201.6,858.8L203.4,857.1L205.3,855.5L207.3,854L209.5,852.6L211.8,851.5L214.2,850.5L216.7,849.8L219.3,849.2L221.8,848.9L224.4,848.8L227,848.9L229.6,849.1L232.1,849.5L234.5,850.1L237,850.7L239.3,851.5L241.6,852.4L243.9,853.3L246.1,854.4L248.3,855.5L250.4,856.7L252.4,858.1L254.4,859.6L256.2,861.2L258,862.9L259.6,864.8L261,866.7L262.3,868.8L263.3,871L264.2,873.3L264.9,875.6L265.3,878L265.6,880.3L265.6,882.7L265.5,885.1L265.1,887.5L264.6,889.8L263.9,892.1L263.1,894.3L262,896.5L260.8,898.6L259.4,900.5L257.9,902.4L256.3,904.2L254.5,905.8L252.6,907.4L250.6,908.8L248.6,910.1L246.4,911.3L244.2,912.4L242,913.4L239.6,914.3L237.2,915L234.8,915.6L232.3,916.1L229.8,916.5L227.2,916.6L224.6,916.6L222,916.4L219.4,916L216.9,915.4L214.4,914.6L212.1,913.6L209.8,912.4L207.6,911L205.6,909.5L203.7,907.9L201.9,906.1L200.3,904.3L198.8,902.4L197.5,900.4L196.3,898.3L195.2,896.2L194.2,894L193.4,891.8L192.8,889.5L192.3,887.2L192.1,884.9Z" fill="#ff3a00" stroke="#1a2a38" stroke-opacity="0.55" stroke-width="0.7"/>
<path d="M197.8,881.9L197.8,880L197.9,878.2L198.2,876.4L198.6,874.6L199.1,872.8L199.8,871L200.5,869.3L201.4,867.6L202.5,866L203.7,864.4L205,862.9L206.5,861.6L208.1,860.3L209.8,859.2L211.6,858.2L213.6,857.3L215.6,856.6L217.6,856.1L219.7,855.7L221.9,855.5L224,855.4L226.2,855.5L228.3,855.7L230.4,856.1L232.4,856.5L234.4,857.1L236.4,857.7L238.3,858.5L240.1,859.3L242,860.2L243.7,861.1L245.4,862.2L247.1,863.3L248.7,864.5L250.3,865.8L251.7,867.1L253.1,868.6L254.3,870.2L255.4,871.8L256.4,873.5L257.2,875.3L257.9,877.1L258.3,879L258.6,880.9L258.7,882.8L258.6,884.7L258.4,886.6L257.9,888.5L257.3,890.3L256.5,892L255.6,893.7L254.6,895.3L253.5,896.8L252.2,898.3L250.9,899.6L249.4,900.9L247.9,902.1L246.3,903.3L244.7,904.3L242.9,905.3L241.2,906.1L239.3,906.9L237.4,907.6L235.4,908.2L233.4,908.6L231.3,908.9L229.2,909.2L227.1,909.2L225,909.2L222.8,909L220.7,908.6L218.6,908.1L216.6,907.5L214.6,906.7L212.6,905.8L210.8,904.7L209,903.5L207.4,902.3L205.9,900.9L204.5,899.4L203.2,897.8L202.1,896.2L201.1,894.5L200.2,892.8L199.5,891L198.9,889.2L198.4,887.4L198.1,885.6L197.9,883.7Z" fill="#d80000" stroke="#1a2a38" stroke-opacity="0.55" stroke-width="0.7"/>
<path d="M206.6,882.1L206.5,880.9L206.6,879.6L206.8,878.4L207,877.2L207.4,876L207.8,874.8L208.4,873.7L209,872.5L209.8,871.5L210.6,870.4L211.6,869.4L212.6,868.5L213.7,867.7L215,867L216.3,866.3L217.6,865.8L219,865.3L220.4,865L221.9,864.7L223.4,864.6L224.9,864.5L226.3,864.6L227.8,864.7L229.2,864.9L230.6,865.2L232,865.5L233.4,865.9L234.7,866.4L236,866.9L237.2,867.5L238.5,868.1L239.6,868.8L240.8,869.5L241.8,870.3L242.9,871.2L243.9,872.1L244.8,873.1L245.6,874.1L246.3,875.2L247,876.3L247.6,877.5L248,878.7L248.3,879.9L248.5,881.1L248.6,882.4L248.5,883.6L248.4,884.9L248.1,886.1L247.6,887.3L247.1,888.5L246.5,889.6L245.8,890.7L245,891.7L244.1,892.6L243.1,893.6L242.1,894.4L241.1,895.2L240,895.9L238.8,896.6L237.6,897.3L236.3,897.8L235.1,898.3L233.7,898.8L232.4,899.2L231,899.5L229.6,899.7L228.1,899.9L226.7,900L225.2,899.9L223.7,899.8L222.2,899.6L220.8,899.3L219.4,898.9L218,898.4L216.7,897.8L215.4,897.1L214.2,896.3L213.1,895.5L212.1,894.5L211.1,893.6L210.3,892.5L209.5,891.5L208.9,890.4L208.3,889.2L207.8,888.1L207.4,886.9L207,885.7L206.8,884.5L206.6,883.3Z" fill="#800000" stroke="#1a2a38" stroke-opacity="0.55" stroke-width="0.7"/>
</g>
<rect x="119.6" y="754.2" width="253.2" height="252.9" fill="none" stroke="#c4c4a4" stroke-width="1"/>
<path d="M132.4,750V754.2M132.4,1007.1V1011.3M152.5,750V754.2M152.5,1007.1V1011.3M171.3,750V754.2M171.3,1007.1V1011.3M188.9,750V754.2M188.9,1007.1V1011.3M205.6,750V754.2M205.6,1007.1V1011.3M221.4,750V754.2M221.4,1007.1V1011.3M236.3,750V754.2M236.3,1007.1V1011.3M250.5,750V754.2M250.5,1007.1V1011.3M264.1,750V754.2M264.1,1007.1V1011.3M277,750V754.2M277,1007.1V1011.3M289.4,750V754.2M289.4,1007.1V1011.3M301.3,750V754.2M301.3,1007.1V1011.3M312.8,750V754.2M312.8,1007.1V1011.3M323.8,750V754.2M323.8,1007.1V1011.3M334.3,750V754.2M334.3,1007.1V1011.3M344.6,750V754.2M344.6,1007.1V1011.3M354.5,750V754.2M354.5,1007.1V1011.3M364,750V754.2M364,1007.1V1011.3M171.3,746.2V754.2M171.3,1007.1V1015.1M236.3,746.2V754.2M236.3,1007.1V1015.1M289.4,746.2V754.2M289.4,1007.1V1015.1M334.3,746.2V754.2M334.3,1007.1V1015.1M115.4,1007.1H119.6M372.8,1007.1H377M115.4,1000.8H119.6M372.8,1000.8H377M115.4,994.5H119.6M372.8,994.5H377M115.4,988.1H119.6M372.8,988.1H377M115.4,981.8H119.6M372.8,981.8H377M115.4,975.5H119.6M372.8,975.5H377M115.4,969.2H119.6M372.8,969.2H377M115.4,962.8H119.6M372.8,962.8H377M115.4,956.5H119.6M372.8,956.5H377M115.4,950.2H119.6M372.8,950.2H377M115.4,943.9H119.6M372.8,943.9H377M115.4,937.6H119.6M372.8,937.6H377M115.4,931.2H119.6M372.8,931.2H377M115.4,924.9H119.6M372.8,924.9H377M115.4,918.6H119.6M372.8,918.6H377M115.4,912.3H119.6M372.8,912.3H377M115.4,905.9H119.6M372.8,905.9H377M115.4,899.6H119.6M372.8,899.6H377M115.4,893.3H119.6M372.8,893.3H377M115.4,887H119.6M372.8,887H377M115.4,880.6H119.6M372.8,880.6H377M115.4,874.3H119.6M372.8,874.3H377M115.4,868H119.6M372.8,868H377M115.4,861.7H119.6M372.8,861.7H377M115.4,855.4H119.6M372.8,855.4H377M115.4,849H119.6M372.8,849H377M115.4,842.7H119.6M372.8,842.7H377M115.4,836.4H119.6M372.8,836.4H377M115.4,830.1H119.6M372.8,830.1H377M115.4,823.7H119.6M372.8,823.7H377M115.4,817.4H119.6M372.8,817.4H377M115.4,811.1H119.6M372.8,811.1H377M115.4,804.8H119.6M372.8,804.8H377M115.4,798.5H119.6M372.8,798.5H377M115.4,792.1H119.6M372.8,792.1H377M115.4,785.8H119.6M372.8,785.8H377M115.4,779.5H119.6M372.8,779.5H377M115.4,773.2H119.6M372.8,773.2H377M115.4,766.8H119.6M372.8,766.8H377M115.4,760.5H119.6M372.8,760.5H377M115.4,754.2H119.6M372.8,754.2H377M111.6,1007.1H119.6M372.8,1007.1H380.8M111.6,975.5H119.6M372.8,975.5H380.8M111.6,943.9H119.6M372.8,943.9H380.8M111.6,912.3H119.6M372.8,912.3H380.8M111.6,880.6H119.6M372.8,880.6H380.8M111.6,849H119.6M372.8,849H380.8M111.6,817.4H119.6M372.8,817.4H380.8M111.6,785.8H119.6M372.8,785.8H380.8M111.6,754.2H119.6M372.8,754.2H380.8" stroke="#a6a6a6" stroke-width="0.9" fill="none"/>
</g>
<g id="p_h">
<rect x="519.6" y="754.2" width="253.2" height="252.9" fill="#fffdd0"/>
<clipPath id="cl_h"><rect x="519.6" y="754.2" width="253.2" height="252.9"/></clipPath>
<g clip-path="url(#cl_h)" stroke-linejoin="round">
<path d="M534.5,879.8L534.7,872.6L535.1,865.5L535.8,858.3L536.9,851.2L538.3,844.1L540.2,837.1L542.4,830.2L545.1,823.3L548.3,816.7L551.9,810.2L556,804.1L560.7,798.3L565.8,792.9L571.4,788.1L577.4,783.8L583.8,780.2L590.6,777.2L597.6,775.1L604.7,773.6L612,773L619.3,773.1L626.4,773.9L633.5,775.3L640.4,777.2L647,779.6L653.5,782.5L659.7,785.6L665.6,788.9L671.4,792.5L677.1,796.2L682.6,800.1L688,804.1L693.3,808.3L698.5,812.8L703.6,817.5L708.5,822.6L713.2,828L717.5,833.7L721.5,839.9L725.1,846.4L728.2,853.2L730.7,860.3L732.6,867.7L733.8,875.2L734.4,882.8L734.3,890.4L733.6,897.9L732.2,905.3L730.2,912.5L727.6,919.5L724.5,926.1L720.9,932.4L716.8,938.4L712.4,943.9L707.6,949.1L702.5,953.8L697.2,958.2L691.7,962.1L686.1,965.8L680.3,969.1L674.4,972.2L668.4,975L662.3,977.6L656.1,979.9L649.7,982L643.2,983.9L636.4,985.4L629.5,986.5L622.5,987.2L615.3,987.3L608,986.9L600.8,985.7L593.6,983.8L586.6,981.2L579.8,977.8L573.3,973.7L567.3,968.9L561.8,963.5L556.9,957.5L552.4,951.1L548.6,944.4L545.3,937.5L542.5,930.3L540.3,923.1L538.4,915.9L537,908.6L535.9,901.4L535.2,894.1L534.7,886.9Z" fill="#0000d4"/>
<path d="M545,880.2L545.1,874.3L545.4,868.5L546.1,862.7L547,856.9L548.2,851.1L549.7,845.4L551.6,839.8L553.9,834.2L556.5,828.8L559.6,823.6L563.1,818.6L567,813.9L571.3,809.5L576.1,805.6L581.3,802.1L586.8,799.2L592.6,796.9L598.6,795.1L604.8,794L611,793.5L617.3,793.6L623.6,794.3L629.7,795.5L635.7,797.2L641.5,799.3L647.2,801.7L652.6,804.4L657.8,807.3L662.8,810.3L667.7,813.5L672.4,816.9L677,820.4L681.5,824L686,827.7L690.3,831.7L694.6,835.9L698.7,840.3L702.5,845L706.2,850L709.5,855.3L712.4,860.8L714.8,866.6L716.7,872.6L718,878.8L718.7,885L718.7,891.3L718.1,897.5L716.8,903.5L715,909.3L712.5,914.9L709.6,920.2L706.3,925.1L702.6,929.7L698.6,934L694.5,937.9L690.1,941.6L685.6,945L681.1,948.1L676.4,951.1L671.7,954L666.9,956.7L661.9,959.2L656.8,961.6L651.5,963.8L646.1,965.8L640.4,967.4L634.6,968.7L628.5,969.6L622.4,970L616.1,969.9L609.8,969.2L603.6,967.9L597.4,966L591.4,963.6L585.6,960.5L580.1,956.9L575,952.8L570.3,948.3L566,943.5L562.1,938.3L558.6,932.8L555.6,927.2L553,921.5L550.8,915.6L549,909.7L547.6,903.8L546.5,897.9L545.7,892L545.2,886.1Z" fill="#0038ff" stroke="#1a2a38" stroke-opacity="0.55" stroke-width="0.7"/>
<path d="M552.8,880.7L552.8,875.6L553.1,870.5L553.7,865.5L554.6,860.4L555.7,855.5L557.3,850.6L559.1,845.8L561.2,841.2L563.7,836.6L566.6,832.3L569.7,828.1L573.2,824.2L577.1,820.6L581.3,817.3L585.8,814.3L590.6,811.8L595.6,809.7L600.8,808L606.2,806.9L611.7,806.3L617.3,806.2L622.8,806.6L628.3,807.5L633.7,808.8L638.9,810.5L644,812.6L648.8,815L653.5,817.7L657.9,820.5L662.2,823.5L666.3,826.5L670.3,829.7L674.3,833L678.1,836.4L681.8,839.8L685.5,843.5L689.1,847.3L692.6,851.3L695.9,855.6L698.9,860.1L701.6,864.9L703.8,869.8L705.6,875L706.9,880.3L707.6,885.7L707.7,891.1L707.2,896.4L706.1,901.6L704.4,906.7L702.2,911.4L699.6,915.9L696.6,920.1L693.4,924.1L689.9,927.7L686.2,931.1L682.4,934.3L678.5,937.3L674.6,940.1L670.5,942.8L666.4,945.4L662.1,947.8L657.8,950.1L653.2,952.2L648.5,954.1L643.6,955.8L638.5,957.1L633.3,958.1L627.9,958.7L622.4,958.9L616.9,958.5L611.3,957.7L605.8,956.4L600.4,954.6L595.2,952.3L590.2,949.6L585.4,946.4L580.9,942.9L576.7,939L572.9,934.8L569.4,930.4L566.3,925.8L563.5,921.1L561,916.2L558.9,911.3L557.1,906.2L555.7,901.2L554.5,896.1L553.7,890.9L553.1,885.8Z" fill="#0098f4" stroke="#1a2a38" stroke-opacity="0.55" stroke-width="0.7"/>
<path d="M559.9,881.2L559.9,876.7L560.1,872.3L560.6,867.8L561.4,863.4L562.4,859L563.7,854.8L565.3,850.5L567.3,846.5L569.5,842.5L572.1,838.7L575,835.1L578.1,831.7L581.6,828.6L585.4,825.7L589.4,823.2L593.6,821L598.1,819.2L602.8,817.7L607.6,816.7L612.5,816.1L617.4,816L622.4,816.3L627.3,817L632.2,818.2L636.9,819.7L641.4,821.6L645.8,823.7L650,826.1L653.9,828.6L657.7,831.4L661.4,834.2L664.9,837.1L668.3,840L671.7,843L675,846.1L678.3,849.3L681.4,852.7L684.5,856.2L687.5,859.9L690.3,863.8L692.7,868L694.9,872.3L696.6,876.8L697.9,881.5L698.6,886.2L698.8,891L698.4,895.7L697.5,900.3L696.1,904.7L694.2,908.9L691.9,912.9L689.2,916.6L686.3,920.1L683.2,923.3L679.9,926.3L676.5,929.1L673,931.7L669.5,934.2L665.9,936.6L662.1,938.9L658.3,941L654.4,943L650.3,944.8L646,946.5L641.6,947.8L637,949L632.3,949.8L627.5,950.2L622.6,950.3L617.6,949.9L612.7,949.1L607.7,947.9L602.9,946.3L598.2,944.3L593.7,941.8L589.4,939.1L585.3,936L581.6,932.6L578.1,928.9L574.9,925L572.1,921L569.6,916.8L567.4,912.5L565.5,908.1L563.9,903.7L562.6,899.2L561.5,894.7L560.7,890.2L560.2,885.7Z" fill="#00f6ff" stroke="#1a2a38" stroke-opacity="0.55" stroke-width="0.7"/>
<path d="M566.6,881.3L566.6,877.3L566.7,873.3L567.2,869.4L567.9,865.5L568.8,861.7L570,857.9L571.5,854.2L573.2,850.7L575.2,847.2L577.5,843.9L580.1,840.7L582.9,837.8L586,835.1L589.4,832.6L593,830.4L596.8,828.5L600.8,826.9L605,825.7L609.3,824.9L613.6,824.4L618.1,824.3L622.5,824.5L626.9,825.2L631.3,826.2L635.5,827.5L639.6,829.1L643.6,831L647.4,833L651,835.3L654.4,837.7L657.8,840.2L660.9,842.8L664,845.5L667,848.2L670,851L672.9,853.9L675.7,856.9L678.5,860L681.1,863.3L683.6,866.8L685.9,870.5L687.8,874.3L689.4,878.3L690.7,882.4L691.4,886.6L691.6,890.8L691.3,894.9L690.5,899L689.2,902.9L687.5,906.6L685.4,910L683,913.3L680.3,916.3L677.5,919L674.5,921.6L671.5,924L668.4,926.3L665.2,928.4L662,930.5L658.7,932.5L655.4,934.4L651.9,936.3L648.3,938L644.5,939.5L640.6,940.8L636.5,941.8L632.2,942.5L627.9,942.9L623.5,942.8L619,942.4L614.5,941.6L610.1,940.4L605.8,938.8L601.7,936.8L597.7,934.6L593.9,932L590.4,929.2L587,926.2L584,923L581.1,919.6L578.5,916.1L576.2,912.5L574.1,908.7L572.3,904.9L570.7,901.1L569.4,897.2L568.3,893.2L567.5,889.2L566.9,885.3Z" fill="#5cffa2" stroke="#1a2a38" stroke-opacity="0.55" stroke-width="0.7"/>
<path d="M573.2,881.5L573.1,878L573.3,874.5L573.7,871.1L574.4,867.7L575.3,864.4L576.4,861.1L577.8,857.9L579.4,854.8L581.2,851.8L583.2,848.9L585.5,846.1L588,843.5L590.7,841.1L593.6,838.9L596.8,836.9L600.1,835.2L603.7,833.8L607.4,832.7L611.2,832L615.1,831.6L619.1,831.6L623.1,831.9L627,832.6L630.8,833.5L634.6,834.8L638.2,836.2L641.7,837.9L645,839.7L648.2,841.7L651.3,843.7L654.2,845.9L657.1,848.1L659.9,850.4L662.6,852.7L665.3,855.1L667.9,857.6L670.5,860.2L672.9,863L675.3,865.9L677.5,869L679.5,872.2L681.2,875.6L682.7,879.1L683.7,882.7L684.4,886.3L684.6,890L684.3,893.7L683.6,897.2L682.5,900.6L680.9,903.9L679,906.9L676.9,909.7L674.5,912.3L671.9,914.7L669.3,917L666.5,919L663.8,921L661,922.9L658.2,924.7L655.3,926.5L652.3,928.2L649.3,929.9L646.1,931.5L642.8,932.9L639.3,934.1L635.6,935.1L631.8,935.8L627.9,936.1L624,936L620,935.6L616,934.7L612.1,933.5L608.3,932L604.7,930.1L601.3,927.9L598.1,925.6L595.1,923L592.2,920.3L589.6,917.5L587.1,914.6L584.8,911.6L582.7,908.5L580.8,905.3L579,902.1L577.5,898.8L576.1,895.4L575,892L574.1,888.5L573.5,885Z" fill="#aeff50" stroke="#1a2a38" stroke-opacity="0.55" stroke-width="0.7"/>
<path d="M579.5,882.8L579.6,879.7L580,876.7L580.6,873.7L581.5,870.7L582.6,867.8L583.8,865L585.2,862.3L586.8,859.7L588.6,857.1L590.5,854.6L592.6,852.3L594.8,850L597.2,847.9L599.8,845.9L602.6,844.1L605.5,842.5L608.6,841.1L611.8,840L615.2,839.2L618.6,838.7L622.1,838.4L625.5,838.4L629,838.7L632.4,839.2L635.8,840L639.1,841L642.3,842.2L645.4,843.5L648.4,845L651.3,846.6L654.1,848.3L656.8,850.2L659.4,852.2L661.9,854.3L664.3,856.6L666.5,859L668.5,861.4L670.4,864.1L672.2,866.8L673.7,869.6L675,872.5L676.1,875.5L677,878.6L677.6,881.7L678,884.9L678,888L677.8,891.2L677.3,894.3L676.5,897.4L675.4,900.3L674,903.2L672.4,905.9L670.5,908.5L668.4,910.9L666.1,913.1L663.7,915.2L661.2,917.1L658.5,918.9L655.8,920.5L653,922L650.1,923.4L647.1,924.7L644.1,925.8L640.9,926.8L637.7,927.6L634.4,928.3L631,928.7L627.6,928.9L624.1,928.8L620.7,928.5L617.2,927.9L613.8,927L610.5,925.8L607.3,924.3L604.3,922.7L601.4,920.8L598.7,918.8L596.1,916.6L593.7,914.2L591.4,911.8L589.4,909.3L587.4,906.6L585.7,903.9L584.1,901L582.8,898.1L581.6,895.2L580.7,892.1L580,889.1L579.6,886Z" fill="#fff200" stroke="#1a2a38" stroke-opacity="0.55" stroke-width="0.7"/>
<path d="M585.4,883L585.4,880.3L585.7,877.7L586.2,875L586.8,872.5L587.6,869.9L588.6,867.5L589.8,865.1L591.1,862.7L592.6,860.4L594.2,858.2L596,856.1L598,854.1L600.1,852.3L602.4,850.6L604.9,849.1L607.5,847.8L610.3,846.7L613.2,845.9L616.1,845.3L619.1,845L622.1,844.9L625.1,845.1L628.1,845.4L631,846L633.9,846.7L636.7,847.5L639.5,848.5L642.1,849.6L644.7,850.8L647.3,852.1L649.8,853.5L652.2,855L654.5,856.6L656.7,858.4L658.9,860.3L660.9,862.3L662.8,864.4L664.5,866.7L666,869L667.4,871.5L668.5,874L669.5,876.7L670.1,879.4L670.6,882.1L670.8,884.8L670.8,887.6L670.5,890.3L669.9,892.9L669.2,895.5L668.1,898.1L666.9,900.5L665.5,902.8L663.8,905L662,907L660.1,908.9L658.1,910.7L655.9,912.4L653.7,914L651.3,915.4L648.9,916.8L646.5,918L643.9,919.1L641.3,920.1L638.6,921L635.8,921.7L632.9,922.3L629.9,922.6L627,922.8L624,922.7L620.9,922.4L618,921.8L615,921L612.2,920L609.4,918.8L606.8,917.3L604.3,915.7L601.9,913.9L599.7,912L597.6,910L595.7,907.9L593.9,905.7L592.2,903.4L590.7,901L589.4,898.6L588.2,896.1L587.3,893.5L586.5,890.9L585.9,888.3L585.5,885.6Z" fill="#ff9400" stroke="#1a2a38" stroke-opacity="0.55" stroke-width="0.7"/>
<path d="M591.5,883.5L591.5,881.3L591.7,879.1L592.1,877L592.6,874.8L593.3,872.7L594.1,870.6L595,868.6L596.1,866.5L597.3,864.6L598.6,862.7L600.2,860.9L601.9,859.2L603.7,857.6L605.7,856.2L607.9,854.9L610.2,853.9L612.6,853L615.1,852.4L617.6,851.9L620.2,851.7L622.8,851.7L625.3,851.9L627.8,852.3L630.3,852.8L632.7,853.4L635,854.1L637.3,854.9L639.6,855.8L641.7,856.8L643.9,857.8L646,858.9L648,860.1L650,861.3L652,862.7L653.9,864.2L655.6,865.8L657.3,867.5L658.8,869.4L660.1,871.3L661.3,873.4L662.2,875.5L663,877.7L663.5,879.9L663.9,882.2L664,884.5L663.8,886.8L663.5,889L663,891.3L662.3,893.4L661.3,895.5L660.3,897.5L659,899.4L657.6,901.2L656.1,902.9L654.5,904.6L652.7,906.1L650.9,907.5L649,908.8L647,910L645,911.2L642.9,912.2L640.7,913.2L638.4,914L636.1,914.7L633.7,915.3L631.3,915.8L628.8,916.1L626.3,916.3L623.7,916.2L621.2,916L618.6,915.6L616.1,915L613.7,914.2L611.3,913.2L609.1,912.1L606.9,910.8L604.9,909.3L603,907.8L601.2,906.1L599.6,904.3L598.1,902.5L596.8,900.5L595.6,898.6L594.5,896.5L593.6,894.4L592.8,892.3L592.3,890.1L591.8,887.9L591.6,885.7Z" fill="#ff3a00" stroke="#1a2a38" stroke-opacity="0.55" stroke-width="0.7"/>
<path d="M597.9,883.4L597.8,881.6L597.9,879.9L598,878.1L598.3,876.3L598.8,874.6L599.3,872.9L600.1,871.2L601,869.6L602,868L603.2,866.5L604.6,865.2L606,863.9L607.6,862.7L609.4,861.7L611.2,860.8L613.1,860.1L615,859.5L617,859.1L619.1,858.7L621.1,858.6L623.2,858.6L625.2,858.7L627.3,858.9L629.3,859.2L631.2,859.6L633.1,860.1L635,860.7L636.9,861.3L638.7,862.1L640.5,862.9L642.2,863.8L643.9,864.7L645.5,865.8L647.1,866.9L648.6,868.1L650,869.5L651.4,870.9L652.6,872.4L653.7,873.9L654.6,875.6L655.4,877.3L656,879L656.4,880.8L656.7,882.7L656.7,884.5L656.6,886.3L656.3,888.1L655.8,889.8L655.2,891.5L654.4,893.1L653.5,894.7L652.5,896.2L651.3,897.6L650.1,898.9L648.9,900.2L647.5,901.4L646.1,902.6L644.6,903.7L643.1,904.7L641.5,905.6L639.8,906.5L638,907.3L636.2,908L634.3,908.6L632.4,909.1L630.4,909.5L628.4,909.7L626.3,909.8L624.2,909.7L622.2,909.5L620.1,909.1L618.1,908.6L616.1,907.9L614.2,907.1L612.4,906.1L610.7,905.1L609,903.9L607.5,902.6L606.1,901.3L604.8,899.8L603.7,898.3L602.6,896.8L601.6,895.2L600.8,893.6L600.1,892L599.4,890.3L598.9,888.6L598.5,886.9L598.1,885.1Z" fill="#d80000" stroke="#1a2a38" stroke-opacity="0.55" stroke-width="0.7"/>
<path d="M605.8,883.5L605.7,882.3L605.6,881.1L605.6,879.9L605.7,878.7L605.9,877.4L606.3,876.2L606.7,875L607.4,873.8L608.1,872.7L609,871.7L610,870.8L611.1,869.9L612.4,869.1L613.7,868.5L615,868L616.5,867.6L617.9,867.2L619.4,867L620.8,866.9L622.3,866.9L623.7,867L625.1,867.1L626.5,867.3L627.9,867.5L629.2,867.8L630.5,868.1L631.8,868.4L633,868.8L634.3,869.2L635.6,869.7L636.8,870.2L638,870.8L639.2,871.4L640.4,872.1L641.5,872.9L642.5,873.8L643.5,874.7L644.3,875.7L645.1,876.7L645.8,877.9L646.3,879L646.6,880.2L646.9,881.5L647,882.7L646.9,883.9L646.8,885.1L646.5,886.3L646,887.5L645.5,888.6L644.9,889.7L644.3,890.7L643.5,891.7L642.8,892.6L641.9,893.5L641.1,894.4L640.1,895.2L639.2,896L638.2,896.8L637.2,897.5L636.1,898.2L634.9,898.9L633.7,899.5L632.5,900L631.2,900.5L629.8,900.9L628.4,901.2L626.9,901.4L625.5,901.5L624,901.5L622.5,901.3L621,901.1L619.6,900.7L618.2,900.2L616.9,899.6L615.6,898.9L614.5,898.1L613.4,897.3L612.4,896.4L611.5,895.4L610.7,894.4L609.9,893.4L609.3,892.4L608.6,891.3L608.1,890.3L607.6,889.2L607.1,888.1L606.7,887L606.4,885.8L606.1,884.7Z" fill="#800000" stroke="#1a2a38" stroke-opacity="0.55" stroke-width="0.7"/>
</g>
<rect x="519.6" y="754.2" width="253.2" height="252.9" fill="none" stroke="#c4c4a4" stroke-width="1"/>
<path d="M532.4,750V754.2M532.4,1007.1V1011.3M552.5,750V754.2M552.5,1007.1V1011.3M571.3,750V754.2M571.3,1007.1V1011.3M588.9,750V754.2M588.9,1007.1V1011.3M605.6,750V754.2M605.6,1007.1V1011.3M621.4,750V754.2M621.4,1007.1V1011.3M636.3,750V754.2M636.3,1007.1V1011.3M650.5,750V754.2M650.5,1007.1V1011.3M664.1,750V754.2M664.1,1007.1V1011.3M677,750V754.2M677,1007.1V1011.3M689.4,750V754.2M689.4,1007.1V1011.3M701.3,750V754.2M701.3,1007.1V1011.3M712.8,750V754.2M712.8,1007.1V1011.3M723.8,750V754.2M723.8,1007.1V1011.3M734.3,750V754.2M734.3,1007.1V1011.3M744.6,750V754.2M744.6,1007.1V1011.3M754.5,750V754.2M754.5,1007.1V1011.3M764,750V754.2M764,1007.1V1011.3M571.3,746.2V754.2M571.3,1007.1V1015.1M636.3,746.2V754.2M636.3,1007.1V1015.1M689.4,746.2V754.2M689.4,1007.1V1015.1M734.3,746.2V754.2M734.3,1007.1V1015.1M515.4,1007.1H519.6M772.8,1007.1H777M515.4,1000.8H519.6M772.8,1000.8H777M515.4,994.5H519.6M772.8,994.5H777M515.4,988.1H519.6M772.8,988.1H777M515.4,981.8H519.6M772.8,981.8H777M515.4,975.5H519.6M772.8,975.5H777M515.4,969.2H519.6M772.8,969.2H777M515.4,962.8H519.6M772.8,962.8H777M515.4,956.5H519.6M772.8,956.5H777M515.4,950.2H519.6M772.8,950.2H777M515.4,943.9H519.6M772.8,943.9H777M515.4,937.6H519.6M772.8,937.6H777M515.4,931.2H519.6M772.8,931.2H777M515.4,924.9H519.6M772.8,924.9H777M515.4,918.6H519.6M772.8,918.6H777M515.4,912.3H519.6M772.8,912.3H777M515.4,905.9H519.6M772.8,905.9H777M515.4,899.6H519.6M772.8,899.6H777M515.4,893.3H519.6M772.8,893.3H777M515.4,887H519.6M772.8,887H777M515.4,880.6H519.6M772.8,880.6H777M515.4,874.3H519.6M772.8,874.3H777M515.4,868H519.6M772.8,868H777M515.4,861.7H519.6M772.8,861.7H777M515.4,855.4H519.6M772.8,855.4H777M515.4,849H519.6M772.8,849H777M515.4,842.7H519.6M772.8,842.7H777M515.4,836.4H519.6M772.8,836.4H777M515.4,830.1H519.6M772.8,830.1H777M515.4,823.7H519.6M772.8,823.7H777M515.4,817.4H519.6M772.8,817.4H777M515.4,811.1H519.6M772.8,811.1H777M515.4,804.8H519.6M772.8,804.8H777M515.4,798.5H519.6M772.8,798.5H777M515.4,792.1H519.6M772.8,792.1H777M515.4,785.8H519.6M772.8,785.8H777M515.4,779.5H519.6M772.8,779.5H777M515.4,773.2H519.6M772.8,773.2H777M515.4,766.8H519.6M772.8,766.8H777M515.4,760.5H519.6M772.8,760.5H777M515.4,754.2H519.6M772.8,754.2H777M511.6,1007.1H519.6M772.8,1007.1H780.8M511.6,975.5H519.6M772.8,975.5H780.8M511.6,943.9H519.6M772.8,943.9H780.8M511.6,912.3H519.6M772.8,912.3H780.8M511.6,880.6H519.6M772.8,880.6H780.8M511.6,849H519.6M772.8,849H780.8M511.6,817.4H519.6M772.8,817.4H780.8M511.6,785.8H519.6M772.8,785.8H780.8M511.6,754.2H519.6M772.8,754.2H780.8" stroke="#a6a6a6" stroke-width="0.9" fill="none"/>
</g>
<g id="p_i">
<path d="M1131.7,965.6L1128,968.8L1124.6,972.4L1120.9,975.8L1116.6,978.3L1111.8,980.2L1107.1,982.1L1102.4,984.1L1097.4,985.5L1092.1,986.3L1086.9,987.2L1081.8,988.5L1076.5,989.3L1070.9,989.1L1065.2,988.3L1059.5,987.6L1053.8,986.8L1048.1,985.4L1042.5,983.3L1036.8,981.5L1031.1,980L1025.4,978.1L1019.9,975.3L1014.5,972.1L1009.1,969L1003.7,965.9L998.6,962.1L993.8,957.9L988.9,954L983.7,950.2L978.8,946.1L974.5,941.4L970.5,936.4L966.4,931.5L962.6,926.5L959.4,921.1L956.6,915.5L953.6,910.1L950.4,904.8L947.6,899.2L945.6,893.6L943.8,887.9L941.9,882.2L940.4,876.5L939.7,870.8L939.4,865.3L938.7,859.6L937.8,853.9L937.4,848.3L938,842.9L938.7,837.6L939.3,832.3L940.5,827.1L942.6,822.5L945,818L947.1,813.4L949,808.7L951.5,804.3L954.6,800.5L957.8,796.7L961,792.9L964.6,789.5L968.9,786.9L973.4,784.6L977.6,782L981.7,779.1L986.2,776.9L991.1,775.2L996,773.6L1000.9,771.9L1006.1,770.9L1011.7,770.9L1017.3,771.2L1022.7,771L1028.2,770.9L1033.9,771.5L1039.6,772.7L1045.3,773.8L1051,774.9L1056.7,776.7L1062.3,779.4L1067.8,782.3L1073.4,784.7L1078.9,787.2L1084.3,790.3L1089.6,793.7L1094.9,797L1100.3,800.4L1105.2,804.4L1109.6,809.1L1113.9,813.8L1118.4,818.3L1122.9,822.9L1126.7,827.9L1130.3,833.1L1134.1,838.2L1137.9,843.3L1140.8,848.8L1143,854.5L1145.1,860.2L1147.5,865.8L1149.6,871.4L1151,877.1L1152.3,882.7L1153.9,888.4L1155.4,894.2L1155.9,899.8L1155.5,905.3L1155.2,910.7L1155.1,916.2L1154.6,921.6L1153.4,926.7L1152.1,931.7L1151.1,936.9L1149.7,942L1147.4,946.6L1144.4,950.6L1141.5,954.6L1138.7,958.7L1135.5,962.4Z" fill="none" stroke="#1c1cff" stroke-width="1.4" stroke-linejoin="round"/>
<path d="M1113.7,957L1110.5,960.5L1107.1,964L1102.6,966L1097.6,967.2L1093.1,968.9L1088.6,970.9L1083.7,972L1078.6,972.6L1073.5,973.2L1068.2,973.1L1062.8,972.4L1057.5,972.4L1052.2,972.7L1046.7,971.3L1041.3,968.2L1036,965.6L1030.6,964.1L1025.1,962.2L1019.9,959.4L1014.8,956.4L1009.6,953.3L1004.8,949.5L1000.2,945.5L995.4,941.6L990.9,937.4L987.5,932.2L984.2,927L980,922.6L975.6,918.1L972.6,912.8L970.4,907.2L967.9,901.8L965.2,896.5L963,891L960.9,885.4L958.9,879.8L958.2,874.2L958.5,868.8L958.3,863.4L957.3,857.8L957.3,852.4L958.9,847.5L960,842.5L960.1,837.1L960.9,831.8L962.9,827.2L965.3,823L968.1,819L971.4,815.5L974.7,812L977.1,807.8L979.9,803.7L984.2,801.3L988.8,799.5L992.7,796.7L996.5,793.7L1001.2,792L1006.3,791.2L1011.2,790.1L1016.2,789.3L1021.4,789.1L1026.6,788.9L1031.9,788.7L1037.3,789.8L1042.8,791.9L1048.2,792.9L1053.6,792.9L1059.2,793.9L1064.5,796.8L1069.7,799.9L1075,802.6L1080.1,805.8L1084.9,809.4L1089.8,812.9L1094.6,816.6L1098.9,821.1L1103.1,825.5L1107.9,829.4L1112.4,833.7L1115.6,839L1118.1,844.6L1121.4,849.6L1125.1,854.6L1127.9,860L1129.9,865.5L1131.8,871.1L1133.3,876.6L1134.2,882.2L1135.7,887.7L1137.6,893.4L1138.2,899L1137.4,904.2L1137,909.5L1137.3,915.1L1136.6,920.3L1134.4,924.8L1132.1,929.2L1130.5,933.8L1128.6,938.4L1126.6,942.9L1124.6,947.5L1121.9,951.6L1117.9,954.4Z" fill="none" stroke="#1c1cff" stroke-width="1.4" stroke-linejoin="round"/>
<path d="M1104.5,949.5L1100.4,951.7L1096.6,954.2L1092.6,956.5L1088.2,958L1084,960L1079.6,961.9L1074.6,962L1069.5,961.7L1064.7,962.5L1059.7,962.7L1054.4,961.2L1049.3,959.7L1044.2,958.6L1039.1,956.7L1034,954.7L1028.8,953.1L1023.8,950.6L1019.1,947.2L1014.2,944.3L1009.2,941.3L1005.2,936.8L1001.7,932L997.6,927.9L993.6,923.6L990.3,918.9L986.8,914.2L983.5,909.3L981.2,904L978.9,898.8L975.9,893.7L974.2,888.3L973.8,882.9L972.6,877.6L971.1,872.2L970.9,866.9L971.3,861.8L971.1,856.5L971.5,851.4L972.6,846.6L973.3,841.6L974.7,836.8L977.8,833.2L980.7,829.6L982.5,825.2L985.1,821.3L988.7,818.4L991.8,815.1L994.9,811.6L998.8,809.1L1002.9,807L1007.1,804.8L1011.8,803.9L1016.8,803.6L1021.4,802.3L1026.1,801.3L1031.3,802.1L1036.4,803L1041.4,802.9L1046.5,803.4L1051.7,804.9L1056.9,806.4L1062,808.3L1066.9,811.3L1071.8,814.1L1076.9,816.5L1081.4,820.1L1085.6,824.3L1090.3,827.5L1095.2,830.9L1099,835.4L1102.4,840.2L1106,844.9L1109,849.9L1111.6,855L1114.7,859.9L1117.3,865.1L1118.6,870.5L1120.5,875.7L1123.1,881L1124.4,886.5L1124.4,891.8L1125.2,897.1L1125.7,902.5L1125,907.5L1124.1,912.4L1123.2,917.3L1121.2,921.7L1119.3,926L1118.5,931.1L1116.8,935.7L1113.6,939.1L1110.6,942.5L1108,946.5Z" fill="none" stroke="#1c1cff" stroke-width="1.4" stroke-linejoin="round"/>
<path d="M1093.9,944.3L1089.8,946.2L1085.3,947.2L1081.6,949.6L1077.7,951.8L1073,952.3L1068.4,953.1L1063.7,953.6L1058.7,952.5L1053.8,951.6L1049,950.8L1044.1,949L1039.2,947.8L1034.2,946.9L1029.5,943.9L1025.1,940.5L1020.3,938.1L1015.9,934.8L1011.8,930.9L1007.6,927.2L1004.1,922.8L1001.1,918.1L997.4,913.9L994.3,909.2L992.1,904.2L989,899.4L986.2,894.5L985.5,889.1L984.6,884L983.3,878.8L982.9,873.7L981.9,868.5L981.2,863.3L982.3,858.5L983.3,853.8L983.8,848.9L985.9,844.7L988.3,840.9L989.8,836.5L992.2,832.6L995.3,829.6L998.2,826.1L1001.6,823.4L1005.3,821L1008.4,817.6L1012.3,815.4L1017.2,815.1L1021.6,814.1L1026.1,813.1L1030.9,813.4L1035.6,813.2L1040.3,812.9L1045.3,813.9L1050.2,814.8L1055.1,816.1L1059.8,819L1064.5,821.5L1069.5,822.9L1074.2,825.9L1078.4,829.6L1082.8,832.8L1086.9,836.6L1090.6,840.8L1094.8,844.6L1098.1,849.2L1100.7,854.2L1103.9,858.8L1106.4,863.7L1107.5,869L1109.7,874L1112.4,879L1113.7,884.2L1114.7,889.5L1115.2,894.7L1114.4,899.5L1114.1,904.5L1114.3,909.6L1112.8,914.1L1111.2,918.4L1110.4,923.3L1108.2,927.3L1105.3,930.7L1103.1,934.7L1100.3,938.1L1097,941.1Z" fill="none" stroke="#1c1cff" stroke-width="1.4" stroke-linejoin="round"/>
<path d="M1085.9,938.1L1082.3,940.3L1078.7,942.5L1074.3,943.3L1070.1,944.3L1065.7,945L1061.2,945.1L1056.7,945.7L1052,944.8L1047.3,943.2L1042.6,942.5L1038,940.5L1033.6,937.5L1029.2,935.2L1024.9,932.3L1020.7,929.2L1016.4,926.1L1012.9,922.1L1009.2,918.2L1005.4,914.4L1002.9,909.6L1000.4,904.9L997.6,900.3L995.7,895.4L993.9,890.5L992.5,885.5L991.9,880.5L990.7,875.5L990.5,870.6L991.5,866L991.5,861.2L991.9,856.4L993.5,852.2L994.8,847.8L996.6,843.8L998.9,840.1L1001.2,836.3L1004.7,833.8L1008.2,831.5L1011.2,828.4L1015,826.6L1019.1,825.3L1022.9,823.3L1027.1,822.2L1031.5,821.5L1036,821.1L1040.7,822.1L1045.3,822.4L1050,823L1054.7,825.3L1059.3,827L1064,828.6L1068.3,831.4L1072.6,834.3L1076.8,837.6L1080.5,841.3L1084.7,844.6L1088.2,848.7L1091.1,853.2L1094.7,857.2L1097.8,861.7L1099.7,866.7L1101.9,871.5L1103.4,876.5L1104.6,881.4L1105.8,886.4L1105.8,891.3L1106.1,896.1L1107,901.2L1106.2,905.9L1105.1,910.3L1104.4,915L1102.6,919.1L1100.6,923L1098.3,926.7L1095.3,929.7L1092.9,933.3L1089.9,936.4Z" fill="none" stroke="#1c1cff" stroke-width="1.4" stroke-linejoin="round"/>
<path d="M1081.1,931.3L1077.5,933.1L1073.7,934.7L1070,936.2L1066.1,937.3L1061.8,937.6L1057.5,937.3L1053.1,937.2L1048.7,936.7L1044.3,935.1L1040.1,932.8L1035.9,930.7L1031.6,928.7L1027.4,926.3L1023.3,923.5L1019.6,920.1L1016.5,916.1L1013.7,911.8L1010.8,907.7L1007.7,903.7L1005.3,899.3L1003.6,894.6L1002,889.9L1000.6,885.2L999.8,880.5L999.5,875.8L999.5,871.2L1000,866.7L1000.8,862.4L1001.4,858L1002.3,853.5L1004.2,849.8L1007,846.8L1009.9,844L1012.5,841L1015.4,838.1L1018.5,835.6L1022,833.6L1025.9,832.2L1030,831.6L1034.2,831.1L1038.4,830.6L1042.7,830.8L1047.1,832L1051.5,833L1055.9,833.9L1060.3,835.3L1064.6,837.7L1068.5,840.7L1072.3,843.9L1076,847.3L1079.6,850.6L1083.4,853.9L1086.7,857.8L1089.1,862.3L1091.2,866.9L1093.4,871.4L1095.3,876L1096.6,880.7L1097.5,885.4L1098.4,890.1L1098.8,894.8L1098.8,899.4L1098.5,904L1097.5,908.3L1095.5,912L1093.5,915.6L1092,919.6L1090.3,923.5L1087.7,926.7L1084.5,929.2Z" fill="none" stroke="#1c1cff" stroke-width="1.4" stroke-linejoin="round"/>
<path d="M1074.6,925.4L1071.3,927.3L1067.6,928.3L1063.7,928.8L1060.1,930.2L1055.9,929.4L1051.9,929.1L1047.9,928.3L1043.8,927.2L1039.8,925.6L1035.9,923.4L1031.8,921.6L1028.6,918L1025.1,915.1L1021.8,911.8L1019.1,907.9L1016.5,904.1L1014.3,899.9L1011.7,896L1010.6,891.5L1009,887.1L1008,882.7L1008.2,878.4L1007.8,874L1008.2,869.8L1008.7,865.5L1010.4,862L1011.8,858.2L1013.3,854.5L1016,851.8L1018,848.5L1021,846.2L1024,843.9L1027.5,842.5L1031,841L1034.7,839.9L1038.9,840.6L1042.7,839.8L1046.8,840.3L1050.8,841.1L1054.9,842.3L1058.9,843.9L1062.9,845.8L1066.5,848.8L1070.4,851L1073.7,854.4L1076.6,858L1079.7,861.5L1082.3,865.4L1084.8,869.4L1086.3,873.8L1088.5,878L1089.6,882.4L1090.3,886.8L1091.3,891.3L1090.9,895.6L1090.5,899.8L1089.3,903.6L1088.7,907.8L1087.1,911.4L1084.9,914.6L1083.3,918.3L1080.4,920.7L1077.8,923.5Z" fill="none" stroke="#1c1cff" stroke-width="1.4" stroke-linejoin="round"/>
<path d="M1069.5,919.8L1066,920.6L1062.7,921.9L1059.1,922.4L1055.6,923.3L1051.7,922.5L1047.9,922L1044.1,920.7L1040.5,918.8L1037,916.5L1033.5,914.3L1030.1,911.7L1027.1,908.6L1024.2,905.3L1022.3,901.3L1020,897.7L1018.2,893.7L1016.4,889.7L1016,885.5L1015.1,881.4L1015.6,877.4L1015.5,873.4L1016.5,869.7L1017.2,865.8L1018.7,862.4L1020.2,858.9L1022.9,856.5L1025.7,854.4L1028.5,852.2L1031.5,850.4L1034.7,848.8L1038.2,848.1L1041.9,847.8L1045.7,848.2L1049.4,848.2L1053.2,849.7L1057,850.8L1060.7,852.7L1064.3,854.7L1067.3,857.9L1070.6,860.6L1073.2,864.1L1076.3,867.1L1078.7,870.9L1080.6,874.8L1081.6,879L1082.9,883.1L1083.6,887.2L1083.9,891.3L1084.1,895.4L1083.5,899.2L1082.8,903.1L1081.3,906.5L1079.5,909.8L1077.2,912.5L1075.5,915.9L1072.5,917.8Z" fill="none" stroke="#1c1cff" stroke-width="1.4" stroke-linejoin="round"/>
<path d="M1065.3,913L1062.6,914.8L1059.5,915.6L1056.2,916L1052.8,915.7L1049.4,915.2L1046.1,914L1042.8,912.9L1039.6,911.2L1036.5,909L1033.5,906.8L1031.1,903.7L1028.6,900.8L1026.8,897.3L1025.3,893.8L1024.2,890.2L1023,886.6L1022.8,882.9L1022.1,879.1L1022.8,875.7L1023.4,872.2L1024.9,869.2L1026.6,866.4L1028.5,863.8L1030.7,861.4L1033.2,859.5L1035.8,857.8L1038.9,856.6L1042.1,856.1L1045.3,855.6L1048.8,856.5L1052.1,856.9L1055.4,858.5L1058.7,859.8L1061.9,861.7L1065,863.7L1067.6,866.6L1070.3,869.4L1072,872.9L1073.9,876.2L1075.2,879.8L1076.2,883.4L1077.2,887.1L1077.4,890.8L1077.4,894.4L1076.8,897.9L1075.8,901.2L1074.2,904.1L1072.6,907L1070.1,908.9L1068.1,911.5Z" fill="none" stroke="#1c1cff" stroke-width="1.4" stroke-linejoin="round"/>
<path d="M1060.8,908.6L1058,909.2L1055.2,909.5L1052.3,909.7L1049.4,909.4L1046.4,909L1043.6,907.3L1040.9,905.7L1038.3,903.7L1036.1,901.2L1033.8,898.9L1032.1,896L1030.5,893.1L1029.8,889.9L1029,886.7L1028.3,883.5L1028.9,880.4L1029.3,877.4L1030.4,874.6L1031.4,871.8L1032.9,869.3L1035,867.4L1037,865.5L1039.9,864.8L1042.4,863.7L1045.1,863L1048.1,862.9L1051,863.2L1053.9,864.5L1056.9,865.2L1059.5,867.1L1062,869.1L1064.5,871.3L1066.3,874.1L1068.3,876.8L1069.7,879.8L1071.1,882.8L1071.6,886.1L1071.4,889.2L1071.6,892.4L1071,895.4L1070.4,898.4L1069,900.9L1067.3,903.3L1065.5,905.5L1063,906.8Z" fill="none" stroke="#1c1cff" stroke-width="1.4" stroke-linejoin="round"/>
<path d="M1057.6,903.5L1055.4,904.5L1053,905.1L1050.5,904.4L1048,904.2L1045.6,903.2L1043.4,901.6L1041.2,900.2L1039,898.5L1037.5,896.2L1035.9,893.9L1034.7,891.4L1034.4,888.6L1033.9,886L1033.9,883.4L1034,880.7L1034.8,878.3L1035.8,875.9L1037.2,873.9L1039.1,872.4L1041.1,871.1L1043.1,869.8L1045.4,869.2L1047.8,869L1050.3,868.5L1052.8,869.6L1055.2,870.7L1057.5,871.7L1059.7,873.4L1061.5,875.4L1063.6,877.2L1064.9,879.7L1065.7,882.3L1066.7,884.9L1066.8,887.6L1066.9,890.2L1066.6,892.8L1066.2,895.4L1065,897.6L1063.5,899.5L1061.8,901.3L1059.8,902.6Z" fill="none" stroke="#1c1cff" stroke-width="1.4" stroke-linejoin="round"/>
<path d="M1110.7,960.1L1107.2,963.2L1103.4,965.8L1099.2,967.8L1094.7,969.2L1090.1,970.5L1085.5,971.7L1080.9,972.8L1076.2,973.7L1071.3,974L1066.3,973.8L1061.2,973.4L1056.2,973L1051.2,972.5L1046.1,971.4L1041,969.6L1036.1,967.6L1031.1,965.5L1026.2,963.5L1021.3,961.2L1016.5,958.5L1011.8,955.5L1007.3,952.2L1002.8,948.8L998.3,945.5L994,941.8L990.1,937.6L986.7,933L983.6,928.2L980.5,923.5L977.4,918.8L974.6,914L972.2,909L970,904L967.9,898.9L965.8,893.8L963.9,888.7L962.2,883.4L961.3,878.2L960.9,873L960.7,867.8L960.4,862.6L960.4,857.5L960.9,852.5L962,847.7L963.3,843L964.7,838.4L966.1,833.8L967.7,829.3L969.8,825L972.3,821.1L975.3,817.6L978.3,814.2L981.3,810.7L984.5,807.4L988.2,804.6L992.1,802.3L996,799.9L999.9,797.5L1003.9,795.1L1008.2,793.2L1012.8,791.9L1017.6,791.2L1022.5,790.9L1027.5,790.7L1032.4,790.6L1037.4,790.9L1042.5,791.8L1047.6,793.1L1052.6,794.4L1057.6,795.5L1062.7,796.7L1067.7,798.5L1072.6,800.7L1077.5,803.3L1082.3,806L1087.1,808.8L1091.7,811.9L1096.1,815.4L1100.2,819.4L1103.9,823.7L1107.8,827.8L1111.7,831.9L1115.4,836.2L1118.7,840.8L1121.6,845.6L1124.3,850.5L1126.9,855.5L1129.3,860.5L1131.4,865.6L1133,870.8L1134.2,876L1135.3,881.2L1136.5,886.4L1137.7,891.6L1138.5,896.9L1138.6,902.1L1138.2,907.1L1137.8,912.1L1137.2,917.1L1136.3,922L1134.8,926.6L1132.8,930.9L1130.4,935L1128,938.9L1125.6,942.9L1123.3,946.9L1120.5,950.6L1117.3,953.9L1114,957Z" fill="none" stroke="#ff1414" stroke-width="1.4" stroke-linejoin="round"/>
<path d="M1096.8,946.3L1093.2,948.7L1089.5,951L1085.4,952.6L1081.3,954L1077.1,955.6L1072.7,956.5L1068.2,957L1063.7,957.6L1059,957.5L1054.2,956.6L1049.4,955.7L1044.6,954.7L1039.9,952.9L1035.3,950.7L1030.7,948.7L1026.1,946.4L1021.8,943.5L1017.4,940.7L1013.2,937.5L1009.4,933.8L1005.6,930.1L1001.7,926.4L998.3,922.3L995.4,917.8L992.3,913.4L989.4,908.9L987.1,904.1L985.2,899.2L983.3,894.3L982.1,889.3L981.3,884.3L980.3,879.3L979.7,874.4L979.9,869.5L979.9,864.7L979.8,859.8L980.3,855L981.5,850.5L982.6,846L984.1,841.6L986.3,837.7L988.6,833.9L991.1,830.2L994.2,827.2L997.5,824.3L1000.5,821.2L1004,818.6L1007.9,816.7L1011.8,814.7L1015.7,812.8L1020,811.5L1024.4,810.5L1028.8,809.6L1033.4,809.3L1038.1,809.5L1042.7,809.5L1047.5,809.9L1052.3,811.3L1057,812.8L1061.8,814.2L1066.4,816.3L1070.9,819L1075.3,821.6L1079.6,824.5L1083.7,827.8L1087.9,831L1092,834.3L1095.7,838.1L1099.1,842.3L1102.7,846.3L1106,850.6L1108.5,855.3L1110.8,860.1L1113.1,864.9L1114.8,869.8L1116.3,874.7L1117.8,879.7L1118.7,884.7L1119.1,889.6L1119.7,894.6L1120.2,899.5L1119.7,904.3L1118.9,909L1118.3,913.7L1117.2,918.2L1115.6,922.5L1113.9,926.8L1112,930.8L1109.4,934.4L1106.7,937.9L1104,941.3L1100.6,944.1Z" fill="none" stroke="#ff1414" stroke-width="1.4" stroke-linejoin="round"/>
<path d="M1089.5,941L1085.7,942.8L1081.8,944.4L1078,946.3L1073.8,947.3L1069.5,947.7L1065.3,948.6L1060.9,948.8L1056.3,948.3L1051.8,947.8L1047.3,946.8L1042.8,945.1L1038.3,943.8L1033.8,942.1L1029.6,939.4L1025.4,936.8L1021.1,934.3L1017.3,931L1013.6,927.5L1009.8,924.1L1006.6,920L1003.6,915.9L1000.6,911.8L998.3,907.2L996.3,902.6L993.7,898.2L991.9,893.5L990.9,888.6L989.6,883.9L988.8,879.1L988.7,874.3L988.4,869.6L988.6,864.9L989.6,860.5L990.2,856L991.2,851.6L993.3,847.8L995.2,843.9L997,840L999.7,836.7L1002.5,833.6L1005.3,830.6L1008.8,828.3L1012.3,826L1015.6,823.5L1019.6,821.9L1023.7,820.9L1027.7,819.4L1032.1,818.9L1036.6,819.1L1041,819.1L1045.5,819.4L1050,820.4L1054.6,821.2L1059.1,822.6L1063.4,824.9L1067.9,826.8L1072.3,828.8L1076.3,831.9L1080.3,835L1084.3,838L1087.8,841.7L1091.2,845.6L1094.6,849.4L1097.4,853.7L1100.1,858L1102.9,862.3L1104.9,867L1106.2,871.7L1108.1,876.4L1109.4,881.2L1110.1,886L1111,890.8L1111.3,895.5L1110.9,900.2L1110.7,904.8L1110.1,909.4L1108.4,913.4L1107.2,917.7L1105.8,921.9L1103.4,925.4L1100.9,928.8L1098.6,932.4L1095.6,935.3L1092.6,938.1Z" fill="none" stroke="#ff1414" stroke-width="1.4" stroke-linejoin="round"/>
<path d="M1081.5,933.1L1078.2,935.2L1074.4,936.5L1070.6,937.7L1066.7,938.7L1062.5,938.5L1058.4,938.9L1054.2,939.3L1049.9,938.3L1045.7,937.1L1041.5,935.6L1037.4,933.7L1033.2,932L1029.3,929.4L1025.6,926.5L1021.7,923.8L1018.4,920.3L1015.3,916.6L1012,913.1L1009.2,909.2L1006.7,905L1004.7,900.7L1003.2,896.2L1001.2,891.9L999.7,887.4L999.3,882.8L998.5,878.3L998.4,873.8L999,869.5L999.3,865.1L1000.2,861L1001.2,856.8L1002.4,852.8L1004.9,849.6L1007.1,846.2L1009.1,842.7L1012,840L1015.1,837.5L1018.3,835.3L1021.9,833.7L1025.5,831.9L1029.3,830.8L1033.3,830.1L1037.2,829L1041.4,829.2L1045.7,830.2L1049.9,830.5L1054.2,831.4L1058.4,832.7L1062.6,834.3L1066.6,836.8L1070.6,839.1L1074.5,841.7L1077.9,845.1L1081.5,848.2L1085,851.5L1087.7,855.5L1090.4,859.4L1092.9,863.5L1095.3,867.7L1097.6,872L1098.6,876.6L1099.5,881.1L1100.8,885.7L1101,890.2L1101.2,894.6L1101.4,899.1L1100.8,903.4L1099.9,907.6L1098.5,911.5L1096.7,915.2L1095.4,919.2L1093.3,922.7L1090.4,925.4L1087.8,928.4L1084.8,931Z" fill="none" stroke="#ff1414" stroke-width="1.4" stroke-linejoin="round"/>
<path d="M1078,925.6L1074.7,927.3L1071.3,928.8L1067.7,930.1L1063.9,930.8L1060.1,931.1L1056.2,931.2L1052.2,931L1048.2,930.1L1044.2,928.7L1040.2,927.2L1036.4,925.3L1032.6,923.2L1028.9,920.7L1025.4,917.9L1022.3,914.6L1019.5,911L1016.8,907.4L1014.3,903.5L1012.4,899.5L1010.5,895.4L1008.8,891.2L1007.6,886.9L1006.9,882.6L1006.6,878.3L1006.6,874L1007.2,870L1007.9,866L1008.7,862L1010.2,858.3L1012.1,855L1014.3,851.9L1016.6,848.9L1019.4,846.3L1022.3,844.1L1025.4,841.9L1028.8,840.3L1032.4,839.2L1036.1,838.4L1040,838L1044,838.2L1048,838.9L1052,839.5L1056,840.4L1060,841.9L1063.8,843.8L1067.6,846L1071.2,848.7L1074.5,851.7L1077.7,854.9L1080.8,858.2L1083.4,861.9L1085.8,865.8L1088,869.8L1089.8,873.9L1091.1,878.2L1092.2,882.4L1093.1,886.7L1093.6,891L1093.6,895.3L1093.4,899.5L1092.6,903.5L1091.1,907.2L1089.6,910.8L1087.9,914.3L1085.9,917.5L1083.5,920.4L1080.9,923.2Z" fill="none" stroke="#ff1414" stroke-width="1.4" stroke-linejoin="round"/>
<path d="M1072.5,919.4L1069.4,921.1L1066.2,922.4L1062.7,923L1059.3,923.9L1055.6,923.9L1051.9,923.9L1048.2,923L1044.5,921.8L1040.9,920.1L1037.4,918.1L1034,916.1L1030.8,913.4L1027.6,910.8L1024.9,907.6L1022.3,904.3L1020.2,900.6L1018.3,896.8L1016.8,892.9L1015.6,889L1014.5,885L1014.4,881L1014.1,877.1L1014.7,873.3L1015.1,869.4L1016.2,865.9L1017.4,862.4L1019.1,859.2L1021.4,856.5L1023.8,853.9L1026.7,852L1029.5,850L1032.7,848.6L1035.8,847L1039.3,846.4L1042.9,846L1046.6,846.2L1050.3,847L1054,847.7L1057.7,849.2L1061.3,850.6L1064.7,853L1068.1,855.2L1071.1,858.1L1074,861.1L1076.8,864.2L1079.2,867.7L1081.4,871.3L1082.9,875.2L1084.4,879.1L1085,883.1L1085.8,887.1L1086.1,891.1L1086.1,895L1085.8,898.9L1084.9,902.5L1083.7,906.1L1081.8,909.1L1080.1,912.3L1077.7,914.8L1075.3,917.3Z" fill="none" stroke="#ff1414" stroke-width="1.4" stroke-linejoin="round"/>
<path d="M1067.5,912.7L1065,914.6L1062.1,915.8L1059,916.5L1055.7,916.3L1052.6,916.9L1049.2,915.8L1045.9,915.2L1042.8,913.6L1039.6,912.2L1036.6,910.1L1033.6,908L1031.6,904.7L1028.9,902.2L1026.7,899.1L1024.9,895.8L1023.6,892.3L1022.4,888.8L1022.1,885.3L1021.2,881.7L1021.6,878.2L1022,874.8L1022.5,871.4L1023.6,868.3L1025.5,865.7L1027.1,863L1029.3,860.7L1031.5,858.5L1034.1,856.7L1037.1,855.9L1040.1,855.1L1043.2,854.1L1046.4,854.2L1049.7,854.6L1053,855.1L1056.3,856.4L1059.5,857.8L1062.5,859.9L1065.3,862.2L1068.2,864.4L1070.9,867L1072.7,870.3L1074.7,873.5L1076.2,876.9L1077.7,880.3L1078.6,883.8L1079.2,887.4L1078.9,890.9L1079.3,894.5L1078.2,897.7L1077.3,900.9L1076,903.9L1074.8,907L1072.5,909.1L1070.4,911.5Z" fill="none" stroke="#ff1414" stroke-width="1.4" stroke-linejoin="round"/>
<path d="M1063.1,908.2L1060.6,909.3L1057.8,909.8L1055.1,910.5L1052.1,910.3L1049.2,909.9L1046.3,909.2L1043.5,907.7L1040.6,906.5L1038.2,904.3L1035.9,902L1033.8,899.4L1032.1,896.7L1030.2,894L1028.9,890.9L1028.1,887.8L1027.6,884.6L1027.7,881.5L1028,878.4L1028.4,875.4L1029.6,872.7L1030.6,869.9L1032.5,867.9L1034.3,865.7L1036.4,863.8L1039,862.8L1041.5,861.7L1044.4,861.6L1047.2,861.3L1050.1,861.4L1053.1,861.9L1056,862.8L1058.8,864.3L1061.3,866.4L1063.8,868.3L1066,870.8L1068,873.4L1069.9,876.1L1071,879.2L1072.4,882.2L1072.9,885.4L1073.4,888.6L1073.2,891.7L1072.5,894.6L1071.8,897.5L1070.6,900.1L1069.4,902.7L1067.7,905L1065.5,906.8Z" fill="none" stroke="#ff1414" stroke-width="1.4" stroke-linejoin="round"/>
<path d="M1059.1,903L1056.8,903.6L1054.5,904.2L1052.1,904.2L1049.6,903.8L1047.2,903.3L1044.9,902L1042.6,900.7L1040.4,899.1L1038.6,897.1L1037,894.8L1035.8,892.4L1034.9,889.8L1034,887.3L1033.7,884.6L1033.8,882L1034.1,879.4L1035.1,877.2L1036,874.9L1037.3,872.9L1039.2,871.4L1040.9,869.9L1043.1,868.9L1045.3,868.2L1047.7,867.9L1050.2,868.3L1052.6,868.8L1055,869.5L1057.3,870.7L1059.6,872.1L1061.5,874.1L1063.1,876.3L1064.8,878.5L1065.7,881.1L1066.6,883.6L1067.2,886.3L1067.2,888.9L1067.3,891.5L1066.6,894L1065.5,896.2L1064.3,898.2L1062.7,900L1061.1,901.7Z" fill="none" stroke="#ff1414" stroke-width="1.4" stroke-linejoin="round"/>
<path d="M1055.4,898L1053.6,898.3L1051.8,898.5L1049.9,898.3L1048,897.9L1046.2,897L1044.5,896L1043.1,894.5L1041.8,892.9L1040.7,891.2L1039.8,889.3L1039.4,887.3L1039.3,885.3L1039.3,883.3L1039.7,881.4L1040.6,879.8L1041.5,878.1L1042.7,876.7L1044.2,875.6L1045.9,875L1047.6,874.4L1049.4,874.3L1051.3,874.4L1053.2,874.9L1055,875.7L1056.6,876.9L1058.2,878.3L1059.4,879.9L1060.5,881.6L1061.2,883.5L1061.9,885.5L1062.1,887.5L1061.8,889.5L1061.3,891.3L1060.8,893.2L1059.8,894.7L1058.5,896L1057,897.1Z" fill="none" stroke="#ff1414" stroke-width="1.4" stroke-linejoin="round"/>
<path d="M917.4,754.1H1186.6M917.4,1006.9H1186.6M925.4,746.1V1014.9M1178.6,746.1V1014.9M925.4,749.9V754.1M925.4,1006.9V1011.1M938,749.9V754.1M938,1006.9V1011.1M950.7,749.9V754.1M950.7,1006.9V1011.1M963.3,749.9V754.1M963.3,1006.9V1011.1M976,749.9V754.1M976,1006.9V1011.1M988.7,749.9V754.1M988.7,1006.9V1011.1M1001.3,749.9V754.1M1001.3,1006.9V1011.1M1014,749.9V754.1M1014,1006.9V1011.1M1026.6,749.9V754.1M1026.6,1006.9V1011.1M1039.3,749.9V754.1M1039.3,1006.9V1011.1M1052,749.9V754.1M1052,1006.9V1011.1M1064.6,749.9V754.1M1064.6,1006.9V1011.1M1077.3,749.9V754.1M1077.3,1006.9V1011.1M1089.9,749.9V754.1M1089.9,1006.9V1011.1M1102.6,749.9V754.1M1102.6,1006.9V1011.1M1115.2,749.9V754.1M1115.2,1006.9V1011.1M1127.9,749.9V754.1M1127.9,1006.9V1011.1M1140.6,749.9V754.1M1140.6,1006.9V1011.1M1153.2,749.9V754.1M1153.2,1006.9V1011.1M1165.9,749.9V754.1M1165.9,1006.9V1011.1M1178.5,749.9V754.1M1178.5,1006.9V1011.1M925.4,746.1V754.1M925.4,1006.9V1014.9M988.7,746.1V754.1M988.7,1006.9V1014.9M1052,746.1V754.1M1052,1006.9V1014.9M1115.2,746.1V754.1M1115.2,1006.9V1014.9M1178.5,746.1V754.1M1178.5,1006.9V1014.9M921.1,1006.9H925.4M1178.6,1006.9H1182.8M921.1,1000.6H925.4M1178.6,1000.6H1182.8M921.1,994.3H925.4M1178.6,994.3H1182.8M921.1,987.9H925.4M1178.6,987.9H1182.8M921.1,981.6H925.4M1178.6,981.6H1182.8M921.1,975.3H925.4M1178.6,975.3H1182.8M921.1,969H925.4M1178.6,969H1182.8M921.1,962.7H925.4M1178.6,962.7H1182.8M921.1,956.3H925.4M1178.6,956.3H1182.8M921.1,950H925.4M1178.6,950H1182.8M921.1,943.7H925.4M1178.6,943.7H1182.8M921.1,937.4H925.4M1178.6,937.4H1182.8M921.1,931.1H925.4M1178.6,931.1H1182.8M921.1,924.7H925.4M1178.6,924.7H1182.8M921.1,918.4H925.4M1178.6,918.4H1182.8M921.1,912.1H925.4M1178.6,912.1H1182.8M921.1,905.8H925.4M1178.6,905.8H1182.8M921.1,899.5H925.4M1178.6,899.5H1182.8M921.1,893.1H925.4M1178.6,893.1H1182.8M921.1,886.8H925.4M1178.6,886.8H1182.8M921.1,880.5H925.4M1178.6,880.5H1182.8M921.1,874.2H925.4M1178.6,874.2H1182.8M921.1,867.9H925.4M1178.6,867.9H1182.8M921.1,861.5H925.4M1178.6,861.5H1182.8M921.1,855.2H925.4M1178.6,855.2H1182.8M921.1,848.9H925.4M1178.6,848.9H1182.8M921.1,842.6H925.4M1178.6,842.6H1182.8M921.1,836.3H925.4M1178.6,836.3H1182.8M921.1,829.9H925.4M1178.6,829.9H1182.8M921.1,823.6H925.4M1178.6,823.6H1182.8M921.1,817.3H925.4M1178.6,817.3H1182.8M921.1,811H925.4M1178.6,811H1182.8M921.1,804.7H925.4M1178.6,804.7H1182.8M921.1,798.3H925.4M1178.6,798.3H1182.8M921.1,792H925.4M1178.6,792H1182.8M921.1,785.7H925.4M1178.6,785.7H1182.8M921.1,779.4H925.4M1178.6,779.4H1182.8M921.1,773.1H925.4M1178.6,773.1H1182.8M921.1,766.7H925.4M1178.6,766.7H1182.8M921.1,760.4H925.4M1178.6,760.4H1182.8M921.1,754.1H925.4M1178.6,754.1H1182.8M917.4,1006.9H925.4M1178.6,1006.9H1186.6M917.4,975.3H925.4M1178.6,975.3H1186.6M917.4,943.7H925.4M1178.6,943.7H1186.6M917.4,912.1H925.4M1178.6,912.1H1186.6M917.4,880.5H925.4M1178.6,880.5H1186.6M917.4,848.9H925.4M1178.6,848.9H1186.6M917.4,817.3H925.4M1178.6,817.3H1186.6M917.4,785.7H925.4M1178.6,785.7H1186.6M917.4,754.1H925.4M1178.6,754.1H1186.6" stroke="#b2b2b2" stroke-width="1" fill="none"/>
<line x1="925.35" y1="880.5" x2="1178.6" y2="880.5" stroke="#1a1a1a" stroke-width="1.1" stroke-dasharray="4.7 4.2" stroke-dashoffset="1.1"/>
<line x1="1051.95" y1="754.1" x2="1051.95" y2="1006.9" stroke="#1a1a1a" stroke-width="1.1" stroke-dasharray="4.7 4.2" stroke-dashoffset="-0.4"/>
</g>
<text x="102" y="42.82" font-size="25.5" text-anchor="end" textLength="12.27" lengthAdjust="spacingAndGlyphs">6</text>
<text x="102" y="78.96" font-size="25.5" text-anchor="end" textLength="12.27" lengthAdjust="spacingAndGlyphs">4</text>
<text x="102" y="115.11" font-size="25.5" text-anchor="end" textLength="12.27" lengthAdjust="spacingAndGlyphs">2</text>
<text x="102" y="151.25" font-size="25.5" text-anchor="end" textLength="12.27" lengthAdjust="spacingAndGlyphs">0</text>
<text x="102" y="187.39" font-size="25.5" text-anchor="end" textLength="12.27" lengthAdjust="spacingAndGlyphs">2</text>
<line x1="71.83" y1="181.29" x2="87.43" y2="181.29" stroke="#000" stroke-width="1.3"/>
<text x="102" y="223.54" font-size="25.5" text-anchor="end" textLength="12.27" lengthAdjust="spacingAndGlyphs">4</text>
<line x1="71.83" y1="217.44" x2="87.43" y2="217.44" stroke="#000" stroke-width="1.3"/>
<text x="102" y="259.68" font-size="25.5" text-anchor="end" textLength="12.27" lengthAdjust="spacingAndGlyphs">6</text>
<line x1="71.83" y1="253.58" x2="87.43" y2="253.58" stroke="#000" stroke-width="1.3"/>
<text x="171.28" y="304.5" font-size="25.5" text-anchor="middle" textLength="30.66" lengthAdjust="spacingAndGlyphs">0.8</text>
<text x="236.3" y="304.5" font-size="25.5" text-anchor="middle" textLength="30.66" lengthAdjust="spacingAndGlyphs">1.0</text>
<text x="289.43" y="304.5" font-size="25.5" text-anchor="middle" textLength="30.66" lengthAdjust="spacingAndGlyphs">1.2</text>
<text x="334.35" y="304.5" font-size="25.5" text-anchor="middle" textLength="30.66" lengthAdjust="spacingAndGlyphs">1.4</text>
<text x="502" y="50.05" font-size="25.5" text-anchor="end" textLength="12.27" lengthAdjust="spacingAndGlyphs">2</text>
<text x="502" y="100.65" font-size="25.5" text-anchor="end" textLength="12.27" lengthAdjust="spacingAndGlyphs">1</text>
<text x="502" y="151.25" font-size="25.5" text-anchor="end" textLength="12.27" lengthAdjust="spacingAndGlyphs">0</text>
<text x="502" y="201.85" font-size="25.5" text-anchor="end" textLength="12.27" lengthAdjust="spacingAndGlyphs">1</text>
<line x1="471.83" y1="195.75" x2="487.43" y2="195.75" stroke="#000" stroke-width="1.3"/>
<text x="502" y="252.45" font-size="25.5" text-anchor="end" textLength="12.27" lengthAdjust="spacingAndGlyphs">2</text>
<line x1="471.83" y1="246.35" x2="487.43" y2="246.35" stroke="#000" stroke-width="1.3"/>
<text x="571.28" y="304.5" font-size="25.5" text-anchor="middle" textLength="30.66" lengthAdjust="spacingAndGlyphs">0.8</text>
<text x="636.3" y="304.5" font-size="25.5" text-anchor="middle" textLength="30.66" lengthAdjust="spacingAndGlyphs">1.0</text>
<text x="689.43" y="304.5" font-size="25.5" text-anchor="middle" textLength="30.66" lengthAdjust="spacingAndGlyphs">1.2</text>
<text x="734.35" y="304.5" font-size="25.5" text-anchor="middle" textLength="30.66" lengthAdjust="spacingAndGlyphs">1.4</text>
<text x="102" y="394.7" font-size="25.5" text-anchor="end" textLength="12.27" lengthAdjust="spacingAndGlyphs">4</text>
<text x="102" y="426.32" font-size="25.5" text-anchor="end" textLength="12.27" lengthAdjust="spacingAndGlyphs">3</text>
<text x="102" y="457.95" font-size="25.5" text-anchor="end" textLength="12.27" lengthAdjust="spacingAndGlyphs">2</text>
<text x="102" y="489.57" font-size="25.5" text-anchor="end" textLength="12.27" lengthAdjust="spacingAndGlyphs">1</text>
<text x="102" y="521.2" font-size="25.5" text-anchor="end" textLength="12.27" lengthAdjust="spacingAndGlyphs">0</text>
<text x="102" y="552.83" font-size="25.5" text-anchor="end" textLength="12.27" lengthAdjust="spacingAndGlyphs">1</text>
<line x1="71.83" y1="546.73" x2="87.43" y2="546.73" stroke="#000" stroke-width="1.3"/>
<text x="102" y="584.45" font-size="25.5" text-anchor="end" textLength="12.27" lengthAdjust="spacingAndGlyphs">2</text>
<line x1="71.83" y1="578.35" x2="87.43" y2="578.35" stroke="#000" stroke-width="1.3"/>
<text x="102" y="616.08" font-size="25.5" text-anchor="end" textLength="12.27" lengthAdjust="spacingAndGlyphs">3</text>
<line x1="71.83" y1="609.98" x2="87.43" y2="609.98" stroke="#000" stroke-width="1.3"/>
<text x="102" y="647.7" font-size="25.5" text-anchor="end" textLength="12.27" lengthAdjust="spacingAndGlyphs">4</text>
<line x1="71.83" y1="641.6" x2="87.43" y2="641.6" stroke="#000" stroke-width="1.3"/>
<text x="185.12" y="674.45" font-size="25.5" text-anchor="middle" textLength="30.66" lengthAdjust="spacingAndGlyphs">0.8</text>
<text x="246.6" y="674.45" font-size="25.5" text-anchor="middle" textLength="30.66" lengthAdjust="spacingAndGlyphs">1.0</text>
<text x="296.83" y="674.45" font-size="25.5" text-anchor="middle" textLength="30.66" lengthAdjust="spacingAndGlyphs">1.2</text>
<text x="339.3" y="674.45" font-size="25.5" text-anchor="middle" textLength="30.66" lengthAdjust="spacingAndGlyphs">1.4</text>
<text x="502" y="394.7" font-size="25.5" text-anchor="end" textLength="30.66" lengthAdjust="spacingAndGlyphs">1.0</text>
<text x="502" y="457.95" font-size="25.5" text-anchor="end" textLength="30.66" lengthAdjust="spacingAndGlyphs">0.5</text>
<text x="502" y="521.2" font-size="25.5" text-anchor="end" textLength="12.27" lengthAdjust="spacingAndGlyphs">0</text>
<text x="502" y="584.45" font-size="25.5" text-anchor="end" textLength="30.66" lengthAdjust="spacingAndGlyphs">0.5</text>
<line x1="453.44" y1="578.35" x2="469.04" y2="578.35" stroke="#000" stroke-width="1.3"/>
<text x="502" y="647.7" font-size="25.5" text-anchor="end" textLength="30.66" lengthAdjust="spacingAndGlyphs">1.0</text>
<line x1="453.44" y1="641.6" x2="469.04" y2="641.6" stroke="#000" stroke-width="1.3"/>
<text x="585.12" y="674.45" font-size="25.5" text-anchor="middle" textLength="30.66" lengthAdjust="spacingAndGlyphs">0.8</text>
<text x="646.6" y="674.45" font-size="25.5" text-anchor="middle" textLength="30.66" lengthAdjust="spacingAndGlyphs">1.0</text>
<text x="696.83" y="674.45" font-size="25.5" text-anchor="middle" textLength="30.66" lengthAdjust="spacingAndGlyphs">1.2</text>
<text x="739.3" y="674.45" font-size="25.5" text-anchor="middle" textLength="30.66" lengthAdjust="spacingAndGlyphs">1.4</text>
<text x="102" y="763.05" font-size="25.5" text-anchor="end" textLength="30.66" lengthAdjust="spacingAndGlyphs">2.0</text>
<text x="102" y="794.66" font-size="25.5" text-anchor="end" textLength="30.66" lengthAdjust="spacingAndGlyphs">1.5</text>
<text x="102" y="826.27" font-size="25.5" text-anchor="end" textLength="30.66" lengthAdjust="spacingAndGlyphs">1.0</text>
<text x="102" y="857.89" font-size="25.5" text-anchor="end" textLength="30.66" lengthAdjust="spacingAndGlyphs">0.5</text>
<text x="102" y="889.5" font-size="25.5" text-anchor="end" textLength="12.27" lengthAdjust="spacingAndGlyphs">0</text>
<text x="102" y="921.11" font-size="25.5" text-anchor="end" textLength="30.66" lengthAdjust="spacingAndGlyphs">0.5</text>
<line x1="53.44" y1="915.01" x2="69.04" y2="915.01" stroke="#000" stroke-width="1.3"/>
<text x="102" y="952.73" font-size="25.5" text-anchor="end" textLength="30.66" lengthAdjust="spacingAndGlyphs">1.0</text>
<line x1="53.44" y1="946.62" x2="69.04" y2="946.62" stroke="#000" stroke-width="1.3"/>
<text x="102" y="984.34" font-size="25.5" text-anchor="end" textLength="30.66" lengthAdjust="spacingAndGlyphs">1.5</text>
<line x1="53.44" y1="978.24" x2="69.04" y2="978.24" stroke="#000" stroke-width="1.3"/>
<text x="102" y="1015.95" font-size="25.5" text-anchor="end" textLength="30.66" lengthAdjust="spacingAndGlyphs">2.0</text>
<line x1="53.44" y1="1009.85" x2="69.04" y2="1009.85" stroke="#000" stroke-width="1.3"/>
<text x="171.28" y="1042.7" font-size="25.5" text-anchor="middle" textLength="30.66" lengthAdjust="spacingAndGlyphs">0.8</text>
<text x="236.3" y="1042.7" font-size="25.5" text-anchor="middle" textLength="30.66" lengthAdjust="spacingAndGlyphs">1.0</text>
<text x="289.43" y="1042.7" font-size="25.5" text-anchor="middle" textLength="30.66" lengthAdjust="spacingAndGlyphs">1.2</text>
<text x="334.35" y="1042.7" font-size="25.5" text-anchor="middle" textLength="30.66" lengthAdjust="spacingAndGlyphs">1.4</text>
<text x="502" y="763.05" font-size="25.5" text-anchor="end" textLength="30.66" lengthAdjust="spacingAndGlyphs">2.0</text>
<text x="502" y="794.66" font-size="25.5" text-anchor="end" textLength="30.66" lengthAdjust="spacingAndGlyphs">1.5</text>
<text x="502" y="826.27" font-size="25.5" text-anchor="end" textLength="30.66" lengthAdjust="spacingAndGlyphs">1.0</text>
<text x="502" y="857.89" font-size="25.5" text-anchor="end" textLength="30.66" lengthAdjust="spacingAndGlyphs">0.5</text>
<text x="502" y="889.5" font-size="25.5" text-anchor="end" textLength="12.27" lengthAdjust="spacingAndGlyphs">0</text>
<text x="502" y="921.11" font-size="25.5" text-anchor="end" textLength="30.66" lengthAdjust="spacingAndGlyphs">0.5</text>
<line x1="453.44" y1="915.01" x2="469.04" y2="915.01" stroke="#000" stroke-width="1.3"/>
<text x="502" y="952.73" font-size="25.5" text-anchor="end" textLength="30.66" lengthAdjust="spacingAndGlyphs">1.0</text>
<line x1="453.44" y1="946.62" x2="469.04" y2="946.62" stroke="#000" stroke-width="1.3"/>
<text x="502" y="984.34" font-size="25.5" text-anchor="end" textLength="30.66" lengthAdjust="spacingAndGlyphs">1.5</text>
<line x1="453.44" y1="978.24" x2="469.04" y2="978.24" stroke="#000" stroke-width="1.3"/>
<text x="502" y="1015.95" font-size="25.5" text-anchor="end" textLength="30.66" lengthAdjust="spacingAndGlyphs">2.0</text>
<line x1="453.44" y1="1009.85" x2="469.04" y2="1009.85" stroke="#000" stroke-width="1.3"/>
<text x="571.28" y="1042.7" font-size="25.5" text-anchor="middle" textLength="30.66" lengthAdjust="spacingAndGlyphs">0.8</text>
<text x="636.3" y="1042.7" font-size="25.5" text-anchor="middle" textLength="30.66" lengthAdjust="spacingAndGlyphs">1.0</text>
<text x="689.43" y="1042.7" font-size="25.5" text-anchor="middle" textLength="30.66" lengthAdjust="spacingAndGlyphs">1.2</text>
<text x="734.35" y="1042.7" font-size="25.5" text-anchor="middle" textLength="30.66" lengthAdjust="spacingAndGlyphs">1.4</text>
<text x="907.9" y="23.2" font-size="25.5" text-anchor="end" textLength="12.27" lengthAdjust="spacingAndGlyphs">3</text>
<text x="907.9" y="65.7" font-size="25.5" text-anchor="end" textLength="12.27" lengthAdjust="spacingAndGlyphs">2</text>
<text x="907.9" y="108.2" font-size="25.5" text-anchor="end" textLength="12.27" lengthAdjust="spacingAndGlyphs">1</text>
<text x="907.9" y="150.7" font-size="25.5" text-anchor="end" textLength="12.27" lengthAdjust="spacingAndGlyphs">0</text>
<text x="907.9" y="193.2" font-size="25.5" text-anchor="end" textLength="12.27" lengthAdjust="spacingAndGlyphs">1</text>
<line x1="877.73" y1="187.1" x2="893.33" y2="187.1" stroke="#000" stroke-width="1.3"/>
<text x="907.9" y="235.7" font-size="25.5" text-anchor="end" textLength="12.27" lengthAdjust="spacingAndGlyphs">2</text>
<line x1="877.73" y1="229.6" x2="893.33" y2="229.6" stroke="#000" stroke-width="1.3"/>
<text x="907.9" y="278.2" font-size="25.5" text-anchor="end" textLength="12.27" lengthAdjust="spacingAndGlyphs">3</text>
<line x1="877.73" y1="272.1" x2="893.33" y2="272.1" stroke="#000" stroke-width="1.3"/>
<line x1="955.22" y1="297.7" x2="970.82" y2="297.7" stroke="#000" stroke-width="1.3"/>
<text x="972.52" y="303.8" font-size="25.5" text-anchor="start" textLength="12.27" lengthAdjust="spacingAndGlyphs">4</text>
<text x="1052.45" y="303.8" font-size="25.5" text-anchor="middle" textLength="12.27" lengthAdjust="spacingAndGlyphs">0</text>
<text x="1137.45" y="303.8" font-size="25.5" text-anchor="middle" textLength="12.27" lengthAdjust="spacingAndGlyphs">4</text>
<text x="907.9" y="394.3" font-size="25.5" text-anchor="end" textLength="30.66" lengthAdjust="spacingAndGlyphs">2.0</text>
<text x="907.9" y="425.9" font-size="25.5" text-anchor="end" textLength="30.66" lengthAdjust="spacingAndGlyphs">1.5</text>
<text x="907.9" y="457.5" font-size="25.5" text-anchor="end" textLength="30.66" lengthAdjust="spacingAndGlyphs">1.0</text>
<text x="907.9" y="489.1" font-size="25.5" text-anchor="end" textLength="30.66" lengthAdjust="spacingAndGlyphs">0.5</text>
<text x="907.9" y="520.7" font-size="25.5" text-anchor="end" textLength="12.27" lengthAdjust="spacingAndGlyphs">0</text>
<text x="907.9" y="552.3" font-size="25.5" text-anchor="end" textLength="30.66" lengthAdjust="spacingAndGlyphs">0.5</text>
<line x1="859.34" y1="546.2" x2="874.94" y2="546.2" stroke="#000" stroke-width="1.3"/>
<text x="907.9" y="583.9" font-size="25.5" text-anchor="end" textLength="30.66" lengthAdjust="spacingAndGlyphs">1.0</text>
<line x1="859.34" y1="577.8" x2="874.94" y2="577.8" stroke="#000" stroke-width="1.3"/>
<text x="907.9" y="615.5" font-size="25.5" text-anchor="end" textLength="30.66" lengthAdjust="spacingAndGlyphs">1.5</text>
<line x1="859.34" y1="609.4" x2="874.94" y2="609.4" stroke="#000" stroke-width="1.3"/>
<text x="907.9" y="647.1" font-size="25.5" text-anchor="end" textLength="30.66" lengthAdjust="spacingAndGlyphs">2.0</text>
<line x1="859.34" y1="641" x2="874.94" y2="641" stroke="#000" stroke-width="1.3"/>
<line x1="913.07" y1="666.7" x2="928.67" y2="666.7" stroke="#000" stroke-width="1.3"/>
<text x="930.37" y="672.8" font-size="25.5" text-anchor="start" textLength="12.27" lengthAdjust="spacingAndGlyphs">4</text>
<line x1="976.37" y1="666.7" x2="991.97" y2="666.7" stroke="#000" stroke-width="1.3"/>
<text x="993.67" y="672.8" font-size="25.5" text-anchor="start" textLength="12.27" lengthAdjust="spacingAndGlyphs">2</text>
<text x="1051.9" y="672.8" font-size="25.5" text-anchor="middle" textLength="12.27" lengthAdjust="spacingAndGlyphs">0</text>
<text x="1115.2" y="672.8" font-size="25.5" text-anchor="middle" textLength="12.27" lengthAdjust="spacingAndGlyphs">2</text>
<text x="1178.5" y="672.8" font-size="25.5" text-anchor="middle" textLength="12.27" lengthAdjust="spacingAndGlyphs">4</text>
<text x="907.9" y="762.95" font-size="25.5" text-anchor="end" textLength="30.66" lengthAdjust="spacingAndGlyphs">2.0</text>
<text x="907.9" y="794.55" font-size="25.5" text-anchor="end" textLength="30.66" lengthAdjust="spacingAndGlyphs">1.5</text>
<text x="907.9" y="826.15" font-size="25.5" text-anchor="end" textLength="30.66" lengthAdjust="spacingAndGlyphs">1.0</text>
<text x="907.9" y="857.75" font-size="25.5" text-anchor="end" textLength="30.66" lengthAdjust="spacingAndGlyphs">0.5</text>
<text x="907.9" y="889.35" font-size="25.5" text-anchor="end" textLength="12.27" lengthAdjust="spacingAndGlyphs">0</text>
<text x="907.9" y="920.95" font-size="25.5" text-anchor="end" textLength="30.66" lengthAdjust="spacingAndGlyphs">0.5</text>
<line x1="859.34" y1="914.85" x2="874.94" y2="914.85" stroke="#000" stroke-width="1.3"/>
<text x="907.9" y="952.55" font-size="25.5" text-anchor="end" textLength="30.66" lengthAdjust="spacingAndGlyphs">1.0</text>
<line x1="859.34" y1="946.45" x2="874.94" y2="946.45" stroke="#000" stroke-width="1.3"/>
<text x="907.9" y="984.15" font-size="25.5" text-anchor="end" textLength="30.66" lengthAdjust="spacingAndGlyphs">1.5</text>
<line x1="859.34" y1="978.05" x2="874.94" y2="978.05" stroke="#000" stroke-width="1.3"/>
<text x="907.9" y="1015.75" font-size="25.5" text-anchor="end" textLength="30.66" lengthAdjust="spacingAndGlyphs">2.0</text>
<line x1="859.34" y1="1009.65" x2="874.94" y2="1009.65" stroke="#000" stroke-width="1.3"/>
<line x1="913.12" y1="1035.3" x2="928.72" y2="1035.3" stroke="#000" stroke-width="1.3"/>
<text x="930.42" y="1041.4" font-size="25.5" text-anchor="start" textLength="12.27" lengthAdjust="spacingAndGlyphs">2</text>
<line x1="976.42" y1="1035.3" x2="992.02" y2="1035.3" stroke="#000" stroke-width="1.3"/>
<text x="993.72" y="1041.4" font-size="25.5" text-anchor="start" textLength="12.27" lengthAdjust="spacingAndGlyphs">1</text>
<text x="1051.95" y="1041.4" font-size="25.5" text-anchor="middle" textLength="12.27" lengthAdjust="spacingAndGlyphs">0</text>
<text x="1115.25" y="1041.4" font-size="25.5" text-anchor="middle" textLength="12.27" lengthAdjust="spacingAndGlyphs">1</text>
<text x="1178.55" y="1041.4" font-size="25.5" text-anchor="middle" textLength="12.27" lengthAdjust="spacingAndGlyphs">2</text>
<text x="7.4" y="24.6" font-size="28.5" text-anchor="start" font-style="italic">(a)</text>
<text x="406" y="24.6" font-size="28.5" text-anchor="start" font-style="italic">(b)</text>
<text x="811" y="24.6" font-size="28.5" text-anchor="start" font-style="italic">(c)</text>
<text x="7.4" y="394.6" font-size="28.5" text-anchor="start" font-style="italic">(d)</text>
<text x="406" y="394.6" font-size="28.5" text-anchor="start" font-style="italic">(e)</text>
<text x="811" y="394.6" font-size="28.5" text-anchor="start" font-style="italic">(f)</text>
<text x="7.4" y="762.6" font-size="28.5" text-anchor="start" font-style="italic">(g)</text>
<text x="406" y="762.6" font-size="28.5" text-anchor="start" font-style="italic">(h)</text>
<text x="811" y="762.6" font-size="28.5" text-anchor="start" font-style="italic">(i)</text>
<text x="167.2" y="350.1" font-size="28.5" text-anchor="start" font-style="italic">C</text>
<text x="188.2" y="350.1" font-size="28.5" text-anchor="start" font-style="italic">f</text>
<text x="201.4" y="354.7" font-size="19.5" text-anchor="start" font-style="italic">LS</text>
<text x="223.6" y="350.1" font-size="28.5" text-anchor="start" font-style="italic">/</text>
<text x="236.8" y="350.1" font-size="28.5" text-anchor="start" font-style="italic">C</text>
<text x="258" y="350.1" font-size="28.5" text-anchor="start" font-style="italic">f</text>
<line x1="240" y1="325.6" x2="270.8" y2="325.6" stroke="#000" stroke-width="1.3"/>
<line x1="282.3" y1="342.7" x2="301.9" y2="342.7" stroke="#000" stroke-width="1.3"/>
<line x1="292.1" y1="332.9" x2="292.1" y2="352.5" stroke="#000" stroke-width="1.3"/>
<text x="311.8" y="350.1" font-size="28.5" text-anchor="start">1</text>
<text x="167.2" y="718.2" font-size="28.5" text-anchor="start" font-style="italic">C</text>
<text x="188.2" y="718.2" font-size="28.5" text-anchor="start" font-style="italic">f</text>
<text x="201.4" y="722.8" font-size="19.5" text-anchor="start" font-style="italic">LS</text>
<text x="223.6" y="718.2" font-size="28.5" text-anchor="start" font-style="italic">/</text>
<text x="236.8" y="718.2" font-size="28.5" text-anchor="start" font-style="italic">C</text>
<text x="258" y="718.2" font-size="28.5" text-anchor="start" font-style="italic">f</text>
<line x1="240" y1="693.7" x2="270.8" y2="693.7" stroke="#000" stroke-width="1.3"/>
<line x1="282.3" y1="710.8" x2="301.9" y2="710.8" stroke="#000" stroke-width="1.3"/>
<line x1="292.1" y1="701" x2="292.1" y2="720.6" stroke="#000" stroke-width="1.3"/>
<text x="311.8" y="718.2" font-size="28.5" text-anchor="start">1</text>
<text x="167.2" y="1086.5" font-size="28.5" text-anchor="start" font-style="italic">C</text>
<text x="188.2" y="1086.5" font-size="28.5" text-anchor="start" font-style="italic">f</text>
<text x="201.4" y="1091.1" font-size="19.5" text-anchor="start" font-style="italic">LS</text>
<text x="223.6" y="1086.5" font-size="28.5" text-anchor="start" font-style="italic">/</text>
<text x="236.8" y="1086.5" font-size="28.5" text-anchor="start" font-style="italic">C</text>
<text x="258" y="1086.5" font-size="28.5" text-anchor="start" font-style="italic">f</text>
<line x1="240" y1="1062" x2="270.8" y2="1062" stroke="#000" stroke-width="1.3"/>
<line x1="282.3" y1="1079.1" x2="301.9" y2="1079.1" stroke="#000" stroke-width="1.3"/>
<line x1="292.1" y1="1069.3" x2="292.1" y2="1088.9" stroke="#000" stroke-width="1.3"/>
<text x="311.8" y="1086.5" font-size="28.5" text-anchor="start">1</text>
<text x="567.2" y="350.1" font-size="28.5" text-anchor="start" font-style="italic">C</text>
<text x="588.2" y="350.1" font-size="28.5" text-anchor="start" font-style="italic">f</text>
<text x="601.4" y="354.7" font-size="19.5" text-anchor="start" font-style="italic">LS</text>
<text x="623.6" y="350.1" font-size="28.5" text-anchor="start" font-style="italic">/</text>
<text x="636.8" y="350.1" font-size="28.5" text-anchor="start" font-style="italic">C</text>
<text x="658" y="350.1" font-size="28.5" text-anchor="start" font-style="italic">f</text>
<line x1="640" y1="325.6" x2="670.8" y2="325.6" stroke="#000" stroke-width="1.3"/>
<line x1="682.3" y1="342.7" x2="701.9" y2="342.7" stroke="#000" stroke-width="1.3"/>
<line x1="692.1" y1="332.9" x2="692.1" y2="352.5" stroke="#000" stroke-width="1.3"/>
<text x="711.8" y="350.1" font-size="28.5" text-anchor="start">1</text>
<text x="567.2" y="718.2" font-size="28.5" text-anchor="start" font-style="italic">C</text>
<text x="588.2" y="718.2" font-size="28.5" text-anchor="start" font-style="italic">f</text>
<text x="601.4" y="722.8" font-size="19.5" text-anchor="start" font-style="italic">LS</text>
<text x="623.6" y="718.2" font-size="28.5" text-anchor="start" font-style="italic">/</text>
<text x="636.8" y="718.2" font-size="28.5" text-anchor="start" font-style="italic">C</text>
<text x="658" y="718.2" font-size="28.5" text-anchor="start" font-style="italic">f</text>
<line x1="640" y1="693.7" x2="670.8" y2="693.7" stroke="#000" stroke-width="1.3"/>
<line x1="682.3" y1="710.8" x2="701.9" y2="710.8" stroke="#000" stroke-width="1.3"/>
<line x1="692.1" y1="701" x2="692.1" y2="720.6" stroke="#000" stroke-width="1.3"/>
<text x="711.8" y="718.2" font-size="28.5" text-anchor="start">1</text>
<text x="567.2" y="1086.5" font-size="28.5" text-anchor="start" font-style="italic">C</text>
<text x="588.2" y="1086.5" font-size="28.5" text-anchor="start" font-style="italic">f</text>
<text x="601.4" y="1091.1" font-size="19.5" text-anchor="start" font-style="italic">LS</text>
<text x="623.6" y="1086.5" font-size="28.5" text-anchor="start" font-style="italic">/</text>
<text x="636.8" y="1086.5" font-size="28.5" text-anchor="start" font-style="italic">C</text>
<text x="658" y="1086.5" font-size="28.5" text-anchor="start" font-style="italic">f</text>
<line x1="640" y1="1062" x2="670.8" y2="1062" stroke="#000" stroke-width="1.3"/>
<line x1="682.3" y1="1079.1" x2="701.9" y2="1079.1" stroke="#000" stroke-width="1.3"/>
<line x1="692.1" y1="1069.3" x2="692.1" y2="1088.9" stroke="#000" stroke-width="1.3"/>
<text x="711.8" y="1086.5" font-size="28.5" text-anchor="start">1</text>
<text x="33.4" y="155.4" font-size="28.5" text-anchor="start" font-style="italic">u</text>
<line x1="49.1" y1="139.3" x2="61.3" y2="139.3" stroke="#000" stroke-width="1.2"/>
<line x1="55.2" y1="133.2" x2="55.2" y2="145.4" stroke="#000" stroke-width="1.2"/>
<text x="435" y="155.4" font-size="28.5" text-anchor="start" font-style="italic">v</text>
<line x1="450.7" y1="139.3" x2="462.9" y2="139.3" stroke="#000" stroke-width="1.2"/>
<line x1="456.8" y1="133.2" x2="456.8" y2="145.4" stroke="#000" stroke-width="1.2"/>
<text x="841" y="155.4" font-size="28.5" text-anchor="start" font-style="italic">v</text>
<line x1="856.7" y1="139.3" x2="868.9" y2="139.3" stroke="#000" stroke-width="1.2"/>
<line x1="862.8" y1="133.2" x2="862.8" y2="145.4" stroke="#000" stroke-width="1.2"/>
<g transform="translate(57 531) rotate(-90)">
<text x="-1.3" y="0" font-size="28.5" text-anchor="start" font-style="italic">u</text>
<line x1="15.7" y1="-16.1" x2="27.9" y2="-16.1" stroke="#000" stroke-width="1.2"/>
<line x1="21.8" y1="-22.2" x2="21.8" y2="-10" stroke="#000" stroke-width="1.2"/>
<text x="15.8" y="5.4" font-size="19.5" text-anchor="start" font-style="italic">LS</text>
</g>
<g transform="translate(440 531) rotate(-90)">
<text x="-1.3" y="0" font-size="28.5" text-anchor="start" font-style="italic">v</text>
<line x1="15.7" y1="-16.1" x2="27.9" y2="-16.1" stroke="#000" stroke-width="1.2"/>
<line x1="21.8" y1="-22.2" x2="21.8" y2="-10" stroke="#000" stroke-width="1.2"/>
<text x="15.8" y="5.4" font-size="19.5" text-anchor="start" font-style="italic">LS</text>
</g>
<g transform="translate(826 531) rotate(-90)">
<text x="-1.3" y="0" font-size="28.5" text-anchor="start" font-style="italic">v</text>
<line x1="15.7" y1="-16.1" x2="27.9" y2="-16.1" stroke="#000" stroke-width="1.2"/>
<line x1="21.8" y1="-22.2" x2="21.8" y2="-10" stroke="#000" stroke-width="1.2"/>
<text x="15.8" y="5.4" font-size="19.5" text-anchor="start" font-style="italic">LS</text>
</g>
<g transform="translate(38 899) rotate(-90)">
<text x="-1.3" y="0" font-size="28.5" text-anchor="start" font-style="italic">u</text>
<line x1="15.7" y1="-16.1" x2="27.9" y2="-16.1" stroke="#000" stroke-width="1.2"/>
<line x1="21.8" y1="-22.2" x2="21.8" y2="-10" stroke="#000" stroke-width="1.2"/>
<text x="15.8" y="5.4" font-size="19.5" text-anchor="start" font-style="italic">SS</text>
</g>
<g transform="translate(437 899) rotate(-90)">
<text x="-1.3" y="0" font-size="28.5" text-anchor="start" font-style="italic">v</text>
<line x1="15.7" y1="-16.1" x2="27.9" y2="-16.1" stroke="#000" stroke-width="1.2"/>
<line x1="21.8" y1="-22.2" x2="21.8" y2="-10" stroke="#000" stroke-width="1.2"/>
<text x="15.8" y="5.4" font-size="19.5" text-anchor="start" font-style="italic">SS</text>
</g>
<g transform="translate(843 899) rotate(-90)">
<text x="-1.3" y="0" font-size="28.5" text-anchor="start" font-style="italic">v</text>
<line x1="15.7" y1="-16.1" x2="27.9" y2="-16.1" stroke="#000" stroke-width="1.2"/>
<line x1="21.8" y1="-22.2" x2="21.8" y2="-10" stroke="#000" stroke-width="1.2"/>
<text x="15.8" y="5.4" font-size="19.5" text-anchor="start" font-style="italic">SS</text>
</g>
<text x="1036.6" y="347.4" font-size="28.5" text-anchor="start" font-style="italic">u</text>
<line x1="1052.3" y1="331.3" x2="1064.5" y2="331.3" stroke="#000" stroke-width="1.2"/>
<line x1="1058.4" y1="325.2" x2="1058.4" y2="337.4" stroke="#000" stroke-width="1.2"/>
<text x="1033" y="715.8" font-size="28.5" text-anchor="start" font-style="italic">u</text>
<line x1="1048.7" y1="699.7" x2="1060.9" y2="699.7" stroke="#000" stroke-width="1.2"/>
<line x1="1054.8" y1="693.6" x2="1054.8" y2="705.8" stroke="#000" stroke-width="1.2"/>
<text x="1048.8" y="721.2" font-size="19.5" text-anchor="start" font-style="italic">LS</text>
<text x="1033" y="1083.9" font-size="28.5" text-anchor="start" font-style="italic">u</text>
<line x1="1048.7" y1="1067.8" x2="1060.9" y2="1067.8" stroke="#000" stroke-width="1.2"/>
<line x1="1054.8" y1="1061.7" x2="1054.8" y2="1073.9" stroke="#000" stroke-width="1.2"/>
<text x="1048.8" y="1089.3" font-size="19.5" text-anchor="start" font-style="italic">SS</text>
</svg>
</body></html>
